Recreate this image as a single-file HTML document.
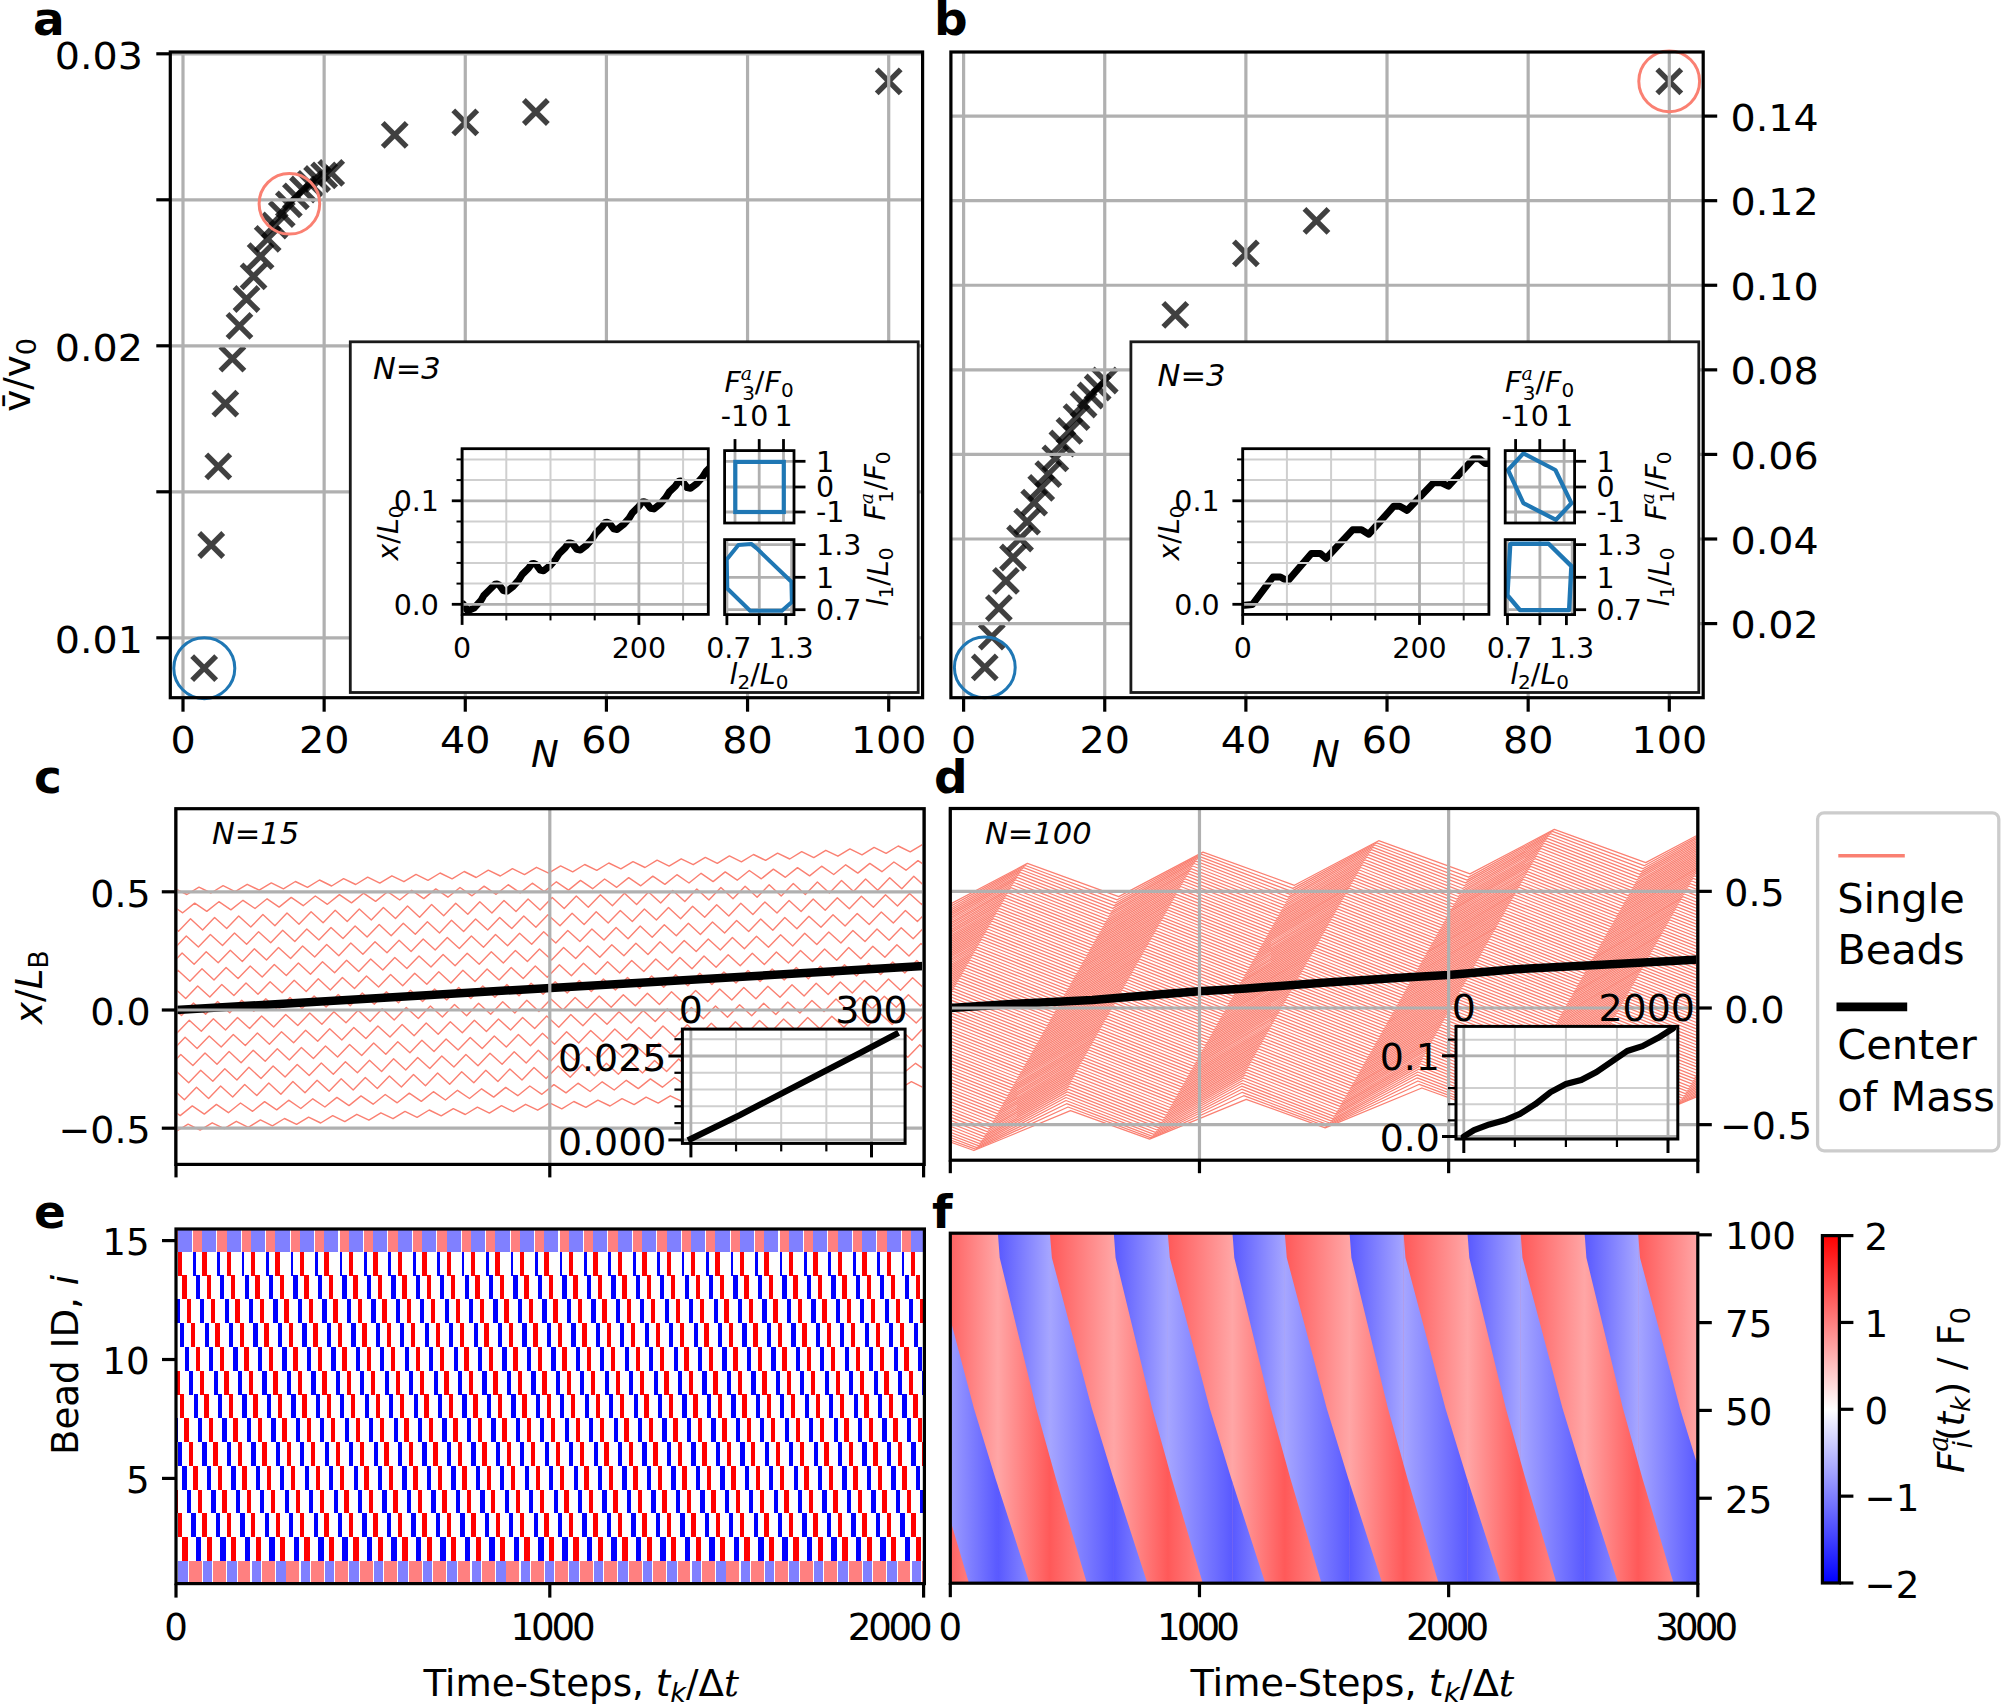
<!DOCTYPE html>
<html><head><meta charset="utf-8"><title>Figure</title>
<style>html,body{margin:0;padding:0;background:#fff;}svg{display:block;}</style>
</head><body>
<svg xmlns="http://www.w3.org/2000/svg" width="2002" height="1704" viewBox="0 0 2002 1704">
<rect x="0" y="0" width="2002" height="1704" fill="#fff"/>
<defs><linearGradient id="gr0" gradientUnits="userSpaceOnUse" x1="950.3" y1="0" x2="997.9" y2="0"><stop offset="0" stop-color="#ff6363"/><stop offset="1" stop-color="#ffa6a6"/></linearGradient>
<linearGradient id="gb0" gradientUnits="userSpaceOnUse" x1="950.3" y1="0" x2="997.9" y2="0"><stop offset="0" stop-color="#9c9cff"/><stop offset="1" stop-color="#5959ff"/></linearGradient>
<linearGradient id="gr1" gradientUnits="userSpaceOnUse" x1="997.9" y1="0" x2="1049.9" y2="0"><stop offset="0" stop-color="#ffa6a6"/><stop offset="1" stop-color="#ff5959"/></linearGradient>
<linearGradient id="gb1" gradientUnits="userSpaceOnUse" x1="997.9" y1="0" x2="1049.9" y2="0"><stop offset="0" stop-color="#5959ff"/><stop offset="1" stop-color="#a6a6ff"/></linearGradient>
<linearGradient id="gr2" gradientUnits="userSpaceOnUse" x1="1049.9" y1="0" x2="1113.8" y2="0"><stop offset="0" stop-color="#ff5959"/><stop offset="1" stop-color="#ffa6a6"/></linearGradient>
<linearGradient id="gb2" gradientUnits="userSpaceOnUse" x1="1049.9" y1="0" x2="1113.8" y2="0"><stop offset="0" stop-color="#a6a6ff"/><stop offset="1" stop-color="#5959ff"/></linearGradient>
<linearGradient id="gr3" gradientUnits="userSpaceOnUse" x1="1113.8" y1="0" x2="1167.8" y2="0"><stop offset="0" stop-color="#ffa6a6"/><stop offset="1" stop-color="#ff5959"/></linearGradient>
<linearGradient id="gb3" gradientUnits="userSpaceOnUse" x1="1113.8" y1="0" x2="1167.8" y2="0"><stop offset="0" stop-color="#5959ff"/><stop offset="1" stop-color="#a6a6ff"/></linearGradient>
<linearGradient id="gr4" gradientUnits="userSpaceOnUse" x1="1167.8" y1="0" x2="1232.5" y2="0"><stop offset="0" stop-color="#ff5959"/><stop offset="1" stop-color="#ffa6a6"/></linearGradient>
<linearGradient id="gb4" gradientUnits="userSpaceOnUse" x1="1167.8" y1="0" x2="1232.5" y2="0"><stop offset="0" stop-color="#a6a6ff"/><stop offset="1" stop-color="#5959ff"/></linearGradient>
<linearGradient id="gr5" gradientUnits="userSpaceOnUse" x1="1232.5" y1="0" x2="1284.8" y2="0"><stop offset="0" stop-color="#ffa6a6"/><stop offset="1" stop-color="#ff5959"/></linearGradient>
<linearGradient id="gb5" gradientUnits="userSpaceOnUse" x1="1232.5" y1="0" x2="1284.8" y2="0"><stop offset="0" stop-color="#5959ff"/><stop offset="1" stop-color="#a6a6ff"/></linearGradient>
<linearGradient id="gr6" gradientUnits="userSpaceOnUse" x1="1284.8" y1="0" x2="1349.6" y2="0"><stop offset="0" stop-color="#ff5959"/><stop offset="1" stop-color="#ffa6a6"/></linearGradient>
<linearGradient id="gb6" gradientUnits="userSpaceOnUse" x1="1284.8" y1="0" x2="1349.6" y2="0"><stop offset="0" stop-color="#a6a6ff"/><stop offset="1" stop-color="#5959ff"/></linearGradient>
<linearGradient id="gr7" gradientUnits="userSpaceOnUse" x1="1349.6" y1="0" x2="1403.5" y2="0"><stop offset="0" stop-color="#ffa6a6"/><stop offset="1" stop-color="#ff5959"/></linearGradient>
<linearGradient id="gb7" gradientUnits="userSpaceOnUse" x1="1349.6" y1="0" x2="1403.5" y2="0"><stop offset="0" stop-color="#5959ff"/><stop offset="1" stop-color="#a6a6ff"/></linearGradient>
<linearGradient id="gr8" gradientUnits="userSpaceOnUse" x1="1403.5" y1="0" x2="1467.5" y2="0"><stop offset="0" stop-color="#ff5959"/><stop offset="1" stop-color="#ffa6a6"/></linearGradient>
<linearGradient id="gb8" gradientUnits="userSpaceOnUse" x1="1403.5" y1="0" x2="1467.5" y2="0"><stop offset="0" stop-color="#a6a6ff"/><stop offset="1" stop-color="#5959ff"/></linearGradient>
<linearGradient id="gr9" gradientUnits="userSpaceOnUse" x1="1467.5" y1="0" x2="1520.6" y2="0"><stop offset="0" stop-color="#ffa6a6"/><stop offset="1" stop-color="#ff5959"/></linearGradient>
<linearGradient id="gb9" gradientUnits="userSpaceOnUse" x1="1467.5" y1="0" x2="1520.6" y2="0"><stop offset="0" stop-color="#5959ff"/><stop offset="1" stop-color="#a6a6ff"/></linearGradient>
<linearGradient id="gr10" gradientUnits="userSpaceOnUse" x1="1520.6" y1="0" x2="1584.6" y2="0"><stop offset="0" stop-color="#ff5959"/><stop offset="1" stop-color="#ffa6a6"/></linearGradient>
<linearGradient id="gb10" gradientUnits="userSpaceOnUse" x1="1520.6" y1="0" x2="1584.6" y2="0"><stop offset="0" stop-color="#a6a6ff"/><stop offset="1" stop-color="#5959ff"/></linearGradient>
<linearGradient id="gr11" gradientUnits="userSpaceOnUse" x1="1584.6" y1="0" x2="1638.1" y2="0"><stop offset="0" stop-color="#ffa6a6"/><stop offset="1" stop-color="#ff5959"/></linearGradient>
<linearGradient id="gb11" gradientUnits="userSpaceOnUse" x1="1584.6" y1="0" x2="1638.1" y2="0"><stop offset="0" stop-color="#5959ff"/><stop offset="1" stop-color="#a6a6ff"/></linearGradient>
<linearGradient id="gr12" gradientUnits="userSpaceOnUse" x1="1638.1" y1="0" x2="1697.8" y2="0"><stop offset="0" stop-color="#ff5959"/><stop offset="1" stop-color="#ffa6a6"/></linearGradient>
<linearGradient id="gb12" gradientUnits="userSpaceOnUse" x1="1638.1" y1="0" x2="1697.8" y2="0"><stop offset="0" stop-color="#a6a6ff"/><stop offset="1" stop-color="#5959ff"/></linearGradient>
<linearGradient id="cbar" x1="0" y1="0" x2="0" y2="1"><stop offset="0" stop-color="#ff0000"/><stop offset="0.5" stop-color="#ffffff"/><stop offset="1" stop-color="#0000ff"/></linearGradient></defs>
<path d="M192.17 656.2L216.17 680.2M192.17 680.2L216.17 656.2" stroke="#000" stroke-opacity="0.75" stroke-width="5.4" fill="none"/>
<path d="M199.23 533L223.23 557M199.23 557L223.23 533" stroke="#000" stroke-opacity="0.75" stroke-width="5.4" fill="none"/>
<path d="M206.28 454.4L230.28 478.4M206.28 478.4L230.28 454.4" stroke="#000" stroke-opacity="0.75" stroke-width="5.4" fill="none"/>
<path d="M213.34 391.6L237.34 415.6M213.34 415.6L237.34 391.6" stroke="#000" stroke-opacity="0.75" stroke-width="5.4" fill="none"/>
<path d="M220.4 346.7L244.4 370.7M220.4 370.7L244.4 346.7" stroke="#000" stroke-opacity="0.75" stroke-width="5.4" fill="none"/>
<path d="M227.46 313.8L251.46 337.8M227.46 337.8L251.46 313.8" stroke="#000" stroke-opacity="0.75" stroke-width="5.4" fill="none"/>
<path d="M234.51 287L258.51 311M234.51 311L258.51 287" stroke="#000" stroke-opacity="0.75" stroke-width="5.4" fill="none"/>
<path d="M241.57 264.3L265.57 288.3M241.57 288.3L265.57 264.3" stroke="#000" stroke-opacity="0.75" stroke-width="5.4" fill="none"/>
<path d="M248.63 244.2L272.63 268.2M248.63 268.2L272.63 244.2" stroke="#000" stroke-opacity="0.75" stroke-width="5.4" fill="none"/>
<path d="M255.68 226.8L279.68 250.8M255.68 250.8L279.68 226.8" stroke="#000" stroke-opacity="0.75" stroke-width="5.4" fill="none"/>
<path d="M262.74 213.5L286.74 237.5M262.74 237.5L286.74 213.5" stroke="#000" stroke-opacity="0.75" stroke-width="5.4" fill="none"/>
<path d="M269.8 202.2L293.8 226.2M269.8 226.2L293.8 202.2" stroke="#000" stroke-opacity="0.75" stroke-width="5.4" fill="none"/>
<path d="M276.86 192.4L300.86 216.4M276.86 216.4L300.86 192.4" stroke="#000" stroke-opacity="0.75" stroke-width="5.4" fill="none"/>
<path d="M283.91 184.3L307.91 208.3M283.91 208.3L307.91 184.3" stroke="#000" stroke-opacity="0.75" stroke-width="5.4" fill="none"/>
<path d="M290.97 177.5L314.97 201.5M290.97 201.5L314.97 177.5" stroke="#000" stroke-opacity="0.75" stroke-width="5.4" fill="none"/>
<path d="M298.03 171.8L322.03 195.8M298.03 195.8L322.03 171.8" stroke="#000" stroke-opacity="0.75" stroke-width="5.4" fill="none"/>
<path d="M305.08 167L329.08 191M305.08 191L329.08 167" stroke="#000" stroke-opacity="0.75" stroke-width="5.4" fill="none"/>
<path d="M312.14 163.3L336.14 187.3M312.14 187.3L336.14 163.3" stroke="#000" stroke-opacity="0.75" stroke-width="5.4" fill="none"/>
<path d="M319.2 160.8L343.2 184.8M319.2 184.8L343.2 160.8" stroke="#000" stroke-opacity="0.75" stroke-width="5.4" fill="none"/>
<path d="M382.71 122.9L406.71 146.9M382.71 146.9L406.71 122.9" stroke="#000" stroke-opacity="0.75" stroke-width="5.4" fill="none"/>
<path d="M453.28 110.4L477.28 134.4M453.28 134.4L477.28 110.4" stroke="#000" stroke-opacity="0.75" stroke-width="5.4" fill="none"/>
<path d="M523.85 100L547.85 124M523.85 124L547.85 100" stroke="#000" stroke-opacity="0.75" stroke-width="5.4" fill="none"/>
<path d="M876.7 69.3L900.7 93.3M876.7 93.3L900.7 69.3" stroke="#000" stroke-opacity="0.75" stroke-width="5.4" fill="none"/>
<line x1="183" y1="52" x2="183" y2="697.7" stroke="#b0b0b0" stroke-width="3.2"/>
<line x1="324.14" y1="52" x2="324.14" y2="697.7" stroke="#b0b0b0" stroke-width="3.2"/>
<line x1="465.28" y1="52" x2="465.28" y2="697.7" stroke="#b0b0b0" stroke-width="3.2"/>
<line x1="606.42" y1="52" x2="606.42" y2="697.7" stroke="#b0b0b0" stroke-width="3.2"/>
<line x1="747.56" y1="52" x2="747.56" y2="697.7" stroke="#b0b0b0" stroke-width="3.2"/>
<line x1="888.7" y1="52" x2="888.7" y2="697.7" stroke="#b0b0b0" stroke-width="3.2"/>
<line x1="170.3" y1="637.8" x2="922.6" y2="637.8" stroke="#b0b0b0" stroke-width="3.2"/>
<line x1="170.3" y1="491.8" x2="922.6" y2="491.8" stroke="#b0b0b0" stroke-width="3.2"/>
<line x1="170.3" y1="345.8" x2="922.6" y2="345.8" stroke="#b0b0b0" stroke-width="3.2"/>
<line x1="170.3" y1="199.8" x2="922.6" y2="199.8" stroke="#b0b0b0" stroke-width="3.2"/>
<line x1="170.3" y1="53.8" x2="922.6" y2="53.8" stroke="#b0b0b0" stroke-width="3.2"/>
<circle cx="204.3" cy="668.2" r="30.5" fill="none" stroke="#1f77b4" stroke-width="3"/>
<circle cx="289.4" cy="203.8" r="30.3" fill="none" stroke="#fa8072" stroke-width="3"/>
<rect x="350.3" y="341.8" width="567.9" height="350.7" fill="#fff" stroke="#1a1a1a" stroke-width="2.8"/>
<text x="373" y="378.5" font-family="'DejaVu Sans', 'Liberation Sans', sans-serif" font-size="30.5" font-style="italic">N=3</text>
<clipPath id="clipTa"><rect x="462.1" y="448.7" width="246.2" height="165.7"/></clipPath>
<path d="M463.1 603.9L467.7 610.9L474 608.1L481 600.4L483.8 595.5L489.4 589.9L495 584.3L497 584.1L499.2 585L503.4 590.6L506.9 591.3L513.1 586.4L518.7 580.1L522.2 574.5L528.5 568.3L531.8 563.7L533.8 563.5L536 564.4L540.1 570L543.6 570.7L549.9 565.8L555.5 559.5L559 553.9L565.2 547.7L568.5 543.1L570.5 542.9L572.7 543.8L576.9 549.4L580.4 550.1L586.6 545.2L592.2 538.9L595.7 533.3L602 527.1L605.2 522.5L607.2 522.3L609.5 523.2L613.6 528.8L617.1 529.5L623.4 524.6L629 518.3L632.5 512.7L638.8 506.5L642 501.9L644 501.7L646.2 502.6L650.4 508.2L653.9 508.9L660.1 504L665.7 497.7L669.2 492.1L675.5 485.9L678.8 481.3L680.8 481.1L683 482L687.1 487.6L690.6 488.3L696.9 483.4L702.5 477.1L706 471.5L712.2 465.3L715.5 460.7" fill="none" stroke="#000" stroke-width="7" stroke-linejoin="round" stroke-linecap="round" clip-path="url(#clipTa)"/>
<line x1="506.3" y1="448.7" x2="506.3" y2="614.4" stroke="#cfcfcf" stroke-width="2"/>
<line x1="550.5" y1="448.7" x2="550.5" y2="614.4" stroke="#cfcfcf" stroke-width="2"/>
<line x1="594.7" y1="448.7" x2="594.7" y2="614.4" stroke="#cfcfcf" stroke-width="2"/>
<line x1="683.1" y1="448.7" x2="683.1" y2="614.4" stroke="#cfcfcf" stroke-width="2"/>
<line x1="462.1" y1="583.6" x2="708.3" y2="583.6" stroke="#cfcfcf" stroke-width="2"/>
<line x1="462.1" y1="562.9" x2="708.3" y2="562.9" stroke="#cfcfcf" stroke-width="2"/>
<line x1="462.1" y1="542.2" x2="708.3" y2="542.2" stroke="#cfcfcf" stroke-width="2"/>
<line x1="462.1" y1="521.5" x2="708.3" y2="521.5" stroke="#cfcfcf" stroke-width="2"/>
<line x1="462.1" y1="480.1" x2="708.3" y2="480.1" stroke="#cfcfcf" stroke-width="2"/>
<line x1="462.1" y1="459.4" x2="708.3" y2="459.4" stroke="#cfcfcf" stroke-width="2"/>
<line x1="462.1" y1="448.7" x2="462.1" y2="614.4" stroke="#b0b0b0" stroke-width="2.8"/>
<line x1="638.9" y1="448.7" x2="638.9" y2="614.4" stroke="#b0b0b0" stroke-width="2.8"/>
<line x1="462.1" y1="604.3" x2="708.3" y2="604.3" stroke="#b0b0b0" stroke-width="2.8"/>
<line x1="462.1" y1="500.8" x2="708.3" y2="500.8" stroke="#b0b0b0" stroke-width="2.8"/>
<rect x="462.1" y="448.7" width="246.2" height="165.7" fill="none" stroke="#000" stroke-width="2.8" stroke-linejoin="miter"/>
<line x1="456.5" y1="583.6" x2="462.1" y2="583.6" stroke="#000" stroke-width="2"/>
<line x1="456.5" y1="562.9" x2="462.1" y2="562.9" stroke="#000" stroke-width="2"/>
<line x1="456.5" y1="542.2" x2="462.1" y2="542.2" stroke="#000" stroke-width="2"/>
<line x1="456.5" y1="521.5" x2="462.1" y2="521.5" stroke="#000" stroke-width="2"/>
<line x1="456.5" y1="480.1" x2="462.1" y2="480.1" stroke="#000" stroke-width="2"/>
<line x1="456.5" y1="459.4" x2="462.1" y2="459.4" stroke="#000" stroke-width="2"/>
<line x1="451.8" y1="604.3" x2="462.1" y2="604.3" stroke="#000" stroke-width="2.8"/>
<text x="439" y="614.6" font-family="'DejaVu Sans', 'Liberation Sans', sans-serif" font-size="28.5" text-anchor="end">0.0</text>
<line x1="451.8" y1="500.8" x2="462.1" y2="500.8" stroke="#000" stroke-width="2.8"/>
<text x="439" y="511.1" font-family="'DejaVu Sans', 'Liberation Sans', sans-serif" font-size="28.5" text-anchor="end">0.1</text>
<line x1="506.3" y1="614.4" x2="506.3" y2="620.4" stroke="#000" stroke-width="2"/>
<line x1="550.5" y1="614.4" x2="550.5" y2="620.4" stroke="#000" stroke-width="2"/>
<line x1="594.7" y1="614.4" x2="594.7" y2="620.4" stroke="#000" stroke-width="2"/>
<line x1="683.1" y1="614.4" x2="683.1" y2="620.4" stroke="#000" stroke-width="2"/>
<line x1="462.1" y1="614.4" x2="462.1" y2="624.9" stroke="#000" stroke-width="2.8"/>
<text x="462.1" y="658.2" font-family="'DejaVu Sans', 'Liberation Sans', sans-serif" font-size="28.5" text-anchor="middle">0</text>
<line x1="638.9" y1="614.4" x2="638.9" y2="624.9" stroke="#000" stroke-width="2.8"/>
<text x="638.9" y="658.2" font-family="'DejaVu Sans', 'Liberation Sans', sans-serif" font-size="28.5" text-anchor="middle">200</text>
<text transform="translate(398,533) rotate(-90)" font-family="'DejaVu Sans', 'Liberation Sans', sans-serif" font-size="28.5" text-anchor="middle"><tspan font-style="italic">x</tspan>/<tspan font-style="italic">L</tspan><tspan font-size="20" dy="5">0</tspan></text>
<line x1="735" y1="450.6" x2="735" y2="523" stroke="#b0b0b0" stroke-width="2.8"/>
<line x1="759.2" y1="450.6" x2="759.2" y2="523" stroke="#b0b0b0" stroke-width="2.8"/>
<line x1="783.5" y1="450.6" x2="783.5" y2="523" stroke="#b0b0b0" stroke-width="2.8"/>
<line x1="724.6" y1="461.3" x2="794" y2="461.3" stroke="#b0b0b0" stroke-width="2.8"/>
<line x1="724.6" y1="487" x2="794" y2="487" stroke="#b0b0b0" stroke-width="2.8"/>
<line x1="724.6" y1="512" x2="794" y2="512" stroke="#b0b0b0" stroke-width="2.8"/>
<rect x="735.3" y="461.9" width="48.5" height="50.1" fill="none" stroke="#1f77b4" stroke-width="4.2"/>
<rect x="724.6" y="450.6" width="69.4" height="72.4" fill="none" stroke="#000" stroke-width="2.8" stroke-linejoin="miter"/>
<line x1="735" y1="439.1" x2="735" y2="450.6" stroke="#000" stroke-width="2.8"/>
<line x1="759.2" y1="439.1" x2="759.2" y2="450.6" stroke="#000" stroke-width="2.8"/>
<line x1="783.5" y1="439.1" x2="783.5" y2="450.6" stroke="#000" stroke-width="2.8"/>
<line x1="794" y1="461.3" x2="805.5" y2="461.3" stroke="#000" stroke-width="2.8"/>
<line x1="794" y1="487" x2="805.5" y2="487" stroke="#000" stroke-width="2.8"/>
<line x1="794" y1="512" x2="805.5" y2="512" stroke="#000" stroke-width="2.8"/>
<text x="735" y="425.5" font-family="'DejaVu Sans', 'Liberation Sans', sans-serif" font-size="28.5" text-anchor="middle">-1</text>
<text x="759.2" y="425.5" font-family="'DejaVu Sans', 'Liberation Sans', sans-serif" font-size="28.5" text-anchor="middle">0</text>
<text x="783.5" y="425.5" font-family="'DejaVu Sans', 'Liberation Sans', sans-serif" font-size="28.5" text-anchor="middle">1</text>
<text x="816" y="471.6" font-family="'DejaVu Sans', 'Liberation Sans', sans-serif" font-size="28.5">1</text>
<text x="816" y="497.3" font-family="'DejaVu Sans', 'Liberation Sans', sans-serif" font-size="28.5">0</text>
<text x="816" y="522.3" font-family="'DejaVu Sans', 'Liberation Sans', sans-serif" font-size="28.5">-1</text>
<text x="759" y="392" font-family="'DejaVu Sans', 'Liberation Sans', sans-serif" font-size="28.5" text-anchor="middle"><tspan font-style="italic">F</tspan><tspan font-size="19" dy="-12" font-family="'DejaVu Serif', 'Liberation Serif', serif" font-style="italic">a</tspan><tspan font-size="20" dx="-10" dy="20">3</tspan><tspan dy="-8">/</tspan><tspan font-style="italic">F</tspan><tspan font-size="20" dy="5">0</tspan></text>
<text transform="translate(885,486) rotate(-90)" font-family="'DejaVu Sans', 'Liberation Sans', sans-serif" font-size="28.5" text-anchor="middle"><tspan font-style="italic">F</tspan><tspan font-size="19" dy="-12" font-family="'DejaVu Serif', 'Liberation Serif', serif" font-style="italic">a</tspan><tspan font-size="20" dx="-10" dy="20">1</tspan><tspan dy="-8">/</tspan><tspan font-style="italic">F</tspan><tspan font-size="20" dy="5">0</tspan></text>
<line x1="726.9" y1="539.6" x2="726.9" y2="614.6" stroke="#b0b0b0" stroke-width="2.8"/>
<line x1="759.3" y1="539.6" x2="759.3" y2="614.6" stroke="#b0b0b0" stroke-width="2.8"/>
<line x1="791.6" y1="539.6" x2="791.6" y2="614.6" stroke="#b0b0b0" stroke-width="2.8"/>
<line x1="724.6" y1="544.6" x2="794" y2="544.6" stroke="#b0b0b0" stroke-width="2.8"/>
<line x1="724.6" y1="577.3" x2="794" y2="577.3" stroke="#b0b0b0" stroke-width="2.8"/>
<line x1="724.6" y1="609.7" x2="794" y2="609.7" stroke="#b0b0b0" stroke-width="2.8"/>
<path d="M726.7 559.5 L738.4 545 L751.2 543.9 L756.8 548.4 L791.4 581.8 L791.9 601.9 L781.9 610.8 L750.1 610.8 L727.3 588.5 Z" fill="none" stroke="#1f77b4" stroke-width="4" stroke-linejoin="round"/>
<rect x="724.6" y="539.6" width="69.4" height="75" fill="none" stroke="#000" stroke-width="2.8" stroke-linejoin="miter"/>
<line x1="726.9" y1="614.6" x2="726.9" y2="625.1" stroke="#000" stroke-width="2.8"/>
<line x1="759.3" y1="614.6" x2="759.3" y2="625.1" stroke="#000" stroke-width="2.8"/>
<line x1="785.8" y1="614.6" x2="785.8" y2="625.1" stroke="#000" stroke-width="2.8"/>
<line x1="794" y1="544.6" x2="805.5" y2="544.6" stroke="#000" stroke-width="2.8"/>
<line x1="794" y1="577.3" x2="805.5" y2="577.3" stroke="#000" stroke-width="2.8"/>
<line x1="794" y1="609.7" x2="805.5" y2="609.7" stroke="#000" stroke-width="2.8"/>
<text x="728.8" y="658.2" font-family="'DejaVu Sans', 'Liberation Sans', sans-serif" font-size="28.5" text-anchor="middle">0.7</text>
<text x="791" y="658.2" font-family="'DejaVu Sans', 'Liberation Sans', sans-serif" font-size="28.5" text-anchor="middle">1.3</text>
<text x="816" y="554.9" font-family="'DejaVu Sans', 'Liberation Sans', sans-serif" font-size="28.5">1.3</text>
<text x="816" y="587.6" font-family="'DejaVu Sans', 'Liberation Sans', sans-serif" font-size="28.5">1</text>
<text x="816" y="620" font-family="'DejaVu Sans', 'Liberation Sans', sans-serif" font-size="28.5">0.7</text>
<text x="759" y="684" font-family="'DejaVu Sans', 'Liberation Sans', sans-serif" font-size="28.5" text-anchor="middle"><tspan font-style="italic">l</tspan><tspan font-size="20" dy="5">2</tspan><tspan dy="-5">/</tspan><tspan font-style="italic">L</tspan><tspan font-size="20" dy="5">0</tspan></text>
<text transform="translate(888,577) rotate(-90)" font-family="'DejaVu Sans', 'Liberation Sans', sans-serif" font-size="28.5" text-anchor="middle"><tspan font-style="italic">l</tspan><tspan font-size="20" dy="5">1</tspan><tspan dy="-5">/</tspan><tspan font-style="italic">L</tspan><tspan font-size="20" dy="5">0</tspan></text>
<rect x="170.3" y="52" width="752.3" height="645.7" fill="none" stroke="#000" stroke-width="3.2" stroke-linejoin="miter"/>
<line x1="183" y1="697.7" x2="183" y2="711.7" stroke="#000" stroke-width="3.2"/>
<text x="0" y="0" font-family="'DejaVu Sans', 'Liberation Sans', sans-serif" font-size="37.2" text-anchor="middle" transform="translate(183,753.2) scale(1.065,1)">0</text>
<line x1="324.14" y1="697.7" x2="324.14" y2="711.7" stroke="#000" stroke-width="3.2"/>
<text x="0" y="0" font-family="'DejaVu Sans', 'Liberation Sans', sans-serif" font-size="37.2" text-anchor="middle" transform="translate(324.14,753.2) scale(1.065,1)">20</text>
<line x1="465.28" y1="697.7" x2="465.28" y2="711.7" stroke="#000" stroke-width="3.2"/>
<text x="0" y="0" font-family="'DejaVu Sans', 'Liberation Sans', sans-serif" font-size="37.2" text-anchor="middle" transform="translate(465.28,753.2) scale(1.065,1)">40</text>
<line x1="606.42" y1="697.7" x2="606.42" y2="711.7" stroke="#000" stroke-width="3.2"/>
<text x="0" y="0" font-family="'DejaVu Sans', 'Liberation Sans', sans-serif" font-size="37.2" text-anchor="middle" transform="translate(606.42,753.2) scale(1.065,1)">60</text>
<line x1="747.56" y1="697.7" x2="747.56" y2="711.7" stroke="#000" stroke-width="3.2"/>
<text x="0" y="0" font-family="'DejaVu Sans', 'Liberation Sans', sans-serif" font-size="37.2" text-anchor="middle" transform="translate(747.56,753.2) scale(1.065,1)">80</text>
<line x1="888.7" y1="697.7" x2="888.7" y2="711.7" stroke="#000" stroke-width="3.2"/>
<text x="0" y="0" font-family="'DejaVu Sans', 'Liberation Sans', sans-serif" font-size="37.2" text-anchor="middle" transform="translate(888.7,753.2) scale(1.065,1)">100</text>
<line x1="156.3" y1="637.8" x2="170.3" y2="637.8" stroke="#000" stroke-width="3.2"/>
<line x1="156.3" y1="491.8" x2="170.3" y2="491.8" stroke="#000" stroke-width="3.2"/>
<line x1="156.3" y1="345.8" x2="170.3" y2="345.8" stroke="#000" stroke-width="3.2"/>
<line x1="156.3" y1="199.8" x2="170.3" y2="199.8" stroke="#000" stroke-width="3.2"/>
<line x1="156.3" y1="53.8" x2="170.3" y2="53.8" stroke="#000" stroke-width="3.2"/>
<text x="0" y="0" font-family="'DejaVu Sans', 'Liberation Sans', sans-serif" font-size="37.2" text-anchor="end" transform="translate(142.9,652.5) scale(1.065,1)">0.01</text>
<text x="0" y="0" font-family="'DejaVu Sans', 'Liberation Sans', sans-serif" font-size="37.2" text-anchor="end" transform="translate(142.9,360.5) scale(1.065,1)">0.02</text>
<text x="0" y="0" font-family="'DejaVu Sans', 'Liberation Sans', sans-serif" font-size="37.2" text-anchor="end" transform="translate(142.9,68.5) scale(1.065,1)">0.03</text>
<text x="545" y="767" font-family="'DejaVu Sans', 'Liberation Sans', sans-serif" font-size="37.2" text-anchor="middle" font-style="italic">N</text>
<text transform="translate(29.5,375) rotate(-90)" font-family="'DejaVu Sans', 'Liberation Sans', sans-serif" font-size="37.2" text-anchor="middle">v̄/v<tspan font-size="27" dy="6">0</tspan></text>
<text x="33" y="34.8" font-family="'DejaVu Sans', 'Liberation Sans', sans-serif" font-size="47" font-weight="bold">a</text>
<path d="M972.77 655.4L996.77 679.4M972.77 679.4L996.77 655.4" stroke="#000" stroke-opacity="0.75" stroke-width="5.4" fill="none"/>
<path d="M979.83 624.7L1003.83 648.7M979.83 648.7L1003.83 624.7" stroke="#000" stroke-opacity="0.75" stroke-width="5.4" fill="none"/>
<path d="M986.88 596.2L1010.88 620.2M986.88 620.2L1010.88 596.2" stroke="#000" stroke-opacity="0.75" stroke-width="5.4" fill="none"/>
<path d="M993.94 568.8L1017.94 592.8M993.94 592.8L1017.94 568.8" stroke="#000" stroke-opacity="0.75" stroke-width="5.4" fill="none"/>
<path d="M1001 545.5L1025 569.5M1001 569.5L1025 545.5" stroke="#000" stroke-opacity="0.75" stroke-width="5.4" fill="none"/>
<path d="M1008.06 526.5L1032.06 550.5M1008.06 550.5L1032.06 526.5" stroke="#000" stroke-opacity="0.75" stroke-width="5.4" fill="none"/>
<path d="M1015.11 509.6L1039.11 533.6M1015.11 533.6L1039.11 509.6" stroke="#000" stroke-opacity="0.75" stroke-width="5.4" fill="none"/>
<path d="M1022.17 490.6L1046.17 514.6M1022.17 514.6L1046.17 490.6" stroke="#000" stroke-opacity="0.75" stroke-width="5.4" fill="none"/>
<path d="M1029.23 475.8L1053.23 499.8M1029.23 499.8L1053.23 475.8" stroke="#000" stroke-opacity="0.75" stroke-width="5.4" fill="none"/>
<path d="M1036.28 462.1L1060.28 486.1M1036.28 486.1L1060.28 462.1" stroke="#000" stroke-opacity="0.75" stroke-width="5.4" fill="none"/>
<path d="M1043.34 446.3L1067.34 470.3M1043.34 470.3L1067.34 446.3" stroke="#000" stroke-opacity="0.75" stroke-width="5.4" fill="none"/>
<path d="M1050.4 431.5L1074.4 455.5M1050.4 455.5L1074.4 431.5" stroke="#000" stroke-opacity="0.75" stroke-width="5.4" fill="none"/>
<path d="M1057.45 418.8L1081.45 442.8M1057.45 442.8L1081.45 418.8" stroke="#000" stroke-opacity="0.75" stroke-width="5.4" fill="none"/>
<path d="M1064.51 405.1L1088.51 429.1M1064.51 429.1L1088.51 405.1" stroke="#000" stroke-opacity="0.75" stroke-width="5.4" fill="none"/>
<path d="M1071.57 392.5L1095.57 416.5M1071.57 416.5L1095.57 392.5" stroke="#000" stroke-opacity="0.75" stroke-width="5.4" fill="none"/>
<path d="M1078.63 383.5L1102.63 407.5M1078.63 407.5L1102.63 383.5" stroke="#000" stroke-opacity="0.75" stroke-width="5.4" fill="none"/>
<path d="M1085.68 375.5L1109.68 399.5M1085.68 399.5L1109.68 375.5" stroke="#000" stroke-opacity="0.75" stroke-width="5.4" fill="none"/>
<path d="M1092.74 368.5L1116.74 392.5M1092.74 392.5L1116.74 368.5" stroke="#000" stroke-opacity="0.75" stroke-width="5.4" fill="none"/>
<path d="M1163.31 302.9L1187.31 326.9M1163.31 326.9L1187.31 302.9" stroke="#000" stroke-opacity="0.75" stroke-width="5.4" fill="none"/>
<path d="M1233.88 241.4L1257.88 265.4M1233.88 265.4L1257.88 241.4" stroke="#000" stroke-opacity="0.75" stroke-width="5.4" fill="none"/>
<path d="M1304.45 208.8L1328.45 232.8M1304.45 232.8L1328.45 208.8" stroke="#000" stroke-opacity="0.75" stroke-width="5.4" fill="none"/>
<path d="M1657.3 69.3L1681.3 93.3M1657.3 93.3L1681.3 69.3" stroke="#000" stroke-opacity="0.75" stroke-width="5.4" fill="none"/>
<line x1="963.6" y1="52" x2="963.6" y2="697.7" stroke="#b0b0b0" stroke-width="3.2"/>
<line x1="1104.74" y1="52" x2="1104.74" y2="697.7" stroke="#b0b0b0" stroke-width="3.2"/>
<line x1="1245.88" y1="52" x2="1245.88" y2="697.7" stroke="#b0b0b0" stroke-width="3.2"/>
<line x1="1387.02" y1="52" x2="1387.02" y2="697.7" stroke="#b0b0b0" stroke-width="3.2"/>
<line x1="1528.16" y1="52" x2="1528.16" y2="697.7" stroke="#b0b0b0" stroke-width="3.2"/>
<line x1="1669.3" y1="52" x2="1669.3" y2="697.7" stroke="#b0b0b0" stroke-width="3.2"/>
<line x1="950.9" y1="623.58" x2="1703.2" y2="623.58" stroke="#b0b0b0" stroke-width="3.2"/>
<line x1="950.9" y1="539" x2="1703.2" y2="539" stroke="#b0b0b0" stroke-width="3.2"/>
<line x1="950.9" y1="454.42" x2="1703.2" y2="454.42" stroke="#b0b0b0" stroke-width="3.2"/>
<line x1="950.9" y1="369.84" x2="1703.2" y2="369.84" stroke="#b0b0b0" stroke-width="3.2"/>
<line x1="950.9" y1="285.26" x2="1703.2" y2="285.26" stroke="#b0b0b0" stroke-width="3.2"/>
<line x1="950.9" y1="200.68" x2="1703.2" y2="200.68" stroke="#b0b0b0" stroke-width="3.2"/>
<line x1="950.9" y1="116.1" x2="1703.2" y2="116.1" stroke="#b0b0b0" stroke-width="3.2"/>
<circle cx="984.8" cy="667.4" r="30.4" fill="none" stroke="#1f77b4" stroke-width="3"/>
<circle cx="1669.2" cy="81.3" r="30.4" fill="none" stroke="#fa8072" stroke-width="3"/>
<rect x="1130.9" y="341.8" width="567.9" height="350.7" fill="#fff" stroke="#1a1a1a" stroke-width="2.8"/>
<text x="1157.6" y="386" font-family="'DejaVu Sans', 'Liberation Sans', sans-serif" font-size="30.5" font-style="italic">N=3</text>
<clipPath id="clipTb"><rect x="1242.7" y="448.7" width="246.2" height="165.7"/></clipPath>
<path d="M1242.1 605.5L1252.4 604.5L1273 577L1280.4 577L1287.8 581.1L1311.4 553.4L1320.2 553.4L1326.1 558.4L1352.6 529.8L1361.5 529.8L1368.8 534.2L1393.8 506.2L1399.8 506.2L1407.1 510.4L1433.7 482.7L1441.1 482.7L1448.4 486.2L1473.4 458.8L1479.3 458.8L1485.2 463.5L1489.8 463.5" fill="none" stroke="#000" stroke-width="7" stroke-linejoin="round" stroke-linecap="round" clip-path="url(#clipTb)"/>
<line x1="1286.9" y1="448.7" x2="1286.9" y2="614.4" stroke="#cfcfcf" stroke-width="2"/>
<line x1="1331.1" y1="448.7" x2="1331.1" y2="614.4" stroke="#cfcfcf" stroke-width="2"/>
<line x1="1375.3" y1="448.7" x2="1375.3" y2="614.4" stroke="#cfcfcf" stroke-width="2"/>
<line x1="1463.7" y1="448.7" x2="1463.7" y2="614.4" stroke="#cfcfcf" stroke-width="2"/>
<line x1="1242.7" y1="583.6" x2="1488.9" y2="583.6" stroke="#cfcfcf" stroke-width="2"/>
<line x1="1242.7" y1="562.9" x2="1488.9" y2="562.9" stroke="#cfcfcf" stroke-width="2"/>
<line x1="1242.7" y1="542.2" x2="1488.9" y2="542.2" stroke="#cfcfcf" stroke-width="2"/>
<line x1="1242.7" y1="521.5" x2="1488.9" y2="521.5" stroke="#cfcfcf" stroke-width="2"/>
<line x1="1242.7" y1="480.1" x2="1488.9" y2="480.1" stroke="#cfcfcf" stroke-width="2"/>
<line x1="1242.7" y1="459.4" x2="1488.9" y2="459.4" stroke="#cfcfcf" stroke-width="2"/>
<line x1="1242.7" y1="448.7" x2="1242.7" y2="614.4" stroke="#b0b0b0" stroke-width="2.8"/>
<line x1="1419.5" y1="448.7" x2="1419.5" y2="614.4" stroke="#b0b0b0" stroke-width="2.8"/>
<line x1="1242.7" y1="604.3" x2="1488.9" y2="604.3" stroke="#b0b0b0" stroke-width="2.8"/>
<line x1="1242.7" y1="500.8" x2="1488.9" y2="500.8" stroke="#b0b0b0" stroke-width="2.8"/>
<rect x="1242.7" y="448.7" width="246.2" height="165.7" fill="none" stroke="#000" stroke-width="2.8" stroke-linejoin="miter"/>
<line x1="1237.1" y1="583.6" x2="1242.7" y2="583.6" stroke="#000" stroke-width="2"/>
<line x1="1237.1" y1="562.9" x2="1242.7" y2="562.9" stroke="#000" stroke-width="2"/>
<line x1="1237.1" y1="542.2" x2="1242.7" y2="542.2" stroke="#000" stroke-width="2"/>
<line x1="1237.1" y1="521.5" x2="1242.7" y2="521.5" stroke="#000" stroke-width="2"/>
<line x1="1237.1" y1="480.1" x2="1242.7" y2="480.1" stroke="#000" stroke-width="2"/>
<line x1="1237.1" y1="459.4" x2="1242.7" y2="459.4" stroke="#000" stroke-width="2"/>
<line x1="1232.4" y1="604.3" x2="1242.7" y2="604.3" stroke="#000" stroke-width="2.8"/>
<text x="1219.6" y="614.6" font-family="'DejaVu Sans', 'Liberation Sans', sans-serif" font-size="28.5" text-anchor="end">0.0</text>
<line x1="1232.4" y1="500.8" x2="1242.7" y2="500.8" stroke="#000" stroke-width="2.8"/>
<text x="1219.6" y="511.1" font-family="'DejaVu Sans', 'Liberation Sans', sans-serif" font-size="28.5" text-anchor="end">0.1</text>
<line x1="1286.9" y1="614.4" x2="1286.9" y2="620.4" stroke="#000" stroke-width="2"/>
<line x1="1331.1" y1="614.4" x2="1331.1" y2="620.4" stroke="#000" stroke-width="2"/>
<line x1="1375.3" y1="614.4" x2="1375.3" y2="620.4" stroke="#000" stroke-width="2"/>
<line x1="1463.7" y1="614.4" x2="1463.7" y2="620.4" stroke="#000" stroke-width="2"/>
<line x1="1242.7" y1="614.4" x2="1242.7" y2="624.9" stroke="#000" stroke-width="2.8"/>
<text x="1242.7" y="658.2" font-family="'DejaVu Sans', 'Liberation Sans', sans-serif" font-size="28.5" text-anchor="middle">0</text>
<line x1="1419.5" y1="614.4" x2="1419.5" y2="624.9" stroke="#000" stroke-width="2.8"/>
<text x="1419.5" y="658.2" font-family="'DejaVu Sans', 'Liberation Sans', sans-serif" font-size="28.5" text-anchor="middle">200</text>
<text transform="translate(1178.6,533) rotate(-90)" font-family="'DejaVu Sans', 'Liberation Sans', sans-serif" font-size="28.5" text-anchor="middle"><tspan font-style="italic">x</tspan>/<tspan font-style="italic">L</tspan><tspan font-size="20" dy="5">0</tspan></text>
<line x1="1515.6" y1="450.6" x2="1515.6" y2="523" stroke="#b0b0b0" stroke-width="2.8"/>
<line x1="1539.8" y1="450.6" x2="1539.8" y2="523" stroke="#b0b0b0" stroke-width="2.8"/>
<line x1="1564.1" y1="450.6" x2="1564.1" y2="523" stroke="#b0b0b0" stroke-width="2.8"/>
<line x1="1505.2" y1="461.3" x2="1574.6" y2="461.3" stroke="#b0b0b0" stroke-width="2.8"/>
<line x1="1505.2" y1="487" x2="1574.6" y2="487" stroke="#b0b0b0" stroke-width="2.8"/>
<line x1="1505.2" y1="512" x2="1574.6" y2="512" stroke="#b0b0b0" stroke-width="2.8"/>
<path d="M1523.4 453.4 L1555.4 470 L1571.4 503.2 L1556 519.8 L1523.4 503.2 L1508 470 Z" fill="none" stroke="#1f77b4" stroke-width="4.2" stroke-linejoin="round"/>
<rect x="1505.2" y="450.6" width="69.4" height="72.4" fill="none" stroke="#000" stroke-width="2.8" stroke-linejoin="miter"/>
<line x1="1515.6" y1="439.1" x2="1515.6" y2="450.6" stroke="#000" stroke-width="2.8"/>
<line x1="1539.8" y1="439.1" x2="1539.8" y2="450.6" stroke="#000" stroke-width="2.8"/>
<line x1="1564.1" y1="439.1" x2="1564.1" y2="450.6" stroke="#000" stroke-width="2.8"/>
<line x1="1574.6" y1="461.3" x2="1586.1" y2="461.3" stroke="#000" stroke-width="2.8"/>
<line x1="1574.6" y1="487" x2="1586.1" y2="487" stroke="#000" stroke-width="2.8"/>
<line x1="1574.6" y1="512" x2="1586.1" y2="512" stroke="#000" stroke-width="2.8"/>
<text x="1515.6" y="425.5" font-family="'DejaVu Sans', 'Liberation Sans', sans-serif" font-size="28.5" text-anchor="middle">-1</text>
<text x="1539.8" y="425.5" font-family="'DejaVu Sans', 'Liberation Sans', sans-serif" font-size="28.5" text-anchor="middle">0</text>
<text x="1564.1" y="425.5" font-family="'DejaVu Sans', 'Liberation Sans', sans-serif" font-size="28.5" text-anchor="middle">1</text>
<text x="1596.6" y="471.6" font-family="'DejaVu Sans', 'Liberation Sans', sans-serif" font-size="28.5">1</text>
<text x="1596.6" y="497.3" font-family="'DejaVu Sans', 'Liberation Sans', sans-serif" font-size="28.5">0</text>
<text x="1596.6" y="522.3" font-family="'DejaVu Sans', 'Liberation Sans', sans-serif" font-size="28.5">-1</text>
<text x="1539.6" y="392" font-family="'DejaVu Sans', 'Liberation Sans', sans-serif" font-size="28.5" text-anchor="middle"><tspan font-style="italic">F</tspan><tspan font-size="19" dy="-12" font-family="'DejaVu Serif', 'Liberation Serif', serif" font-style="italic">a</tspan><tspan font-size="20" dx="-10" dy="20">3</tspan><tspan dy="-8">/</tspan><tspan font-style="italic">F</tspan><tspan font-size="20" dy="5">0</tspan></text>
<text transform="translate(1665.6,486) rotate(-90)" font-family="'DejaVu Sans', 'Liberation Sans', sans-serif" font-size="28.5" text-anchor="middle"><tspan font-style="italic">F</tspan><tspan font-size="19" dy="-12" font-family="'DejaVu Serif', 'Liberation Serif', serif" font-style="italic">a</tspan><tspan font-size="20" dx="-10" dy="20">1</tspan><tspan dy="-8">/</tspan><tspan font-style="italic">F</tspan><tspan font-size="20" dy="5">0</tspan></text>
<line x1="1507.5" y1="539.6" x2="1507.5" y2="614.6" stroke="#b0b0b0" stroke-width="2.8"/>
<line x1="1539.9" y1="539.6" x2="1539.9" y2="614.6" stroke="#b0b0b0" stroke-width="2.8"/>
<line x1="1572.2" y1="539.6" x2="1572.2" y2="614.6" stroke="#b0b0b0" stroke-width="2.8"/>
<line x1="1505.2" y1="544.6" x2="1574.6" y2="544.6" stroke="#b0b0b0" stroke-width="2.8"/>
<line x1="1505.2" y1="577.3" x2="1574.6" y2="577.3" stroke="#b0b0b0" stroke-width="2.8"/>
<line x1="1505.2" y1="609.7" x2="1574.6" y2="609.7" stroke="#b0b0b0" stroke-width="2.8"/>
<path d="M1510.8 543.8 L1548.6 543.8 L1571.4 566.1 L1569.1 610.1 L1520 610.1 L1507.4 595.3 L1510.2 544.4 Z" fill="none" stroke="#1f77b4" stroke-width="4.4" stroke-linejoin="round"/>
<rect x="1505.2" y="539.6" width="69.4" height="75" fill="none" stroke="#000" stroke-width="2.8" stroke-linejoin="miter"/>
<line x1="1507.5" y1="614.6" x2="1507.5" y2="625.1" stroke="#000" stroke-width="2.8"/>
<line x1="1539.9" y1="614.6" x2="1539.9" y2="625.1" stroke="#000" stroke-width="2.8"/>
<line x1="1566.4" y1="614.6" x2="1566.4" y2="625.1" stroke="#000" stroke-width="2.8"/>
<line x1="1574.6" y1="544.6" x2="1586.1" y2="544.6" stroke="#000" stroke-width="2.8"/>
<line x1="1574.6" y1="577.3" x2="1586.1" y2="577.3" stroke="#000" stroke-width="2.8"/>
<line x1="1574.6" y1="609.7" x2="1586.1" y2="609.7" stroke="#000" stroke-width="2.8"/>
<text x="1509.4" y="658.2" font-family="'DejaVu Sans', 'Liberation Sans', sans-serif" font-size="28.5" text-anchor="middle">0.7</text>
<text x="1571.6" y="658.2" font-family="'DejaVu Sans', 'Liberation Sans', sans-serif" font-size="28.5" text-anchor="middle">1.3</text>
<text x="1596.6" y="554.9" font-family="'DejaVu Sans', 'Liberation Sans', sans-serif" font-size="28.5">1.3</text>
<text x="1596.6" y="587.6" font-family="'DejaVu Sans', 'Liberation Sans', sans-serif" font-size="28.5">1</text>
<text x="1596.6" y="620" font-family="'DejaVu Sans', 'Liberation Sans', sans-serif" font-size="28.5">0.7</text>
<text x="1539.6" y="684" font-family="'DejaVu Sans', 'Liberation Sans', sans-serif" font-size="28.5" text-anchor="middle"><tspan font-style="italic">l</tspan><tspan font-size="20" dy="5">2</tspan><tspan dy="-5">/</tspan><tspan font-style="italic">L</tspan><tspan font-size="20" dy="5">0</tspan></text>
<text transform="translate(1668.6,577) rotate(-90)" font-family="'DejaVu Sans', 'Liberation Sans', sans-serif" font-size="28.5" text-anchor="middle"><tspan font-style="italic">l</tspan><tspan font-size="20" dy="5">1</tspan><tspan dy="-5">/</tspan><tspan font-style="italic">L</tspan><tspan font-size="20" dy="5">0</tspan></text>
<rect x="950.9" y="52" width="752.3" height="645.7" fill="none" stroke="#000" stroke-width="3.2" stroke-linejoin="miter"/>
<line x1="963.6" y1="697.7" x2="963.6" y2="711.7" stroke="#000" stroke-width="3.2"/>
<text x="0" y="0" font-family="'DejaVu Sans', 'Liberation Sans', sans-serif" font-size="37.2" text-anchor="middle" transform="translate(963.6,753.2) scale(1.065,1)">0</text>
<line x1="1104.74" y1="697.7" x2="1104.74" y2="711.7" stroke="#000" stroke-width="3.2"/>
<text x="0" y="0" font-family="'DejaVu Sans', 'Liberation Sans', sans-serif" font-size="37.2" text-anchor="middle" transform="translate(1104.74,753.2) scale(1.065,1)">20</text>
<line x1="1245.88" y1="697.7" x2="1245.88" y2="711.7" stroke="#000" stroke-width="3.2"/>
<text x="0" y="0" font-family="'DejaVu Sans', 'Liberation Sans', sans-serif" font-size="37.2" text-anchor="middle" transform="translate(1245.88,753.2) scale(1.065,1)">40</text>
<line x1="1387.02" y1="697.7" x2="1387.02" y2="711.7" stroke="#000" stroke-width="3.2"/>
<text x="0" y="0" font-family="'DejaVu Sans', 'Liberation Sans', sans-serif" font-size="37.2" text-anchor="middle" transform="translate(1387.02,753.2) scale(1.065,1)">60</text>
<line x1="1528.16" y1="697.7" x2="1528.16" y2="711.7" stroke="#000" stroke-width="3.2"/>
<text x="0" y="0" font-family="'DejaVu Sans', 'Liberation Sans', sans-serif" font-size="37.2" text-anchor="middle" transform="translate(1528.16,753.2) scale(1.065,1)">80</text>
<line x1="1669.3" y1="697.7" x2="1669.3" y2="711.7" stroke="#000" stroke-width="3.2"/>
<text x="0" y="0" font-family="'DejaVu Sans', 'Liberation Sans', sans-serif" font-size="37.2" text-anchor="middle" transform="translate(1669.3,753.2) scale(1.065,1)">100</text>
<line x1="1703.2" y1="623.58" x2="1717.2" y2="623.58" stroke="#000" stroke-width="3.2"/>
<text x="0" y="0" font-family="'DejaVu Sans', 'Liberation Sans', sans-serif" font-size="37.2" transform="translate(1730.5,638.08) scale(1.065,1)">0.02</text>
<line x1="1703.2" y1="539" x2="1717.2" y2="539" stroke="#000" stroke-width="3.2"/>
<text x="0" y="0" font-family="'DejaVu Sans', 'Liberation Sans', sans-serif" font-size="37.2" transform="translate(1730.5,553.5) scale(1.065,1)">0.04</text>
<line x1="1703.2" y1="454.42" x2="1717.2" y2="454.42" stroke="#000" stroke-width="3.2"/>
<text x="0" y="0" font-family="'DejaVu Sans', 'Liberation Sans', sans-serif" font-size="37.2" transform="translate(1730.5,468.92) scale(1.065,1)">0.06</text>
<line x1="1703.2" y1="369.84" x2="1717.2" y2="369.84" stroke="#000" stroke-width="3.2"/>
<text x="0" y="0" font-family="'DejaVu Sans', 'Liberation Sans', sans-serif" font-size="37.2" transform="translate(1730.5,384.34) scale(1.065,1)">0.08</text>
<line x1="1703.2" y1="285.26" x2="1717.2" y2="285.26" stroke="#000" stroke-width="3.2"/>
<text x="0" y="0" font-family="'DejaVu Sans', 'Liberation Sans', sans-serif" font-size="37.2" transform="translate(1730.5,299.76) scale(1.065,1)">0.10</text>
<line x1="1703.2" y1="200.68" x2="1717.2" y2="200.68" stroke="#000" stroke-width="3.2"/>
<text x="0" y="0" font-family="'DejaVu Sans', 'Liberation Sans', sans-serif" font-size="37.2" transform="translate(1730.5,215.18) scale(1.065,1)">0.12</text>
<line x1="1703.2" y1="116.1" x2="1717.2" y2="116.1" stroke="#000" stroke-width="3.2"/>
<text x="0" y="0" font-family="'DejaVu Sans', 'Liberation Sans', sans-serif" font-size="37.2" transform="translate(1730.5,130.6) scale(1.065,1)">0.14</text>
<text x="1326" y="767" font-family="'DejaVu Sans', 'Liberation Sans', sans-serif" font-size="37.2" text-anchor="middle" font-style="italic">N</text>
<text x="934" y="34.8" font-family="'DejaVu Sans', 'Liberation Sans', sans-serif" font-size="47" font-weight="bold">b</text>
<clipPath id="clipC"><rect x="175.8" y="808.7" width="748.4" height="355.7"/></clipPath>
<g clip-path="url(#clipC)" fill="none" stroke="#fa8072" stroke-width="1.4" stroke-linejoin="round">
<path d="M163.9 1125.6L176 1131.5L188.1 1124.2L200.1 1130.1L212.2 1122.8L224.2 1128.7L236.3 1121.3L248.3 1127.3L260.4 1119.9L272.4 1125.8L284.5 1118.5L296.6 1124.4L308.6 1117.1L320.7 1123L332.7 1115.7L344.8 1121.6L356.8 1114.3L368.9 1120.2L380.9 1112.8L393 1118.7L405 1111.4L417.1 1117.3L429.2 1110L441.2 1115.9L453.3 1108.6L465.3 1114.5L477.4 1107.2L489.4 1113.1L501.5 1105.7L513.5 1111.7L525.6 1104.3L537.7 1110.2L549.7 1102.9L561.8 1108.8L573.8 1101.5L585.9 1107.4L597.9 1100.1L610 1106L622 1098.7L634.1 1104.6L646.1 1097.2L658.2 1103.1L670.3 1095.8L682.3 1101.7L694.4 1094.4L706.4 1100.3L718.5 1093L730.5 1098.9L742.6 1091.6L754.6 1097.5L766.7 1090.1L778.8 1096.1L790.8 1088.7L802.9 1094.6L814.9 1087.3L827 1093.2L839 1085.9L851.1 1091.8L863.1 1084.5L875.2 1090.4L887.2 1083.1L899.3 1089L911.4 1081.6L923.4 1087.6L935.5 1080.2L947.5 1086.1"/>
<path d="M168.2 1107.3L180.2 1115.6L192.3 1105.9L204.3 1114.1L216.4 1104.4L228.4 1112.7L240.5 1103L252.6 1111.3L264.6 1101.6L276.7 1109.9L288.7 1100.2L300.8 1108.5L312.8 1098.8L324.9 1107L336.9 1097.4L349 1105.6L361 1095.9L373.1 1104.2L385.2 1094.5L397.2 1102.8L409.3 1093.1L421.3 1101.4L433.4 1091.7L445.4 1100L457.5 1090.3L469.5 1098.5L481.6 1088.8L493.7 1097.1L505.7 1087.4L517.8 1095.7L529.8 1086L541.9 1094.3L553.9 1084.6L566 1092.9L578 1083.2L590.1 1091.5L602.2 1081.8L614.2 1090L626.3 1080.3L638.3 1088.6L650.4 1078.9L662.4 1087.2L674.5 1077.5L686.5 1085.8L698.6 1076.1L710.6 1084.4L722.7 1074.7L734.8 1082.9L746.8 1073.3L758.9 1081.5L770.9 1071.8L783 1080.1L795 1070.4L807.1 1078.7L819.1 1069L831.2 1077.3L843.3 1067.6L855.3 1075.9L867.4 1066.2L879.4 1074.4L891.5 1064.7L903.5 1073L915.6 1063.3L927.6 1071.6L939.7 1061.9L951.7 1070.2"/>
<path d="M172.4 1088.7L184.4 1099.8L196.5 1087.3L208.6 1098.4L220.6 1085.9L232.7 1097L244.7 1084.5L256.8 1095.6L268.8 1083.1L280.9 1094.2L292.9 1081.6L305 1092.8L317.1 1080.2L329.1 1091.3L341.2 1078.8L353.2 1089.9L365.3 1077.4L377.3 1088.5L389.4 1076L401.4 1087.1L413.5 1074.6L425.5 1085.7L437.6 1073.1L449.7 1084.2L461.7 1071.7L473.8 1082.8L485.8 1070.3L497.9 1081.4L509.9 1068.9L522 1080L534 1067.5L546.1 1078.6L558.2 1066L570.2 1077.2L582.3 1064.6L594.3 1075.7L606.4 1063.2L618.4 1074.3L630.5 1061.8L642.5 1072.9L654.6 1060.4L666.6 1071.5L678.7 1059L690.8 1070.1L702.8 1057.5L714.9 1068.6L726.9 1056.1L739 1067.2L751 1054.7L763.1 1065.8L775.1 1053.3L787.2 1064.4L799.3 1051.9L811.3 1063L823.4 1050.4L835.4 1061.6L847.5 1049L859.5 1060.1L871.6 1047.6L883.6 1058.7L895.7 1046.2L907.8 1057.3L919.8 1044.8L931.9 1055.9L943.9 1043.4L956 1054.5"/>
<path d="M152.5 1073L164.6 1084.1L176.6 1071.6L188.7 1082.7L200.7 1070.2L212.8 1081.3L224.8 1068.8L236.9 1079.9L248.9 1067.3L261 1078.5L273.1 1065.9L285.1 1077L297.2 1064.5L309.2 1075.6L321.3 1063.1L333.3 1074.2L345.4 1061.7L357.4 1072.8L369.5 1060.3L381.6 1071.4L393.6 1058.8L405.7 1069.9L417.7 1057.4L429.8 1068.5L441.8 1056L453.9 1067.1L465.9 1054.6L478 1065.7L490 1053.2L502.1 1064.3L514.2 1051.7L526.2 1062.9L538.3 1050.3L550.3 1061.4L562.4 1048.9L574.4 1060L586.5 1047.5L598.5 1058.6L610.6 1046.1L622.7 1057.2L634.7 1044.7L646.8 1055.8L658.8 1043.2L670.9 1054.3L682.9 1041.8L695 1052.9L707 1040.4L719.1 1051.5L731.1 1039L743.2 1050.1L755.3 1037.6L767.3 1048.7L779.4 1036.1L791.4 1047.3L803.5 1034.7L815.5 1045.8L827.6 1033.3L839.6 1044.4L851.7 1031.9L863.8 1043L875.8 1030.5L887.9 1041.6L899.9 1029.1L912 1040.2L924 1027.6L936.1 1038.7"/>
<path d="M156.7 1055.9L168.8 1067L180.8 1054.5L192.9 1065.6L205 1053L217 1064.2L229.1 1051.6L241.1 1062.7L253.2 1050.2L265.2 1061.3L277.3 1048.8L289.3 1059.9L301.4 1047.4L313.4 1058.5L325.5 1046L337.6 1057.1L349.6 1044.5L361.7 1055.6L373.7 1043.1L385.8 1054.2L397.8 1041.7L409.9 1052.8L421.9 1040.3L434 1051.4L446.1 1038.9L458.1 1050L470.2 1037.4L482.2 1048.6L494.3 1036L506.3 1047.1L518.4 1034.6L530.4 1045.7L542.5 1033.2L554.5 1044.3L566.6 1031.8L578.7 1042.9L590.7 1030.4L602.8 1041.5L614.8 1028.9L626.9 1040L638.9 1027.5L651 1038.6L663 1026.1L675.1 1037.2L687.2 1024.7L699.2 1035.8L711.3 1023.3L723.3 1034.4L735.4 1021.8L747.4 1033L759.5 1020.4L771.5 1031.5L783.6 1019L795.6 1030.1L807.7 1017.6L819.8 1028.7L831.8 1016.2L843.9 1027.3L855.9 1014.8L868 1025.9L880 1013.3L892.1 1024.5L904.1 1011.9L916.2 1023L928.3 1010.5L940.3 1021.6"/>
<path d="M161 1038.7L173 1049.9L185.1 1037.3L197.1 1048.4L209.2 1035.9L221.2 1047L233.3 1034.5L245.3 1045.6L257.4 1033.1L269.4 1044.2L281.5 1031.7L293.6 1042.8L305.6 1030.2L317.7 1041.3L329.7 1028.8L341.8 1039.9L353.8 1027.4L365.9 1038.5L377.9 1026L390 1037.1L402.1 1024.6L414.1 1035.7L426.2 1023.1L438.2 1034.3L450.3 1021.7L462.3 1032.8L474.4 1020.3L486.4 1031.4L498.5 1018.9L510.6 1030L522.6 1017.5L534.7 1028.6L546.7 1016.1L558.8 1027.2L570.8 1014.6L582.9 1025.8L594.9 1013.2L607 1024.3L619 1011.8L631.1 1022.9L643.2 1010.4L655.2 1021.5L667.3 1009L679.3 1020.1L691.4 1007.5L703.4 1018.7L715.5 1006.1L727.5 1017.2L739.6 1004.7L751.7 1015.8L763.7 1003.3L775.8 1014.4L787.8 1001.9L799.9 1013L811.9 1000.5L824 1011.6L836 999L848.1 1010.2L860.1 997.6L872.2 1008.7L884.3 996.2L896.3 1007.3L908.4 994.8L920.4 1005.9L932.5 993.4L944.5 1004.5"/>
<path d="M165.2 1021.6L177.2 1032.7L189.3 1020.2L201.3 1031.3L213.4 1018.8L225.5 1029.9L237.5 1017.4L249.6 1028.5L261.6 1015.9L273.7 1027.1L285.7 1014.5L297.8 1025.6L309.8 1013.1L321.9 1024.2L333.9 1011.7L346 1022.8L358.1 1010.3L370.1 1021.4L382.2 1008.8L394.2 1020L406.3 1007.4L418.3 1018.5L430.4 1006L442.4 1017.1L454.5 1004.6L466.6 1015.7L478.6 1003.2L490.7 1014.3L502.7 1001.8L514.8 1012.9L526.8 1000.3L538.9 1011.5L550.9 998.9L563 1010L575.1 997.5L587.1 1008.6L599.2 996.1L611.2 1007.2L623.3 994.7L635.3 1005.8L647.4 993.3L659.4 1004.4L671.5 991.8L683.5 1002.9L695.6 990.4L707.7 1001.5L719.7 989L731.8 1000.1L743.8 987.6L755.9 998.7L767.9 986.2L780 997.3L792 984.7L804.1 995.9L816.2 983.3L828.2 994.4L840.3 981.9L852.3 993L864.4 980.5L876.4 991.6L888.5 979.1L900.5 990.2L912.6 977.7L924.6 988.8L936.7 976.2L948.8 987.3"/>
<path d="M169.4 1004.5L181.5 1015.6L193.5 1003.1L205.6 1014.2L217.6 1001.6L229.7 1012.8L241.7 1000.2L253.8 1011.3L265.8 998.8L277.9 1009.9L290 997.4L302 1008.5L314.1 996L326.1 1007.1L338.2 994.6L350.2 1005.7L362.3 993.1L374.3 1004.2L386.4 991.7L398.4 1002.8L410.5 990.3L422.6 1001.4L434.6 988.9L446.7 1000L458.7 987.5L470.8 998.6L482.8 986L494.9 997.2L506.9 984.6L519 995.7L531.1 983.2L543.1 994.3L555.2 981.8L567.2 992.9L579.3 980.4L591.3 991.5L603.4 979L615.4 990.1L627.5 977.5L639.5 988.6L651.6 976.1L663.7 987.2L675.7 974.7L687.8 985.8L699.8 973.3L711.9 984.4L723.9 971.9L736 983L748 970.4L760.1 981.6L772.2 969L784.2 980.1L796.3 967.6L808.3 978.7L820.4 966.2L832.4 977.3L844.5 964.8L856.5 975.9L868.6 963.4L880.7 974.5L892.7 961.9L904.8 973L916.8 960.5L928.9 971.6L940.9 959.1L953 970.2"/>
<path d="M173.6 987.3L185.7 998.5L197.7 985.9L209.8 997L221.8 984.5L233.9 995.6L246 983.1L258 994.2L270.1 981.7L282.1 992.8L294.2 980.3L306.2 991.4L318.3 978.8L330.3 989.9L342.4 977.4L354.5 988.5L366.5 976L378.6 987.1L390.6 974.6L402.7 985.7L414.7 973.2L426.8 984.3L438.8 971.7L450.9 982.9L462.9 970.3L475 981.4L487.1 968.9L499.1 980L511.2 967.5L523.2 978.6L535.3 966.1L547.3 977.2L559.4 964.7L571.4 975.8L583.5 963.2L595.6 974.3L607.6 961.8L619.7 972.9L631.7 960.4L643.8 971.5L655.8 959L667.9 970.1L679.9 957.6L692 968.7L704 956.1L716.1 967.3L728.2 954.7L740.2 965.8L752.3 953.3L764.3 964.4L776.4 951.9L788.4 963L800.5 950.5L812.5 961.6L824.6 949.1L836.7 960.2L848.7 947.6L860.8 958.7L872.8 946.2L884.9 957.3L896.9 944.8L909 955.9L921 943.4L933.1 954.5L945.1 942L957.2 953.1"/>
<path d="M153.7 971.6L165.8 982.7L177.9 970.2L189.9 981.3L202 968.8L214 979.9L226.1 967.4L238.1 978.5L250.2 966L262.2 977.1L274.3 964.5L286.3 975.6L298.4 963.1L310.5 974.2L322.5 961.7L334.6 972.8L346.6 960.3L358.7 971.4L370.7 958.9L382.8 970L394.8 957.4L406.9 968.6L419 956L431 967.1L443.1 954.6L455.1 965.7L467.2 953.2L479.2 964.3L491.3 951.8L503.3 962.9L515.4 950.4L527.4 961.5L539.5 948.9L551.6 960.1L563.6 947.5L575.7 958.6L587.7 946.1L599.8 957.2L611.8 944.7L623.9 955.8L635.9 943.3L648 954.4L660.1 941.8L672.1 953L684.2 940.4L696.2 951.5L708.3 939L720.3 950.1L732.4 937.6L744.4 948.7L756.5 936.2L768.5 947.3L780.6 934.8L792.7 945.9L804.7 933.3L816.8 944.5L828.8 931.9L840.9 943L852.9 930.5L865 941.6L877 929.1L889.1 940.2L901.2 927.7L913.2 938.8L925.3 926.3L937.3 937.4"/>
<path d="M158 954.5L170 965.6L182.1 953.1L194.1 964.2L206.2 951.7L218.2 962.8L230.3 950.2L242.3 961.4L254.4 948.8L266.5 959.9L278.5 947.4L290.6 958.5L302.6 946L314.7 957.1L326.7 944.6L338.8 955.7L350.8 943.1L362.9 954.3L375 941.7L387 952.8L399.1 940.3L411.1 951.4L423.2 938.9L435.2 950L447.3 937.5L459.3 948.6L471.4 936.1L483.5 947.2L495.5 934.6L507.6 945.8L519.6 933.2L531.7 944.3L543.7 931.8L555.8 942.9L567.8 930.4L579.9 941.5L591.9 929L604 940.1L616.1 927.6L628.1 938.7L640.2 926.1L652.2 937.2L664.3 924.7L676.3 935.8L688.4 923.3L700.4 934.4L712.5 921.9L724.6 933L736.6 920.5L748.7 931.6L760.7 919L772.8 930.2L784.8 917.6L796.9 928.7L808.9 916.2L821 927.3L833 914.8L845.1 925.9L857.2 913.4L869.2 924.5L881.3 912L893.3 923.1L905.4 910.5L917.4 921.6L929.5 909.1L941.5 920.2"/>
<path d="M162.2 937.4L174.2 948.5L186.3 935.9L198.4 947.1L210.4 934.5L222.5 945.6L234.5 933.1L246.6 944.2L258.6 931.7L270.7 942.8L282.7 930.3L294.8 941.4L306.8 928.9L318.9 940L331 927.4L343 938.5L355.1 926L367.1 937.1L379.2 924.6L391.2 935.7L403.3 923.2L415.3 934.3L427.4 921.8L439.5 932.9L451.5 920.3L463.6 931.5L475.6 918.9L487.7 930L499.7 917.5L511.8 928.6L523.8 916.1L535.9 927.2L547.9 914.7L560 925.8L572.1 913.3L584.1 924.4L596.2 911.8L608.2 922.9L620.3 910.4L632.3 921.5L644.4 909L656.4 920.1L668.5 907.6L680.6 918.7L692.6 906.2L704.7 917.3L716.7 904.7L728.8 915.9L740.8 903.3L752.9 914.4L764.9 901.9L777 913L789.1 900.5L801.1 911.6L813.2 899.1L825.2 910.2L837.3 897.7L849.3 908.8L861.4 896.2L873.4 907.3L885.5 894.8L897.5 905.9L909.6 893.4L921.7 904.5L933.7 892L945.8 903.1"/>
<path d="M166.4 920.2L178.5 931.3L190.5 918.8L202.6 929.9L214.6 917.4L226.7 928.5L238.7 916L250.8 927.1L262.9 914.6L274.9 925.7L287 913.1L299 924.2L311.1 911.7L323.1 922.8L335.2 910.3L347.2 921.4L359.3 908.9L371.3 920L383.4 907.5L395.5 918.6L407.5 906L419.6 917.2L431.6 904.6L443.7 915.7L455.7 903.2L467.8 914.3L479.8 901.8L491.9 912.9L504 900.4L516 911.5L528.1 899L540.1 910.1L552.2 897.5L564.2 908.6L576.3 896.1L588.3 907.2L600.4 894.7L612.4 905.8L624.5 893.3L636.6 904.4L648.6 891.9L660.7 903L672.7 890.4L684.8 901.6L696.8 889L708.9 900.1L720.9 887.6L733 898.7L745.1 886.2L757.1 897.3L769.2 884.8L781.2 895.9L793.3 883.4L805.3 894.5L817.4 881.9L829.4 893L841.5 880.5L853.5 891.6L865.6 879.1L877.7 890.2L889.7 877.7L901.8 888.8L913.8 876.3L925.9 887.4L937.9 874.8L950 886"/>
<path d="M170.6 904.5L182.7 912.8L194.7 903.1L206.8 911.4L218.9 901.7L230.9 909.9L243 900.3L255 908.5L267.1 898.8L279.1 907.1L291.2 897.4L303.2 905.7L315.3 896L327.4 904.3L339.4 894.6L351.5 902.9L363.5 893.2L375.6 901.4L387.6 891.7L399.7 900L411.7 890.3L423.8 898.6L435.8 888.9L447.9 897.2L460 887.5L472 895.8L484.1 886.1L496.1 894.3L508.2 884.7L520.2 892.9L532.3 883.2L544.3 891.5L556.4 881.8L568.5 890.1L580.5 880.4L592.6 888.7L604.6 879L616.7 887.3L628.7 877.6L640.8 885.8L652.8 876.1L664.9 884.4L676.9 874.7L689 883L701.1 873.3L713.1 881.6L725.2 871.9L737.2 880.2L749.3 870.5L761.3 878.8L773.4 869.1L785.4 877.3L797.5 867.6L809.6 875.9L821.6 866.2L833.7 874.5L845.7 864.8L857.8 873.1L869.8 863.4L881.9 871.7L893.9 862L906 870.2L918 860.6L930.1 868.8L942.2 859.1L954.2 867.4"/>
<path d="M174.9 888.6L186.9 894.5L199 887.1L211 893L223.1 885.7L235.1 891.6L247.2 884.3L259.2 890.2L271.3 882.9L283.4 888.8L295.4 881.5L307.5 887.4L319.5 880L331.6 886L343.6 878.6L355.7 884.5L367.7 877.2L379.8 883.1L391.9 875.8L403.9 881.7L416 874.4L428 880.3L440.1 873L452.1 878.9L464.2 871.5L476.2 877.5L488.3 870.1L500.3 876L512.4 868.7L524.5 874.6L536.5 867.3L548.6 873.2L560.6 865.9L572.7 871.8L584.7 864.5L596.8 870.4L608.8 863L620.9 868.9L633 861.6L645 867.5L657.1 860.2L669.1 866.1L681.2 858.8L693.2 864.7L705.3 857.4L717.3 863.3L729.4 855.9L741.4 861.9L753.5 854.5L765.6 860.4L777.6 853.1L789.7 859L801.7 851.7L813.8 857.6L825.8 850.3L837.9 856.2L849.9 848.9L862 854.8L874.1 847.4L886.1 853.3L898.2 846L910.2 851.9L922.3 844.6L934.3 850.5L946.4 843.2L958.4 849.1"/>
</g>
<path d="M176 1010 L923.6 966.03" fill="none" stroke="#000" stroke-width="8.5" clip-path="url(#clipC)"/>
<line x1="176" y1="808.7" x2="176" y2="1164.4" stroke="#b0b0b0" stroke-width="3.2"/>
<line x1="549.8" y1="808.7" x2="549.8" y2="1164.4" stroke="#b0b0b0" stroke-width="3.2"/>
<line x1="923.6" y1="808.7" x2="923.6" y2="1164.4" stroke="#b0b0b0" stroke-width="3.2"/>
<line x1="175.8" y1="891.8" x2="924.2" y2="891.8" stroke="#b0b0b0" stroke-width="3.2"/>
<line x1="175.8" y1="1010" x2="924.2" y2="1010" stroke="#b0b0b0" stroke-width="3.2"/>
<line x1="175.8" y1="1128.2" x2="924.2" y2="1128.2" stroke="#b0b0b0" stroke-width="3.2"/>
<text x="212" y="843.5" font-family="'DejaVu Sans', 'Liberation Sans', sans-serif" font-size="30.5" font-style="italic">N=15</text>
<rect x="682.4" y="1029.1" width="222.7" height="114.3" fill="#fff" stroke="none" stroke-width="3.2"/>
<line x1="736.05" y1="1029.1" x2="736.05" y2="1143.4" stroke="#cfcfcf" stroke-width="2"/>
<line x1="781.2" y1="1029.1" x2="781.2" y2="1143.4" stroke="#cfcfcf" stroke-width="2"/>
<line x1="826.35" y1="1029.1" x2="826.35" y2="1143.4" stroke="#cfcfcf" stroke-width="2"/>
<line x1="682.4" y1="1123.12" x2="905.1" y2="1123.12" stroke="#cfcfcf" stroke-width="2"/>
<line x1="682.4" y1="1106.34" x2="905.1" y2="1106.34" stroke="#cfcfcf" stroke-width="2"/>
<line x1="682.4" y1="1089.56" x2="905.1" y2="1089.56" stroke="#cfcfcf" stroke-width="2"/>
<line x1="682.4" y1="1072.78" x2="905.1" y2="1072.78" stroke="#cfcfcf" stroke-width="2"/>
<line x1="682.4" y1="1039.22" x2="905.1" y2="1039.22" stroke="#cfcfcf" stroke-width="2"/>
<line x1="690.9" y1="1029.1" x2="690.9" y2="1143.4" stroke="#b0b0b0" stroke-width="2.8"/>
<line x1="871.5" y1="1029.1" x2="871.5" y2="1143.4" stroke="#b0b0b0" stroke-width="2.8"/>
<line x1="682.4" y1="1139.9" x2="905.1" y2="1139.9" stroke="#b0b0b0" stroke-width="2.8"/>
<line x1="682.4" y1="1056" x2="905.1" y2="1056" stroke="#b0b0b0" stroke-width="2.8"/>
<path d="M687.9 1140.4 L740 1115 L800 1084 L860 1053 L898.6 1032.7" fill="none" stroke="#000" stroke-width="6.2" stroke-linecap="butt"/>
<rect x="682.4" y="1029.1" width="222.7" height="114.3" fill="none" stroke="#000" stroke-width="3" stroke-linejoin="miter"/>
<line x1="674.4" y1="1123.12" x2="682.4" y2="1123.12" stroke="#000" stroke-width="2.2"/>
<line x1="674.4" y1="1106.34" x2="682.4" y2="1106.34" stroke="#000" stroke-width="2.2"/>
<line x1="674.4" y1="1089.56" x2="682.4" y2="1089.56" stroke="#000" stroke-width="2.2"/>
<line x1="674.4" y1="1072.78" x2="682.4" y2="1072.78" stroke="#000" stroke-width="2.2"/>
<line x1="674.4" y1="1039.22" x2="682.4" y2="1039.22" stroke="#000" stroke-width="2.2"/>
<line x1="668.4" y1="1139.9" x2="682.4" y2="1139.9" stroke="#000" stroke-width="3"/>
<text x="0" y="0" font-family="'DejaVu Sans', 'Liberation Sans', sans-serif" font-size="37.2" text-anchor="end" transform="translate(666.5,1154.5) scale(1.020,1)">0.000</text>
<line x1="668.4" y1="1056" x2="682.4" y2="1056" stroke="#000" stroke-width="3"/>
<text x="0" y="0" font-family="'DejaVu Sans', 'Liberation Sans', sans-serif" font-size="37.2" text-anchor="end" transform="translate(666.5,1070.6) scale(1.020,1)">0.025</text>
<line x1="736.05" y1="1143.4" x2="736.05" y2="1151.4" stroke="#000" stroke-width="2.2"/>
<line x1="781.2" y1="1143.4" x2="781.2" y2="1151.4" stroke="#000" stroke-width="2.2"/>
<line x1="826.35" y1="1143.4" x2="826.35" y2="1151.4" stroke="#000" stroke-width="2.2"/>
<line x1="690.9" y1="1143.4" x2="690.9" y2="1157.4" stroke="#000" stroke-width="3"/>
<text x="0" y="0" font-family="'DejaVu Sans', 'Liberation Sans', sans-serif" font-size="37.2" text-anchor="middle" transform="translate(690.9,1022.8) scale(1.020,1)">0</text>
<line x1="871.5" y1="1143.4" x2="871.5" y2="1157.4" stroke="#000" stroke-width="3"/>
<text x="0" y="0" font-family="'DejaVu Sans', 'Liberation Sans', sans-serif" font-size="37.2" text-anchor="middle" transform="translate(871.5,1022.8) scale(1.020,1)">300</text>
<rect x="175.8" y="808.7" width="748.4" height="355.7" fill="none" stroke="#000" stroke-width="3.2" stroke-linejoin="miter"/>
<line x1="176" y1="1164.4" x2="176" y2="1177.4" stroke="#000" stroke-width="3.2"/>
<line x1="549.8" y1="1164.4" x2="549.8" y2="1177.4" stroke="#000" stroke-width="3.2"/>
<line x1="923.6" y1="1164.4" x2="923.6" y2="1177.4" stroke="#000" stroke-width="3.2"/>
<line x1="161.8" y1="891.8" x2="175.8" y2="891.8" stroke="#000" stroke-width="3.2"/>
<text x="0" y="0" font-family="'DejaVu Sans', 'Liberation Sans', sans-serif" font-size="37.2" text-anchor="end" transform="translate(150.7,906.6) scale(1.020,1)">0.5</text>
<line x1="161.8" y1="1010" x2="175.8" y2="1010" stroke="#000" stroke-width="3.2"/>
<text x="0" y="0" font-family="'DejaVu Sans', 'Liberation Sans', sans-serif" font-size="37.2" text-anchor="end" transform="translate(150.7,1024.8) scale(1.020,1)">0.0</text>
<line x1="161.8" y1="1128.2" x2="175.8" y2="1128.2" stroke="#000" stroke-width="3.2"/>
<text x="0" y="0" font-family="'DejaVu Sans', 'Liberation Sans', sans-serif" font-size="37.2" text-anchor="end" transform="translate(150.7,1143) scale(1.020,1)">−0.5</text>
<text transform="translate(42,987) rotate(-90)" font-family="'DejaVu Sans', 'Liberation Sans', sans-serif" font-size="37.2" text-anchor="middle"><tspan font-style="italic">x</tspan>/<tspan font-style="italic">L</tspan><tspan font-size="27" dy="6">B</tspan></text>
<text x="34" y="793.2" font-family="'DejaVu Sans', 'Liberation Sans', sans-serif" font-size="47" font-weight="bold">c</text>
<clipPath id="clipD"><rect x="950.3" y="808.5" width="747.5" height="351.7"/></clipPath>
<g clip-path="url(#clipD)" fill="none" stroke="#fa8072" stroke-width="1.25" stroke-linejoin="round">
<path d="M937.8 1137.5L973.9 1150.5L1070.5 1110.7L1149.6 1139.1L1246.2 1099.4L1325.2 1127.8L1421.8 1088L1500.9 1116.4L1597.5 1076.7L1676.6 1105.1L1710.3 1091.2"/>
<path d="M937.8 1135.3L975.4 1149.2L1068 1107L1151 1137.9L1243.7 1095.7L1326.7 1126.5L1419.3 1084.3L1502.4 1115.2L1595 1073L1678 1103.8L1710.3 1089.2"/>
<path d="M937.8 1132.8L976.8 1147.6L1066.6 1103.7L1152.5 1136.3L1242.3 1092.3L1328.2 1124.9L1417.9 1081L1503.8 1113.6L1593.6 1069.6L1679.5 1102.2L1710.3 1087.1"/>
<path d="M937.8 1130.1L978.3 1145.7L1066 1100.5L1153.9 1134.4L1241.7 1089.2L1329.6 1123L1417.3 1077.8L1505.3 1111.7L1593 1066.5L1680.9 1100.3L1710.3 1085.2"/>
<path d="M937.8 1127.3L979.7 1143.6L1066 1097.5L1155.4 1132.3L1241.7 1086.2L1331.1 1120.9L1417.3 1074.8L1506.7 1109.6L1593 1063.5L1682.4 1098.2L1710.3 1083.3"/>
<path d="M937.8 1124.4L981.2 1141.4L1066.4 1094.7L1156.9 1130L1242.1 1083.3L1332.5 1118.7L1417.8 1072L1508.2 1107.3L1593.4 1060.6L1683.9 1096L1710.3 1081.5"/>
<path d="M937.8 1121.4L982.7 1139L1067.1 1091.9L1158.3 1127.7L1242.8 1080.5L1334 1116.3L1418.5 1069.2L1509.7 1105L1594.1 1057.8L1685.3 1093.6L1710.3 1079.7"/>
<path d="M937.8 1118.4L984.1 1136.6L1068.1 1089.1L1159.8 1125.3L1243.7 1077.8L1335.5 1113.9L1419.4 1066.4L1511.1 1102.6L1595.1 1055.1L1686.8 1091.2L1710.3 1077.9"/>
<path d="M937.8 1115.3L985.6 1134.2L1069.1 1086.4L1161.3 1122.8L1244.8 1075.1L1336.9 1111.5L1420.5 1063.7L1512.6 1100.1L1596.1 1052.4L1688.3 1088.8L1710.3 1076.2"/>
<path d="M937.8 1112.2L987.1 1131.7L1070.3 1083.7L1162.7 1120.3L1246 1072.4L1338.4 1109L1421.7 1061.1L1514.1 1097.6L1597.3 1049.7L1689.7 1086.3L1710.3 1074.4"/>
<path d="M937.8 1109.1L988.5 1129.1L1071.6 1081.1L1164.2 1117.8L1247.3 1069.8L1339.9 1106.4L1422.9 1058.4L1515.5 1095.1L1598.6 1047.1L1691.2 1083.7L1710.3 1072.7"/>
<path d="M937.8 1105.9L990 1126.6L1072.9 1078.5L1165.7 1115.2L1248.6 1067.1L1341.3 1103.9L1424.2 1055.8L1517 1092.5L1599.9 1044.4L1692.6 1081.2L1710.3 1071"/>
<path d="M937.8 1102.8L991.4 1124L1074.3 1075.9L1167.1 1112.7L1249.9 1064.5L1342.8 1101.3L1425.6 1053.2L1518.4 1090L1601.3 1041.8L1694.1 1078.6L1710.3 1069.2"/>
<path d="M937.8 1099.6L992.9 1121.5L1075.7 1073.2L1168.6 1110.1L1251.3 1061.9L1344.2 1098.8L1427 1050.5L1519.9 1087.4L1602.7 1039.2L1695.6 1076.1L1710.3 1067.5"/>
<path d="M937.8 1096.4L994.4 1118.9L1077.1 1070.6L1170 1107.5L1252.7 1059.3L1345.7 1096.2L1428.4 1047.9L1521.4 1084.8L1604.1 1036.6L1697 1073.5L1710.3 1065.8"/>
<path d="M937.8 1093.3L995.8 1116.3L1078.5 1068L1171.5 1105L1254.2 1056.7L1347.2 1093.6L1429.8 1045.3L1522.8 1082.3L1605.5 1034L1698.5 1070.9L1710.3 1064"/>
<path d="M937.8 1090.1L997.3 1113.7L1079.9 1065.4L1173 1102.4L1255.6 1054.1L1348.6 1091L1431.3 1042.7L1524.3 1079.7L1606.9 1031.4L1700 1068.3L1710.3 1062.3"/>
<path d="M937.8 1086.9L998.8 1111.1L1081.4 1062.8L1174.4 1099.8L1257 1051.5L1350.1 1088.4L1432.7 1040.1L1525.8 1077.1L1608.4 1028.8L1701.4 1065.7L1710.3 1060.6"/>
<path d="M937.8 1083.8L1000.2 1108.5L1082.8 1060.2L1175.9 1097.2L1258.5 1048.9L1351.6 1085.9L1434.2 1037.5L1527.2 1074.5L1609.8 1026.2L1702.9 1063.2L1710.3 1058.8"/>
<path d="M937.8 1080.6L1001.7 1106L1084.3 1057.6L1177.4 1094.6L1259.9 1046.3L1353 1083.3L1435.6 1034.9L1528.7 1071.9L1611.3 1023.6L1704.3 1060.6L1710.3 1057.1"/>
<path d="M937.8 1077.4L1003.1 1103.4L1085.7 1055L1178.8 1092L1261.4 1043.7L1354.5 1080.7L1437.1 1032.3L1530.1 1069.3L1612.7 1021L1705.8 1058L1710.3 1055.4"/>
<path d="M937.8 1074.3L1004.6 1100.8L1087.2 1052.5L1180.3 1089.4L1262.9 1041.1L1355.9 1078.1L1438.5 1029.8L1531.6 1066.7L1614.2 1018.4L1707.3 1055.4L1710.3 1053.6"/>
<path d="M937.8 1071.1L1006.1 1098.2L1088.6 1049.9L1181.7 1086.8L1264.3 1038.5L1357.4 1075.5L1440 1027.2L1533.1 1064.1L1615.6 1015.8L1708.7 1052.8L1710.3 1051.9"/>
<path d="M937.8 1067.9L1007.5 1095.6L1090.1 1047.3L1183.2 1084.2L1265.8 1035.9L1358.9 1072.9L1441.4 1024.6L1534.5 1061.5L1617.1 1013.2L1710.2 1050.2L1710.3 1050.2"/>
<path d="M937.8 1064.7L1009 1093L1091.6 1044.7L1184.7 1081.7L1267.2 1033.3L1360.3 1070.3L1442.9 1022L1536 1059L1618.6 1010.6L1710.3 1047.1"/>
<path d="M937.8 1061.6L1010.5 1090.4L1093 1042.1L1186.1 1079.1L1268.7 1030.7L1361.8 1067.7L1444.4 1019.4L1537.5 1056.4L1620 1008L1710.3 1043.9"/>
<path d="M937.8 1058.4L1011.9 1087.8L1094.5 1039.5L1187.6 1076.5L1270.2 1028.1L1363.3 1065.1L1445.8 1016.8L1538.9 1053.8L1621.5 1005.4L1710.3 1040.7"/>
<path d="M937.8 1055.2L1013.4 1085.2L1096 1036.9L1189.1 1073.9L1271.6 1025.5L1364.7 1062.5L1447.3 1014.2L1540.4 1051.2L1622.9 1002.8L1710.3 1037.5"/>
<path d="M937.8 1052L1014.8 1082.6L1097.4 1034.3L1190.5 1071.3L1273.1 1023L1366.2 1059.9L1448.7 1011.6L1541.8 1048.6L1624.4 1000.3L1710.3 1034.4"/>
<path d="M937.8 1048.9L1016.3 1080L1098.9 1031.7L1192 1068.7L1274.5 1020.4L1367.6 1057.3L1450.2 1009L1543.3 1046L1625.9 997.7L1710.3 1031.2"/>
<path d="M937.8 1045.7L1017.8 1077.5L1100.3 1029.1L1193.4 1066.1L1276 1017.8L1369.1 1054.8L1451.7 1006.4L1544.8 1043.4L1627.3 995.1L1710.3 1028"/>
<path d="M937.8 1042.5L1019.2 1074.9L1101.8 1026.5L1194.9 1063.5L1277.5 1015.2L1370.6 1052.2L1453.1 1003.8L1546.2 1040.8L1628.8 992.5L1710.3 1024.8"/>
<path d="M937.8 1039.3L1020.7 1072.3L1103.3 1023.9L1196.4 1060.9L1278.9 1012.6L1372 1049.6L1454.6 1001.2L1547.7 1038.2L1630.3 989.9L1710.3 1021.7"/>
<path d="M937.8 1036.2L1022.2 1069.7L1104.7 1021.3L1197.8 1058.3L1280.4 1010L1373.5 1047L1456.1 998.6L1549.2 1035.6L1631.7 987.3L1710.3 1018.5"/>
<path d="M937.8 1033L1023.6 1067.1L1106.2 1018.7L1199.3 1055.7L1281.9 1007.4L1375 1044.4L1457.5 996L1550.6 1033L1633.2 984.7L1710.3 1015.3"/>
<path d="M937.8 1029.8L1025.1 1064.5L1107.7 1016.2L1200.8 1053.1L1283.3 1004.8L1376.4 1041.8L1459 993.5L1552.1 1030.4L1634.6 982.1L1710.3 1012.1"/>
<path d="M937.8 1026.7L1026.6 1061.9L1109.1 1013.6L1202.2 1050.5L1284.8 1002.2L1377.9 1039.2L1460.4 990.9L1553.5 1027.8L1636.1 979.5L1710.3 1009"/>
<path d="M937.8 1023.5L1028 1059.3L1110.6 1011L1203.7 1048L1286.2 999.6L1379.3 1036.6L1461.9 988.3L1555 1025.3L1637.6 976.9L1710.3 1005.8"/>
<path d="M937.8 1020.3L1029.5 1056.7L1112 1008.4L1205.1 1045.4L1287.7 997L1380.8 1034L1463.4 985.7L1556.5 1022.7L1639 974.3L1710.3 1002.6"/>
<path d="M937.8 1017.1L1030.9 1054.1L1113.5 1005.8L1206.6 1042.8L1289.2 994.4L1382.3 1031.4L1464.8 983.1L1557.9 1020.1L1640.5 971.7L1710.3 999.5"/>
<path d="M937.8 1015.4L939.3 1014.5L1032.4 1051.5L1115 1003.2L1208.1 1040.2L1290.6 991.8L1383.7 1028.8L1466.3 980.5L1559.4 1017.5L1642 969.1L1710.3 996.3"/>
<path d="M937.8 1013.7L940.8 1011.9L1033.9 1048.9L1116.4 1000.6L1209.5 1037.6L1292.1 989.3L1385.2 1026.2L1467.8 977.9L1560.9 1014.9L1643.4 966.6L1710.3 993.1"/>
<path d="M937.8 1011.9L942.2 1009.4L1035.3 1046.3L1117.9 998L1211 1035L1293.6 986.7L1386.7 1023.6L1469.2 975.3L1562.3 1012.3L1644.9 964L1710.3 989.9"/>
<path d="M937.8 1010.2L943.7 1006.8L1036.8 1043.7L1119.4 995.4L1212.5 1032.4L1295 984.1L1388.1 1021.1L1470.7 972.7L1563.8 1009.7L1646.3 961.4L1710.3 986.8"/>
<path d="M937.8 1008.4L945.1 1004.2L1038.3 1041.2L1120.8 992.8L1213.9 1029.8L1296.5 981.5L1389.6 1018.5L1472.1 970.1L1565.2 1007.1L1647.8 958.8L1710.3 983.6"/>
<path d="M937.8 1006.7L946.6 1001.6L1039.7 1038.6L1122.3 990.2L1215.4 1027.2L1297.9 978.9L1391 1015.9L1473.6 967.5L1566.7 1004.5L1649.3 956.2L1710.3 980.4"/>
<path d="M937.8 1005L948.1 999L1041.2 1036L1123.7 987.6L1216.8 1024.6L1299.4 976.3L1392.5 1013.3L1475.1 964.9L1568.2 1001.9L1650.7 953.6L1710.3 977.2"/>
<path d="M937.8 1003.2L949.5 996.4L1042.6 1033.4L1125.2 985L1218.3 1022L1300.9 973.7L1394 1010.7L1476.5 962.3L1569.6 999.3L1652.2 951L1710.3 974.1"/>
<path d="M937.8 1001.5L951 993.8L1044.1 1030.8L1126.7 982.5L1219.8 1019.4L1302.3 971.1L1395.4 1008.1L1478 959.8L1571.1 996.7L1653.7 948.4L1710.3 970.9"/>
<path d="M937.8 999.8L952.5 991.2L1045.6 1028.2L1128.1 979.9L1221.2 1016.8L1303.8 968.5L1396.9 1005.5L1479.5 957.2L1572.6 994.1L1655.1 945.8L1710.3 967.7"/>
<path d="M937.8 998L953.9 988.6L1047 1025.6L1129.6 977.3L1222.7 1014.3L1305.3 965.9L1398.4 1002.9L1480.9 954.6L1574 991.6L1656.6 943.2L1710.3 964.5"/>
<path d="M937.8 996.3L955.4 986L1048.5 1023L1131.1 974.7L1224.2 1011.7L1306.7 963.3L1399.8 1000.3L1482.4 952L1575.5 989L1658 940.6L1710.3 961.4"/>
<path d="M937.8 994.6L956.9 983.4L1050 1020.4L1132.5 972.1L1225.6 1009.1L1308.2 960.7L1401.3 997.7L1483.8 949.4L1576.9 986.4L1659.5 938L1710.3 958.2"/>
<path d="M937.8 992.8L958.3 980.8L1051.4 1017.8L1134 969.5L1227.1 1006.5L1309.6 958.1L1402.7 995.1L1485.3 946.8L1578.4 983.8L1661 935.4L1710.3 955"/>
<path d="M937.8 991.1L959.8 978.2L1052.9 1015.2L1135.4 966.9L1228.5 1003.9L1311.1 955.5L1404.2 992.5L1486.8 944.2L1579.9 981.2L1662.4 932.9L1710.3 951.9"/>
<path d="M937.8 989.4L961.2 975.7L1054.3 1012.6L1136.9 964.3L1230 1001.3L1312.6 953L1405.7 989.9L1488.2 941.6L1581.3 978.6L1663.9 930.3L1710.3 948.7"/>
<path d="M937.8 987.6L962.7 973.1L1055.8 1010L1138.4 961.7L1231.5 998.7L1314 950.4L1407.1 987.3L1489.7 939L1582.8 976L1665.4 927.7L1710.3 945.5"/>
<path d="M937.8 985.9L964.2 970.5L1057.3 1007.5L1139.8 959.1L1232.9 996.1L1315.5 947.8L1408.6 984.8L1491.2 936.4L1584.3 973.4L1666.8 925.1L1710.3 942.3"/>
<path d="M937.8 984.1L965.6 967.9L1058.7 1004.9L1141.3 956.5L1234.4 993.5L1317 945.2L1410.1 982.2L1492.6 933.8L1585.7 970.8L1668.3 922.5L1710.3 939.2"/>
<path d="M937.8 982.4L967.1 965.3L1060.2 1002.3L1142.8 953.9L1235.9 990.9L1318.4 942.6L1411.5 979.6L1494.1 931.2L1587.2 968.2L1669.7 919.9L1710.3 936"/>
<path d="M937.8 980.7L968.6 962.7L1061.7 999.7L1144.2 951.3L1237.3 988.3L1319.9 940L1413 977L1495.5 928.6L1588.6 965.6L1671.2 917.3L1710.3 932.8"/>
<path d="M937.8 978.9L970 960.1L1063.1 997.1L1145.7 948.8L1238.8 985.7L1321.3 937.4L1414.4 974.4L1497 926.1L1590.1 963L1672.7 914.7L1710.3 929.6"/>
<path d="M937.8 977.2L971.5 957.5L1064.6 994.5L1147.1 946.2L1240.2 983.1L1322.8 934.8L1415.9 971.8L1498.5 923.5L1591.6 960.4L1674.1 912.1L1710.3 926.5"/>
<path d="M937.8 975.5L972.9 954.9L1066 991.9L1148.6 943.6L1241.7 980.6L1324.3 932.2L1417.4 969.2L1499.9 920.9L1593 957.9L1675.6 909.5L1710.3 923.3"/>
<path d="M937.8 973.7L974.4 952.3L1067.5 989.3L1150.1 941L1243.2 978L1325.7 929.6L1418.8 966.6L1501.4 918.3L1594.5 955.3L1677.1 906.9L1710.3 920.1"/>
<path d="M937.8 972L975.9 949.7L1069 986.7L1151.5 938.4L1244.6 975.4L1327.2 927L1420.3 964L1502.9 915.7L1596 952.7L1678.5 904.3L1710.3 916.9"/>
<path d="M937.8 970.3L977.3 947.1L1070.4 984.1L1153 935.8L1246.1 972.8L1328.7 924.4L1421.8 961.4L1504.3 913.1L1597.4 950.1L1680 901.7L1710.3 913.8"/>
<path d="M937.8 968.5L978.8 944.5L1071.9 981.5L1154.5 933.2L1247.6 970.2L1330.1 921.8L1423.2 958.8L1505.8 910.5L1598.9 947.5L1681.4 899.1L1710.3 910.6"/>
<path d="M937.8 966.8L980.3 942L1073.4 978.9L1155.9 930.6L1249 967.6L1331.6 919.3L1424.7 956.2L1507.2 907.9L1600.3 944.9L1682.9 896.6L1710.3 907.4"/>
<path d="M937.8 965L981.7 939.4L1074.8 976.3L1157.4 928L1250.5 965L1333 916.7L1426.1 953.6L1508.7 905.3L1601.8 942.3L1684.4 894L1710.3 904.3"/>
<path d="M937.8 963.3L983.2 936.8L1076.3 973.8L1158.8 925.4L1251.9 962.4L1334.5 914.1L1427.6 951.1L1510.2 902.7L1603.3 939.7L1685.8 891.4L1710.3 901.1"/>
<path d="M937.8 961.6L984.6 934.2L1077.7 971.2L1160.3 922.8L1253.4 959.8L1336 911.5L1429.1 948.5L1511.6 900.1L1604.7 937.1L1687.3 888.8L1710.3 897.9"/>
<path d="M937.8 959.8L986.1 931.6L1079.2 968.6L1161.8 920.2L1254.9 957.2L1337.4 908.9L1430.5 945.9L1513.1 897.5L1606.2 934.5L1688.8 886.2L1710.3 894.7"/>
<path d="M937.8 958.1L987.6 929L1080.7 966L1163.2 917.6L1256.3 954.6L1338.9 906.3L1432 943.3L1514.6 894.9L1607.7 931.9L1690.2 883.6L1710.3 891.6"/>
<path d="M937.8 956.4L989 926.4L1082.1 963.4L1164.7 915L1257.8 952L1340.4 903.7L1433.5 940.7L1516 892.4L1609.1 929.3L1691.7 881L1710.3 888.4"/>
<path d="M937.8 954.6L990.5 923.8L1083.6 960.8L1166.2 912.5L1259.3 949.4L1341.8 901.1L1434.9 938.1L1517.5 889.8L1610.6 926.7L1693.2 878.4L1710.3 885.2"/>
<path d="M937.8 952.9L992 921.2L1085.1 958.2L1167.6 909.9L1260.7 946.8L1343.3 898.5L1436.4 935.5L1518.9 887.2L1612.1 924.2L1694.6 875.8L1710.3 882"/>
<path d="M937.8 951.2L993.4 918.6L1086.5 955.6L1169.1 907.3L1262.2 944.3L1344.7 895.9L1437.8 932.9L1520.4 884.6L1613.5 921.6L1696.1 873.2L1710.3 878.9"/>
<path d="M937.8 949.4L994.9 916L1088 953L1170.5 904.7L1263.6 941.7L1346.2 893.3L1439.3 930.3L1521.9 882L1615 919L1697.5 870.6L1710.3 875.7"/>
<path d="M937.8 947.7L996.3 913.4L1089.4 950.4L1172 902.1L1265.1 939.1L1347.7 890.7L1440.8 927.7L1523.3 879.4L1616.4 916.4L1699 868L1710.3 872.5"/>
<path d="M937.8 945.9L997.8 910.8L1090.9 947.8L1173.5 899.5L1266.6 936.5L1349.1 888.1L1442.2 925.1L1524.8 876.8L1617.9 913.8L1700.5 865.5L1710.3 869.3"/>
<path d="M937.8 944.2L999.3 908.3L1092.4 945.2L1174.9 896.9L1268 933.9L1350.6 885.6L1443.7 922.5L1526.3 874.2L1619.4 911.2L1701.9 862.9L1710.3 866.2"/>
<path d="M937.8 942.5L1000.7 905.7L1093.8 942.6L1176.4 894.3L1269.5 931.3L1352.1 883L1445.2 919.9L1527.7 871.6L1620.8 908.6L1703.4 860.3L1710.3 863"/>
<path d="M937.8 940.7L1002.2 903.1L1095.3 940L1177.9 891.7L1271 928.7L1353.5 880.4L1446.6 917.3L1529.2 869L1622.3 906L1704.9 857.7L1710.3 859.8"/>
<path d="M937.8 939L1003.7 900.5L1096.8 937.4L1179.3 889.1L1272.4 926.1L1355 877.8L1448.1 914.7L1530.7 866.4L1623.8 903.4L1706.3 855.1L1710.3 856.7"/>
<path d="M937.8 937.3L1005.1 897.9L1098.2 934.8L1180.8 886.5L1273.9 923.5L1356.5 875.2L1449.5 912.1L1532.1 863.9L1625.2 900.8L1707.8 852.5L1710.3 853.5"/>
<path d="M937.8 935.5L1006.6 895.3L1099.7 932.2L1182.3 884L1275.3 920.9L1357.9 872.6L1451 909.6L1533.6 861.3L1626.7 898.2L1709.3 849.9L1710.3 850.3"/>
<path d="M937.8 933.8L1008.1 892.7L1101.1 929.6L1183.7 881.4L1276.8 918.3L1359.4 870L1452.5 906.9L1535.1 858.7L1628.1 895.6L1710.3 847.6"/>
<path d="M937.8 932L1009.6 890.1L1102.6 927L1185.2 878.8L1278.3 915.7L1360.9 867.5L1453.9 904.3L1536.5 856.1L1629.6 893L1710.3 845.9"/>
<path d="M937.8 930.3L1011 887.6L1104.1 924.4L1186.7 876.2L1279.7 913.1L1362.4 864.9L1455.4 901.7L1538 853.5L1631.1 890.4L1710.3 844.2"/>
<path d="M937.8 928.5L1012.5 885L1105.5 921.8L1188.2 873.7L1281.2 910.5L1363.8 862.3L1456.9 899.1L1539.5 851L1632.5 887.8L1710.3 842.5"/>
<path d="M937.8 926.7L1014 882.5L1107 919.2L1189.7 871.1L1282.7 907.8L1365.3 859.8L1458.3 896.5L1541 848.4L1634 885.1L1710.3 840.8"/>
<path d="M937.8 925L1015.5 879.9L1108.5 916.5L1191.2 868.6L1284.1 905.2L1366.9 857.2L1459.8 893.8L1542.5 845.9L1635.5 882.5L1710.3 839.1"/>
<path d="M937.8 923.1L1017.1 877.4L1109.9 913.9L1192.7 866L1285.6 902.5L1368.4 854.7L1461.3 891.2L1544.1 843.3L1636.9 879.8L1710.3 837.4"/>
<path d="M937.8 921.3L1018.6 874.9L1111.4 911.2L1194.3 863.5L1287 899.8L1369.9 852.2L1462.7 888.5L1545.6 840.8L1638.4 877.1L1710.3 835.8"/>
<path d="M937.8 919.4L1020.2 872.4L1112.8 908.4L1195.9 861.1L1288.5 897.1L1371.5 849.7L1464.2 885.7L1547.2 838.4L1639.8 874.4L1710.3 834.2"/>
<path d="M937.8 916.7L938.6 917L1021.9 870L1114.3 905.6L1197.5 858.7L1290 894.3L1373.2 847.3L1465.6 882.9L1548.8 836L1641.3 871.6L1710.3 832.7"/>
<path d="M937.8 913.3L940.1 914.1L1023.6 867.7L1115.8 902.8L1199.2 856.4L1291.4 891.4L1374.9 845L1467.1 880.1L1550.6 833.7L1642.8 868.7L1710.3 831.2"/>
<path d="M937.8 909.7L941.6 911.1L1025.4 865.5L1117.2 899.8L1201.1 854.1L1292.9 888.4L1376.7 842.8L1468.6 877.1L1552.4 831.4L1644.2 865.7L1710.3 829.8"/>
<path d="M937.8 906.1L943 908L1027.4 863.4L1118.7 896.6L1203 852.1L1294.4 885.3L1378.7 840.7L1470 873.9L1554.3 829.4L1645.7 862.6L1710.3 828.4"/>
</g>
<path d="M950.3 1008 L1015.58 1003.8 L1092.33 1000.07 L1161.6 994.24 L1199.47 991.2 L1246.31 988.4 L1323.06 982.8 L1400.05 977.67 L1448.14 975.1 L1515.42 969.27 L1592.41 965.31 L1694.32 959.71 L1710.27 959.01" fill="none" stroke="#000" stroke-width="8.5" clip-path="url(#clipD)" stroke-linejoin="round"/>
<line x1="950.3" y1="808.5" x2="950.3" y2="1160.2" stroke="#b0b0b0" stroke-width="3.2"/>
<line x1="1199.47" y1="808.5" x2="1199.47" y2="1160.2" stroke="#b0b0b0" stroke-width="3.2"/>
<line x1="1448.64" y1="808.5" x2="1448.64" y2="1160.2" stroke="#b0b0b0" stroke-width="3.2"/>
<line x1="1697.81" y1="808.5" x2="1697.81" y2="1160.2" stroke="#b0b0b0" stroke-width="3.2"/>
<line x1="950.3" y1="891.35" x2="1697.8" y2="891.35" stroke="#b0b0b0" stroke-width="3.2"/>
<line x1="950.3" y1="1008" x2="1697.8" y2="1008" stroke="#b0b0b0" stroke-width="3.2"/>
<line x1="950.3" y1="1124.65" x2="1697.8" y2="1124.65" stroke="#b0b0b0" stroke-width="3.2"/>
<text x="985" y="843.5" font-family="'DejaVu Sans', 'Liberation Sans', sans-serif" font-size="30.5" font-style="italic">N=100</text>
<rect x="1456" y="1026.4" width="221.8" height="112.6" fill="#fff" stroke="none" stroke-width="3.2"/>
<line x1="1514.85" y1="1026.4" x2="1514.85" y2="1139" stroke="#cfcfcf" stroke-width="2"/>
<line x1="1565.9" y1="1026.4" x2="1565.9" y2="1139" stroke="#cfcfcf" stroke-width="2"/>
<line x1="1616.95" y1="1026.4" x2="1616.95" y2="1139" stroke="#cfcfcf" stroke-width="2"/>
<line x1="1456" y1="1120.36" x2="1677.8" y2="1120.36" stroke="#cfcfcf" stroke-width="2"/>
<line x1="1456" y1="1104.22" x2="1677.8" y2="1104.22" stroke="#cfcfcf" stroke-width="2"/>
<line x1="1456" y1="1088.08" x2="1677.8" y2="1088.08" stroke="#cfcfcf" stroke-width="2"/>
<line x1="1456" y1="1055.8" x2="1677.8" y2="1055.8" stroke="#cfcfcf" stroke-width="2"/>
<line x1="1456" y1="1039.66" x2="1677.8" y2="1039.66" stroke="#cfcfcf" stroke-width="2"/>
<line x1="1463.8" y1="1026.4" x2="1463.8" y2="1139" stroke="#b0b0b0" stroke-width="2.8"/>
<line x1="1668" y1="1026.4" x2="1668" y2="1139" stroke="#b0b0b0" stroke-width="2.8"/>
<line x1="1456" y1="1136.5" x2="1677.8" y2="1136.5" stroke="#b0b0b0" stroke-width="2.8"/>
<line x1="1456" y1="1055.8" x2="1677.8" y2="1055.8" stroke="#b0b0b0" stroke-width="2.8"/>
<path d="M1463.8 1136.5 L1474.01 1130.04 L1489.33 1124.39 L1504.64 1120.36 L1519.95 1113.9 L1535.27 1104.22 L1550.59 1092.12 L1565.9 1084.05 L1581.21 1080.01 L1596.53 1071.94 L1611.85 1061.45 L1627.16 1050.96 L1642.47 1046.12 L1657.79 1038.05 L1673.11 1028.36" fill="none" stroke="#000" stroke-width="6.2" stroke-linejoin="round" stroke-linecap="round"/>
<rect x="1456" y="1026.4" width="221.8" height="112.6" fill="none" stroke="#000" stroke-width="3" stroke-linejoin="miter"/>
<line x1="1448" y1="1120.36" x2="1456" y2="1120.36" stroke="#000" stroke-width="2.2"/>
<line x1="1448" y1="1104.22" x2="1456" y2="1104.22" stroke="#000" stroke-width="2.2"/>
<line x1="1448" y1="1088.08" x2="1456" y2="1088.08" stroke="#000" stroke-width="2.2"/>
<line x1="1448" y1="1055.8" x2="1456" y2="1055.8" stroke="#000" stroke-width="2.2"/>
<line x1="1448" y1="1039.66" x2="1456" y2="1039.66" stroke="#000" stroke-width="2.2"/>
<line x1="1442" y1="1136.5" x2="1456" y2="1136.5" stroke="#000" stroke-width="3"/>
<text x="0" y="0" font-family="'DejaVu Sans', 'Liberation Sans', sans-serif" font-size="37.2" text-anchor="end" transform="translate(1440,1151.1) scale(1.020,1)">0.0</text>
<line x1="1442" y1="1055.8" x2="1456" y2="1055.8" stroke="#000" stroke-width="3"/>
<text x="0" y="0" font-family="'DejaVu Sans', 'Liberation Sans', sans-serif" font-size="37.2" text-anchor="end" transform="translate(1440,1070.4) scale(1.020,1)">0.1</text>
<line x1="1514.85" y1="1139" x2="1514.85" y2="1147" stroke="#000" stroke-width="2.2"/>
<line x1="1565.9" y1="1139" x2="1565.9" y2="1147" stroke="#000" stroke-width="2.2"/>
<line x1="1616.95" y1="1139" x2="1616.95" y2="1147" stroke="#000" stroke-width="2.2"/>
<line x1="1463.8" y1="1139" x2="1463.8" y2="1153" stroke="#000" stroke-width="3"/>
<line x1="1668" y1="1139" x2="1668" y2="1153" stroke="#000" stroke-width="3"/>
<text x="0" y="0" font-family="'DejaVu Sans', 'Liberation Sans', sans-serif" font-size="37.2" text-anchor="middle" transform="translate(1463.8,1021.2) scale(1.020,1)">0</text>
<text x="0" y="0" font-family="'DejaVu Sans', 'Liberation Sans', sans-serif" font-size="37.2" text-anchor="middle" transform="translate(1646.7,1021.2) scale(1.020,1)">2000</text>
<rect x="950.3" y="808.5" width="747.5" height="351.7" fill="none" stroke="#000" stroke-width="3.2" stroke-linejoin="miter"/>
<line x1="950.3" y1="1160.2" x2="950.3" y2="1173.2" stroke="#000" stroke-width="3.2"/>
<line x1="1199.47" y1="1160.2" x2="1199.47" y2="1173.2" stroke="#000" stroke-width="3.2"/>
<line x1="1448.64" y1="1160.2" x2="1448.64" y2="1173.2" stroke="#000" stroke-width="3.2"/>
<line x1="1697.81" y1="1160.2" x2="1697.81" y2="1173.2" stroke="#000" stroke-width="3.2"/>
<line x1="1697.8" y1="891.35" x2="1711.8" y2="891.35" stroke="#000" stroke-width="3.2"/>
<text x="0" y="0" font-family="'DejaVu Sans', 'Liberation Sans', sans-serif" font-size="37.2" transform="translate(1724.3,906.15) scale(1.020,1)">0.5</text>
<line x1="1697.8" y1="1008" x2="1711.8" y2="1008" stroke="#000" stroke-width="3.2"/>
<text x="0" y="0" font-family="'DejaVu Sans', 'Liberation Sans', sans-serif" font-size="37.2" transform="translate(1724.3,1022.8) scale(1.020,1)">0.0</text>
<line x1="1697.8" y1="1124.65" x2="1711.8" y2="1124.65" stroke="#000" stroke-width="3.2"/>
<text x="0" y="0" font-family="'DejaVu Sans', 'Liberation Sans', sans-serif" font-size="37.2" transform="translate(1720,1139.45) scale(1.020,1)">−0.5</text>
<text x="934" y="792.5" font-family="'DejaVu Sans', 'Liberation Sans', sans-serif" font-size="47" font-weight="bold">d</text>
<rect x="1817.6" y="812.8" width="181.2" height="338" rx="6.5" ry="6.5" fill="#fff" fill-opacity="0.8" stroke="#cccccc" stroke-width="3.3"/>
<line x1="1838.3" y1="855.8" x2="1904.8" y2="855.8" stroke="#fa8072" stroke-width="3.4"/>
<text x="1837.2" y="912.7" font-family="'DejaVu Sans', 'Liberation Sans', sans-serif" font-size="41.5">Single</text>
<text x="1837.2" y="964" font-family="'DejaVu Sans', 'Liberation Sans', sans-serif" font-size="41.5">Beads</text>
<line x1="1836.5" y1="1006.8" x2="1907.2" y2="1006.8" stroke="#000" stroke-width="8.8"/>
<text x="1837.2" y="1058.7" font-family="'DejaVu Sans', 'Liberation Sans', sans-serif" font-size="41.5">Center</text>
<text x="1837.2" y="1111.1" font-family="'DejaVu Sans', 'Liberation Sans', sans-serif" font-size="41.5">of Mass</text>
<clipPath id="clipE"><rect x="176" y="1229" width="748.4" height="354.6"/></clipPath>
<g clip-path="url(#clipE)" shape-rendering="crispEdges">
<rect x="177.7" y="1227.9" width="14.1" height="24" fill="#8080ff" stroke="none" stroke-width="3.2"/>
<rect x="202.14" y="1227.9" width="14.1" height="24" fill="#8080ff" stroke="none" stroke-width="3.2"/>
<rect x="226.59" y="1227.9" width="14.1" height="24" fill="#8080ff" stroke="none" stroke-width="3.2"/>
<rect x="251.03" y="1227.9" width="14.1" height="24" fill="#8080ff" stroke="none" stroke-width="3.2"/>
<rect x="275.48" y="1227.9" width="14.1" height="24" fill="#8080ff" stroke="none" stroke-width="3.2"/>
<rect x="299.92" y="1227.9" width="14.1" height="24" fill="#8080ff" stroke="none" stroke-width="3.2"/>
<rect x="324.37" y="1227.9" width="14.1" height="24" fill="#8080ff" stroke="none" stroke-width="3.2"/>
<rect x="348.81" y="1227.9" width="14.1" height="24" fill="#8080ff" stroke="none" stroke-width="3.2"/>
<rect x="373.26" y="1227.9" width="14.1" height="24" fill="#8080ff" stroke="none" stroke-width="3.2"/>
<rect x="397.7" y="1227.9" width="14.1" height="24" fill="#8080ff" stroke="none" stroke-width="3.2"/>
<rect x="422.15" y="1227.9" width="14.1" height="24" fill="#8080ff" stroke="none" stroke-width="3.2"/>
<rect x="446.59" y="1227.9" width="14.1" height="24" fill="#8080ff" stroke="none" stroke-width="3.2"/>
<rect x="471.04" y="1227.9" width="14.1" height="24" fill="#8080ff" stroke="none" stroke-width="3.2"/>
<rect x="495.49" y="1227.9" width="14.1" height="24" fill="#8080ff" stroke="none" stroke-width="3.2"/>
<rect x="519.93" y="1227.9" width="14.1" height="24" fill="#8080ff" stroke="none" stroke-width="3.2"/>
<rect x="544.38" y="1227.9" width="14.1" height="24" fill="#8080ff" stroke="none" stroke-width="3.2"/>
<rect x="568.82" y="1227.9" width="14.1" height="24" fill="#8080ff" stroke="none" stroke-width="3.2"/>
<rect x="593.26" y="1227.9" width="14.1" height="24" fill="#8080ff" stroke="none" stroke-width="3.2"/>
<rect x="617.71" y="1227.9" width="14.1" height="24" fill="#8080ff" stroke="none" stroke-width="3.2"/>
<rect x="642.15" y="1227.9" width="14.1" height="24" fill="#8080ff" stroke="none" stroke-width="3.2"/>
<rect x="666.6" y="1227.9" width="14.1" height="24" fill="#8080ff" stroke="none" stroke-width="3.2"/>
<rect x="691.05" y="1227.9" width="14.1" height="24" fill="#8080ff" stroke="none" stroke-width="3.2"/>
<rect x="715.49" y="1227.9" width="14.1" height="24" fill="#8080ff" stroke="none" stroke-width="3.2"/>
<rect x="739.93" y="1227.9" width="14.1" height="24" fill="#8080ff" stroke="none" stroke-width="3.2"/>
<rect x="764.38" y="1227.9" width="14.1" height="24" fill="#8080ff" stroke="none" stroke-width="3.2"/>
<rect x="788.83" y="1227.9" width="14.1" height="24" fill="#8080ff" stroke="none" stroke-width="3.2"/>
<rect x="813.27" y="1227.9" width="14.1" height="24" fill="#8080ff" stroke="none" stroke-width="3.2"/>
<rect x="837.71" y="1227.9" width="14.1" height="24" fill="#8080ff" stroke="none" stroke-width="3.2"/>
<rect x="862.16" y="1227.9" width="14.1" height="24" fill="#8080ff" stroke="none" stroke-width="3.2"/>
<rect x="886.61" y="1227.9" width="14.1" height="24" fill="#8080ff" stroke="none" stroke-width="3.2"/>
<rect x="911.05" y="1227.9" width="14.1" height="24" fill="#8080ff" stroke="none" stroke-width="3.2"/>
<rect x="168.46" y="1227.9" width="9.2" height="24" fill="#ff8080" stroke="none" stroke-width="3.2"/>
<rect x="192.9" y="1227.9" width="9.2" height="24" fill="#ff8080" stroke="none" stroke-width="3.2"/>
<rect x="217.34" y="1227.9" width="9.2" height="24" fill="#ff8080" stroke="none" stroke-width="3.2"/>
<rect x="241.79" y="1227.9" width="9.2" height="24" fill="#ff8080" stroke="none" stroke-width="3.2"/>
<rect x="266.24" y="1227.9" width="9.2" height="24" fill="#ff8080" stroke="none" stroke-width="3.2"/>
<rect x="290.68" y="1227.9" width="9.2" height="24" fill="#ff8080" stroke="none" stroke-width="3.2"/>
<rect x="315.12" y="1227.9" width="9.2" height="24" fill="#ff8080" stroke="none" stroke-width="3.2"/>
<rect x="339.57" y="1227.9" width="9.2" height="24" fill="#ff8080" stroke="none" stroke-width="3.2"/>
<rect x="364.01" y="1227.9" width="9.2" height="24" fill="#ff8080" stroke="none" stroke-width="3.2"/>
<rect x="388.46" y="1227.9" width="9.2" height="24" fill="#ff8080" stroke="none" stroke-width="3.2"/>
<rect x="412.9" y="1227.9" width="9.2" height="24" fill="#ff8080" stroke="none" stroke-width="3.2"/>
<rect x="437.35" y="1227.9" width="9.2" height="24" fill="#ff8080" stroke="none" stroke-width="3.2"/>
<rect x="461.79" y="1227.9" width="9.2" height="24" fill="#ff8080" stroke="none" stroke-width="3.2"/>
<rect x="486.24" y="1227.9" width="9.2" height="24" fill="#ff8080" stroke="none" stroke-width="3.2"/>
<rect x="510.69" y="1227.9" width="9.2" height="24" fill="#ff8080" stroke="none" stroke-width="3.2"/>
<rect x="535.13" y="1227.9" width="9.2" height="24" fill="#ff8080" stroke="none" stroke-width="3.2"/>
<rect x="559.58" y="1227.9" width="9.2" height="24" fill="#ff8080" stroke="none" stroke-width="3.2"/>
<rect x="584.02" y="1227.9" width="9.2" height="24" fill="#ff8080" stroke="none" stroke-width="3.2"/>
<rect x="608.47" y="1227.9" width="9.2" height="24" fill="#ff8080" stroke="none" stroke-width="3.2"/>
<rect x="632.91" y="1227.9" width="9.2" height="24" fill="#ff8080" stroke="none" stroke-width="3.2"/>
<rect x="657.36" y="1227.9" width="9.2" height="24" fill="#ff8080" stroke="none" stroke-width="3.2"/>
<rect x="681.8" y="1227.9" width="9.2" height="24" fill="#ff8080" stroke="none" stroke-width="3.2"/>
<rect x="706.25" y="1227.9" width="9.2" height="24" fill="#ff8080" stroke="none" stroke-width="3.2"/>
<rect x="730.69" y="1227.9" width="9.2" height="24" fill="#ff8080" stroke="none" stroke-width="3.2"/>
<rect x="755.13" y="1227.9" width="9.2" height="24" fill="#ff8080" stroke="none" stroke-width="3.2"/>
<rect x="779.58" y="1227.9" width="9.2" height="24" fill="#ff8080" stroke="none" stroke-width="3.2"/>
<rect x="804.02" y="1227.9" width="9.2" height="24" fill="#ff8080" stroke="none" stroke-width="3.2"/>
<rect x="828.47" y="1227.9" width="9.2" height="24" fill="#ff8080" stroke="none" stroke-width="3.2"/>
<rect x="852.91" y="1227.9" width="9.2" height="24" fill="#ff8080" stroke="none" stroke-width="3.2"/>
<rect x="877.36" y="1227.9" width="9.2" height="24" fill="#ff8080" stroke="none" stroke-width="3.2"/>
<rect x="901.8" y="1227.9" width="9.2" height="24" fill="#ff8080" stroke="none" stroke-width="3.2"/>
<rect x="178.36" y="1560.84" width="9.4" height="23.98" fill="#8080ff" stroke="none" stroke-width="3.2"/>
<rect x="202.8" y="1560.84" width="9.4" height="23.98" fill="#8080ff" stroke="none" stroke-width="3.2"/>
<rect x="227.25" y="1560.84" width="9.4" height="23.98" fill="#8080ff" stroke="none" stroke-width="3.2"/>
<rect x="251.69" y="1560.84" width="9.4" height="23.98" fill="#8080ff" stroke="none" stroke-width="3.2"/>
<rect x="276.13" y="1560.84" width="9.4" height="23.98" fill="#8080ff" stroke="none" stroke-width="3.2"/>
<rect x="300.58" y="1560.84" width="9.4" height="23.98" fill="#8080ff" stroke="none" stroke-width="3.2"/>
<rect x="325.02" y="1560.84" width="9.4" height="23.98" fill="#8080ff" stroke="none" stroke-width="3.2"/>
<rect x="349.47" y="1560.84" width="9.4" height="23.98" fill="#8080ff" stroke="none" stroke-width="3.2"/>
<rect x="373.92" y="1560.84" width="9.4" height="23.98" fill="#8080ff" stroke="none" stroke-width="3.2"/>
<rect x="398.36" y="1560.84" width="9.4" height="23.98" fill="#8080ff" stroke="none" stroke-width="3.2"/>
<rect x="422.81" y="1560.84" width="9.4" height="23.98" fill="#8080ff" stroke="none" stroke-width="3.2"/>
<rect x="447.25" y="1560.84" width="9.4" height="23.98" fill="#8080ff" stroke="none" stroke-width="3.2"/>
<rect x="471.69" y="1560.84" width="9.4" height="23.98" fill="#8080ff" stroke="none" stroke-width="3.2"/>
<rect x="496.14" y="1560.84" width="9.4" height="23.98" fill="#8080ff" stroke="none" stroke-width="3.2"/>
<rect x="520.59" y="1560.84" width="9.4" height="23.98" fill="#8080ff" stroke="none" stroke-width="3.2"/>
<rect x="545.03" y="1560.84" width="9.4" height="23.98" fill="#8080ff" stroke="none" stroke-width="3.2"/>
<rect x="569.48" y="1560.84" width="9.4" height="23.98" fill="#8080ff" stroke="none" stroke-width="3.2"/>
<rect x="593.92" y="1560.84" width="9.4" height="23.98" fill="#8080ff" stroke="none" stroke-width="3.2"/>
<rect x="618.37" y="1560.84" width="9.4" height="23.98" fill="#8080ff" stroke="none" stroke-width="3.2"/>
<rect x="642.81" y="1560.84" width="9.4" height="23.98" fill="#8080ff" stroke="none" stroke-width="3.2"/>
<rect x="667.25" y="1560.84" width="9.4" height="23.98" fill="#8080ff" stroke="none" stroke-width="3.2"/>
<rect x="691.7" y="1560.84" width="9.4" height="23.98" fill="#8080ff" stroke="none" stroke-width="3.2"/>
<rect x="716.14" y="1560.84" width="9.4" height="23.98" fill="#8080ff" stroke="none" stroke-width="3.2"/>
<rect x="740.59" y="1560.84" width="9.4" height="23.98" fill="#8080ff" stroke="none" stroke-width="3.2"/>
<rect x="765.04" y="1560.84" width="9.4" height="23.98" fill="#8080ff" stroke="none" stroke-width="3.2"/>
<rect x="789.48" y="1560.84" width="9.4" height="23.98" fill="#8080ff" stroke="none" stroke-width="3.2"/>
<rect x="813.92" y="1560.84" width="9.4" height="23.98" fill="#8080ff" stroke="none" stroke-width="3.2"/>
<rect x="838.37" y="1560.84" width="9.4" height="23.98" fill="#8080ff" stroke="none" stroke-width="3.2"/>
<rect x="862.82" y="1560.84" width="9.4" height="23.98" fill="#8080ff" stroke="none" stroke-width="3.2"/>
<rect x="887.26" y="1560.84" width="9.4" height="23.98" fill="#8080ff" stroke="none" stroke-width="3.2"/>
<rect x="911.7" y="1560.84" width="9.4" height="23.98" fill="#8080ff" stroke="none" stroke-width="3.2"/>
<rect x="164.21" y="1560.84" width="12.9" height="23.98" fill="#ff8080" stroke="none" stroke-width="3.2"/>
<rect x="188.66" y="1560.84" width="12.9" height="23.98" fill="#ff8080" stroke="none" stroke-width="3.2"/>
<rect x="213.1" y="1560.84" width="12.9" height="23.98" fill="#ff8080" stroke="none" stroke-width="3.2"/>
<rect x="237.54" y="1560.84" width="12.9" height="23.98" fill="#ff8080" stroke="none" stroke-width="3.2"/>
<rect x="261.99" y="1560.84" width="12.9" height="23.98" fill="#ff8080" stroke="none" stroke-width="3.2"/>
<rect x="286.44" y="1560.84" width="12.9" height="23.98" fill="#ff8080" stroke="none" stroke-width="3.2"/>
<rect x="310.88" y="1560.84" width="12.9" height="23.98" fill="#ff8080" stroke="none" stroke-width="3.2"/>
<rect x="335.32" y="1560.84" width="12.9" height="23.98" fill="#ff8080" stroke="none" stroke-width="3.2"/>
<rect x="359.77" y="1560.84" width="12.9" height="23.98" fill="#ff8080" stroke="none" stroke-width="3.2"/>
<rect x="384.22" y="1560.84" width="12.9" height="23.98" fill="#ff8080" stroke="none" stroke-width="3.2"/>
<rect x="408.66" y="1560.84" width="12.9" height="23.98" fill="#ff8080" stroke="none" stroke-width="3.2"/>
<rect x="433.11" y="1560.84" width="12.9" height="23.98" fill="#ff8080" stroke="none" stroke-width="3.2"/>
<rect x="457.55" y="1560.84" width="12.9" height="23.98" fill="#ff8080" stroke="none" stroke-width="3.2"/>
<rect x="482" y="1560.84" width="12.9" height="23.98" fill="#ff8080" stroke="none" stroke-width="3.2"/>
<rect x="506.44" y="1560.84" width="12.9" height="23.98" fill="#ff8080" stroke="none" stroke-width="3.2"/>
<rect x="530.88" y="1560.84" width="12.9" height="23.98" fill="#ff8080" stroke="none" stroke-width="3.2"/>
<rect x="555.33" y="1560.84" width="12.9" height="23.98" fill="#ff8080" stroke="none" stroke-width="3.2"/>
<rect x="579.77" y="1560.84" width="12.9" height="23.98" fill="#ff8080" stroke="none" stroke-width="3.2"/>
<rect x="604.22" y="1560.84" width="12.9" height="23.98" fill="#ff8080" stroke="none" stroke-width="3.2"/>
<rect x="628.66" y="1560.84" width="12.9" height="23.98" fill="#ff8080" stroke="none" stroke-width="3.2"/>
<rect x="653.11" y="1560.84" width="12.9" height="23.98" fill="#ff8080" stroke="none" stroke-width="3.2"/>
<rect x="677.55" y="1560.84" width="12.9" height="23.98" fill="#ff8080" stroke="none" stroke-width="3.2"/>
<rect x="702" y="1560.84" width="12.9" height="23.98" fill="#ff8080" stroke="none" stroke-width="3.2"/>
<rect x="726.45" y="1560.84" width="12.9" height="23.98" fill="#ff8080" stroke="none" stroke-width="3.2"/>
<rect x="750.89" y="1560.84" width="12.9" height="23.98" fill="#ff8080" stroke="none" stroke-width="3.2"/>
<rect x="775.34" y="1560.84" width="12.9" height="23.98" fill="#ff8080" stroke="none" stroke-width="3.2"/>
<rect x="799.78" y="1560.84" width="12.9" height="23.98" fill="#ff8080" stroke="none" stroke-width="3.2"/>
<rect x="824.23" y="1560.84" width="12.9" height="23.98" fill="#ff8080" stroke="none" stroke-width="3.2"/>
<rect x="848.67" y="1560.84" width="12.9" height="23.98" fill="#ff8080" stroke="none" stroke-width="3.2"/>
<rect x="873.12" y="1560.84" width="12.9" height="23.98" fill="#ff8080" stroke="none" stroke-width="3.2"/>
<rect x="897.56" y="1560.84" width="12.9" height="23.98" fill="#ff8080" stroke="none" stroke-width="3.2"/>
<rect x="922" y="1560.84" width="12.9" height="23.98" fill="#ff8080" stroke="none" stroke-width="3.2"/>
<rect x="182.21" y="1537.06" width="5.3" height="23.98" fill="#ff0000" stroke="none" stroke-width="3.2"/>
<rect x="206.66" y="1537.06" width="5.3" height="23.98" fill="#ff0000" stroke="none" stroke-width="3.2"/>
<rect x="231.1" y="1537.06" width="5.3" height="23.98" fill="#ff0000" stroke="none" stroke-width="3.2"/>
<rect x="255.54" y="1537.06" width="5.3" height="23.98" fill="#ff0000" stroke="none" stroke-width="3.2"/>
<rect x="279.99" y="1537.06" width="5.3" height="23.98" fill="#ff0000" stroke="none" stroke-width="3.2"/>
<rect x="304.44" y="1537.06" width="5.3" height="23.98" fill="#ff0000" stroke="none" stroke-width="3.2"/>
<rect x="328.88" y="1537.06" width="5.3" height="23.98" fill="#ff0000" stroke="none" stroke-width="3.2"/>
<rect x="353.32" y="1537.06" width="5.3" height="23.98" fill="#ff0000" stroke="none" stroke-width="3.2"/>
<rect x="377.77" y="1537.06" width="5.3" height="23.98" fill="#ff0000" stroke="none" stroke-width="3.2"/>
<rect x="402.22" y="1537.06" width="5.3" height="23.98" fill="#ff0000" stroke="none" stroke-width="3.2"/>
<rect x="426.66" y="1537.06" width="5.3" height="23.98" fill="#ff0000" stroke="none" stroke-width="3.2"/>
<rect x="451.11" y="1537.06" width="5.3" height="23.98" fill="#ff0000" stroke="none" stroke-width="3.2"/>
<rect x="475.55" y="1537.06" width="5.3" height="23.98" fill="#ff0000" stroke="none" stroke-width="3.2"/>
<rect x="500" y="1537.06" width="5.3" height="23.98" fill="#ff0000" stroke="none" stroke-width="3.2"/>
<rect x="524.44" y="1537.06" width="5.3" height="23.98" fill="#ff0000" stroke="none" stroke-width="3.2"/>
<rect x="548.88" y="1537.06" width="5.3" height="23.98" fill="#ff0000" stroke="none" stroke-width="3.2"/>
<rect x="573.33" y="1537.06" width="5.3" height="23.98" fill="#ff0000" stroke="none" stroke-width="3.2"/>
<rect x="597.77" y="1537.06" width="5.3" height="23.98" fill="#ff0000" stroke="none" stroke-width="3.2"/>
<rect x="622.22" y="1537.06" width="5.3" height="23.98" fill="#ff0000" stroke="none" stroke-width="3.2"/>
<rect x="646.66" y="1537.06" width="5.3" height="23.98" fill="#ff0000" stroke="none" stroke-width="3.2"/>
<rect x="671.11" y="1537.06" width="5.3" height="23.98" fill="#ff0000" stroke="none" stroke-width="3.2"/>
<rect x="695.55" y="1537.06" width="5.3" height="23.98" fill="#ff0000" stroke="none" stroke-width="3.2"/>
<rect x="720" y="1537.06" width="5.3" height="23.98" fill="#ff0000" stroke="none" stroke-width="3.2"/>
<rect x="744.45" y="1537.06" width="5.3" height="23.98" fill="#ff0000" stroke="none" stroke-width="3.2"/>
<rect x="768.89" y="1537.06" width="5.3" height="23.98" fill="#ff0000" stroke="none" stroke-width="3.2"/>
<rect x="793.34" y="1537.06" width="5.3" height="23.98" fill="#ff0000" stroke="none" stroke-width="3.2"/>
<rect x="817.78" y="1537.06" width="5.3" height="23.98" fill="#ff0000" stroke="none" stroke-width="3.2"/>
<rect x="842.23" y="1537.06" width="5.3" height="23.98" fill="#ff0000" stroke="none" stroke-width="3.2"/>
<rect x="866.67" y="1537.06" width="5.3" height="23.98" fill="#ff0000" stroke="none" stroke-width="3.2"/>
<rect x="891.12" y="1537.06" width="5.3" height="23.98" fill="#ff0000" stroke="none" stroke-width="3.2"/>
<rect x="915.56" y="1537.06" width="5.3" height="23.98" fill="#ff0000" stroke="none" stroke-width="3.2"/>
<rect x="171.31" y="1537.06" width="5.6" height="23.98" fill="#0000ff" stroke="none" stroke-width="3.2"/>
<rect x="195.76" y="1537.06" width="5.6" height="23.98" fill="#0000ff" stroke="none" stroke-width="3.2"/>
<rect x="220.2" y="1537.06" width="5.6" height="23.98" fill="#0000ff" stroke="none" stroke-width="3.2"/>
<rect x="244.65" y="1537.06" width="5.6" height="23.98" fill="#0000ff" stroke="none" stroke-width="3.2"/>
<rect x="269.09" y="1537.06" width="5.6" height="23.98" fill="#0000ff" stroke="none" stroke-width="3.2"/>
<rect x="293.54" y="1537.06" width="5.6" height="23.98" fill="#0000ff" stroke="none" stroke-width="3.2"/>
<rect x="317.99" y="1537.06" width="5.6" height="23.98" fill="#0000ff" stroke="none" stroke-width="3.2"/>
<rect x="342.43" y="1537.06" width="5.6" height="23.98" fill="#0000ff" stroke="none" stroke-width="3.2"/>
<rect x="366.88" y="1537.06" width="5.6" height="23.98" fill="#0000ff" stroke="none" stroke-width="3.2"/>
<rect x="391.32" y="1537.06" width="5.6" height="23.98" fill="#0000ff" stroke="none" stroke-width="3.2"/>
<rect x="415.76" y="1537.06" width="5.6" height="23.98" fill="#0000ff" stroke="none" stroke-width="3.2"/>
<rect x="440.21" y="1537.06" width="5.6" height="23.98" fill="#0000ff" stroke="none" stroke-width="3.2"/>
<rect x="464.65" y="1537.06" width="5.6" height="23.98" fill="#0000ff" stroke="none" stroke-width="3.2"/>
<rect x="489.1" y="1537.06" width="5.6" height="23.98" fill="#0000ff" stroke="none" stroke-width="3.2"/>
<rect x="513.54" y="1537.06" width="5.6" height="23.98" fill="#0000ff" stroke="none" stroke-width="3.2"/>
<rect x="537.99" y="1537.06" width="5.6" height="23.98" fill="#0000ff" stroke="none" stroke-width="3.2"/>
<rect x="562.43" y="1537.06" width="5.6" height="23.98" fill="#0000ff" stroke="none" stroke-width="3.2"/>
<rect x="586.88" y="1537.06" width="5.6" height="23.98" fill="#0000ff" stroke="none" stroke-width="3.2"/>
<rect x="611.33" y="1537.06" width="5.6" height="23.98" fill="#0000ff" stroke="none" stroke-width="3.2"/>
<rect x="635.77" y="1537.06" width="5.6" height="23.98" fill="#0000ff" stroke="none" stroke-width="3.2"/>
<rect x="660.21" y="1537.06" width="5.6" height="23.98" fill="#0000ff" stroke="none" stroke-width="3.2"/>
<rect x="684.66" y="1537.06" width="5.6" height="23.98" fill="#0000ff" stroke="none" stroke-width="3.2"/>
<rect x="709.11" y="1537.06" width="5.6" height="23.98" fill="#0000ff" stroke="none" stroke-width="3.2"/>
<rect x="733.55" y="1537.06" width="5.6" height="23.98" fill="#0000ff" stroke="none" stroke-width="3.2"/>
<rect x="758" y="1537.06" width="5.6" height="23.98" fill="#0000ff" stroke="none" stroke-width="3.2"/>
<rect x="782.44" y="1537.06" width="5.6" height="23.98" fill="#0000ff" stroke="none" stroke-width="3.2"/>
<rect x="806.88" y="1537.06" width="5.6" height="23.98" fill="#0000ff" stroke="none" stroke-width="3.2"/>
<rect x="831.33" y="1537.06" width="5.6" height="23.98" fill="#0000ff" stroke="none" stroke-width="3.2"/>
<rect x="855.77" y="1537.06" width="5.6" height="23.98" fill="#0000ff" stroke="none" stroke-width="3.2"/>
<rect x="880.22" y="1537.06" width="5.6" height="23.98" fill="#0000ff" stroke="none" stroke-width="3.2"/>
<rect x="904.66" y="1537.06" width="5.6" height="23.98" fill="#0000ff" stroke="none" stroke-width="3.2"/>
<rect x="177.76" y="1513.28" width="4.4" height="23.98" fill="#ff0000" stroke="none" stroke-width="3.2"/>
<rect x="202.2" y="1513.28" width="4.4" height="23.98" fill="#ff0000" stroke="none" stroke-width="3.2"/>
<rect x="226.65" y="1513.28" width="4.4" height="23.98" fill="#ff0000" stroke="none" stroke-width="3.2"/>
<rect x="251.09" y="1513.28" width="4.4" height="23.98" fill="#ff0000" stroke="none" stroke-width="3.2"/>
<rect x="275.54" y="1513.28" width="4.4" height="23.98" fill="#ff0000" stroke="none" stroke-width="3.2"/>
<rect x="299.99" y="1513.28" width="4.4" height="23.98" fill="#ff0000" stroke="none" stroke-width="3.2"/>
<rect x="324.43" y="1513.28" width="4.4" height="23.98" fill="#ff0000" stroke="none" stroke-width="3.2"/>
<rect x="348.88" y="1513.28" width="4.4" height="23.98" fill="#ff0000" stroke="none" stroke-width="3.2"/>
<rect x="373.32" y="1513.28" width="4.4" height="23.98" fill="#ff0000" stroke="none" stroke-width="3.2"/>
<rect x="397.76" y="1513.28" width="4.4" height="23.98" fill="#ff0000" stroke="none" stroke-width="3.2"/>
<rect x="422.21" y="1513.28" width="4.4" height="23.98" fill="#ff0000" stroke="none" stroke-width="3.2"/>
<rect x="446.65" y="1513.28" width="4.4" height="23.98" fill="#ff0000" stroke="none" stroke-width="3.2"/>
<rect x="471.1" y="1513.28" width="4.4" height="23.98" fill="#ff0000" stroke="none" stroke-width="3.2"/>
<rect x="495.54" y="1513.28" width="4.4" height="23.98" fill="#ff0000" stroke="none" stroke-width="3.2"/>
<rect x="519.99" y="1513.28" width="4.4" height="23.98" fill="#ff0000" stroke="none" stroke-width="3.2"/>
<rect x="544.43" y="1513.28" width="4.4" height="23.98" fill="#ff0000" stroke="none" stroke-width="3.2"/>
<rect x="568.88" y="1513.28" width="4.4" height="23.98" fill="#ff0000" stroke="none" stroke-width="3.2"/>
<rect x="593.33" y="1513.28" width="4.4" height="23.98" fill="#ff0000" stroke="none" stroke-width="3.2"/>
<rect x="617.77" y="1513.28" width="4.4" height="23.98" fill="#ff0000" stroke="none" stroke-width="3.2"/>
<rect x="642.21" y="1513.28" width="4.4" height="23.98" fill="#ff0000" stroke="none" stroke-width="3.2"/>
<rect x="666.66" y="1513.28" width="4.4" height="23.98" fill="#ff0000" stroke="none" stroke-width="3.2"/>
<rect x="691.11" y="1513.28" width="4.4" height="23.98" fill="#ff0000" stroke="none" stroke-width="3.2"/>
<rect x="715.55" y="1513.28" width="4.4" height="23.98" fill="#ff0000" stroke="none" stroke-width="3.2"/>
<rect x="740" y="1513.28" width="4.4" height="23.98" fill="#ff0000" stroke="none" stroke-width="3.2"/>
<rect x="764.44" y="1513.28" width="4.4" height="23.98" fill="#ff0000" stroke="none" stroke-width="3.2"/>
<rect x="788.88" y="1513.28" width="4.4" height="23.98" fill="#ff0000" stroke="none" stroke-width="3.2"/>
<rect x="813.33" y="1513.28" width="4.4" height="23.98" fill="#ff0000" stroke="none" stroke-width="3.2"/>
<rect x="837.77" y="1513.28" width="4.4" height="23.98" fill="#ff0000" stroke="none" stroke-width="3.2"/>
<rect x="862.22" y="1513.28" width="4.4" height="23.98" fill="#ff0000" stroke="none" stroke-width="3.2"/>
<rect x="886.66" y="1513.28" width="4.4" height="23.98" fill="#ff0000" stroke="none" stroke-width="3.2"/>
<rect x="911.11" y="1513.28" width="4.4" height="23.98" fill="#ff0000" stroke="none" stroke-width="3.2"/>
<rect x="191.31" y="1513.28" width="4.3" height="23.98" fill="#0000ff" stroke="none" stroke-width="3.2"/>
<rect x="215.75" y="1513.28" width="4.3" height="23.98" fill="#0000ff" stroke="none" stroke-width="3.2"/>
<rect x="240.2" y="1513.28" width="4.3" height="23.98" fill="#0000ff" stroke="none" stroke-width="3.2"/>
<rect x="264.64" y="1513.28" width="4.3" height="23.98" fill="#0000ff" stroke="none" stroke-width="3.2"/>
<rect x="289.09" y="1513.28" width="4.3" height="23.98" fill="#0000ff" stroke="none" stroke-width="3.2"/>
<rect x="313.53" y="1513.28" width="4.3" height="23.98" fill="#0000ff" stroke="none" stroke-width="3.2"/>
<rect x="337.98" y="1513.28" width="4.3" height="23.98" fill="#0000ff" stroke="none" stroke-width="3.2"/>
<rect x="362.42" y="1513.28" width="4.3" height="23.98" fill="#0000ff" stroke="none" stroke-width="3.2"/>
<rect x="386.87" y="1513.28" width="4.3" height="23.98" fill="#0000ff" stroke="none" stroke-width="3.2"/>
<rect x="411.31" y="1513.28" width="4.3" height="23.98" fill="#0000ff" stroke="none" stroke-width="3.2"/>
<rect x="435.76" y="1513.28" width="4.3" height="23.98" fill="#0000ff" stroke="none" stroke-width="3.2"/>
<rect x="460.2" y="1513.28" width="4.3" height="23.98" fill="#0000ff" stroke="none" stroke-width="3.2"/>
<rect x="484.65" y="1513.28" width="4.3" height="23.98" fill="#0000ff" stroke="none" stroke-width="3.2"/>
<rect x="509.09" y="1513.28" width="4.3" height="23.98" fill="#0000ff" stroke="none" stroke-width="3.2"/>
<rect x="533.54" y="1513.28" width="4.3" height="23.98" fill="#0000ff" stroke="none" stroke-width="3.2"/>
<rect x="557.99" y="1513.28" width="4.3" height="23.98" fill="#0000ff" stroke="none" stroke-width="3.2"/>
<rect x="582.43" y="1513.28" width="4.3" height="23.98" fill="#0000ff" stroke="none" stroke-width="3.2"/>
<rect x="606.88" y="1513.28" width="4.3" height="23.98" fill="#0000ff" stroke="none" stroke-width="3.2"/>
<rect x="631.32" y="1513.28" width="4.3" height="23.98" fill="#0000ff" stroke="none" stroke-width="3.2"/>
<rect x="655.76" y="1513.28" width="4.3" height="23.98" fill="#0000ff" stroke="none" stroke-width="3.2"/>
<rect x="680.21" y="1513.28" width="4.3" height="23.98" fill="#0000ff" stroke="none" stroke-width="3.2"/>
<rect x="704.65" y="1513.28" width="4.3" height="23.98" fill="#0000ff" stroke="none" stroke-width="3.2"/>
<rect x="729.1" y="1513.28" width="4.3" height="23.98" fill="#0000ff" stroke="none" stroke-width="3.2"/>
<rect x="753.55" y="1513.28" width="4.3" height="23.98" fill="#0000ff" stroke="none" stroke-width="3.2"/>
<rect x="777.99" y="1513.28" width="4.3" height="23.98" fill="#0000ff" stroke="none" stroke-width="3.2"/>
<rect x="802.43" y="1513.28" width="4.3" height="23.98" fill="#0000ff" stroke="none" stroke-width="3.2"/>
<rect x="826.88" y="1513.28" width="4.3" height="23.98" fill="#0000ff" stroke="none" stroke-width="3.2"/>
<rect x="851.33" y="1513.28" width="4.3" height="23.98" fill="#0000ff" stroke="none" stroke-width="3.2"/>
<rect x="875.77" y="1513.28" width="4.3" height="23.98" fill="#0000ff" stroke="none" stroke-width="3.2"/>
<rect x="900.21" y="1513.28" width="4.3" height="23.98" fill="#0000ff" stroke="none" stroke-width="3.2"/>
<rect x="924.66" y="1513.28" width="4.3" height="23.98" fill="#0000ff" stroke="none" stroke-width="3.2"/>
<rect x="173.31" y="1489.5" width="4.4" height="23.98" fill="#ff0000" stroke="none" stroke-width="3.2"/>
<rect x="197.75" y="1489.5" width="4.4" height="23.98" fill="#ff0000" stroke="none" stroke-width="3.2"/>
<rect x="222.2" y="1489.5" width="4.4" height="23.98" fill="#ff0000" stroke="none" stroke-width="3.2"/>
<rect x="246.64" y="1489.5" width="4.4" height="23.98" fill="#ff0000" stroke="none" stroke-width="3.2"/>
<rect x="271.09" y="1489.5" width="4.4" height="23.98" fill="#ff0000" stroke="none" stroke-width="3.2"/>
<rect x="295.53" y="1489.5" width="4.4" height="23.98" fill="#ff0000" stroke="none" stroke-width="3.2"/>
<rect x="319.98" y="1489.5" width="4.4" height="23.98" fill="#ff0000" stroke="none" stroke-width="3.2"/>
<rect x="344.42" y="1489.5" width="4.4" height="23.98" fill="#ff0000" stroke="none" stroke-width="3.2"/>
<rect x="368.87" y="1489.5" width="4.4" height="23.98" fill="#ff0000" stroke="none" stroke-width="3.2"/>
<rect x="393.31" y="1489.5" width="4.4" height="23.98" fill="#ff0000" stroke="none" stroke-width="3.2"/>
<rect x="417.76" y="1489.5" width="4.4" height="23.98" fill="#ff0000" stroke="none" stroke-width="3.2"/>
<rect x="442.2" y="1489.5" width="4.4" height="23.98" fill="#ff0000" stroke="none" stroke-width="3.2"/>
<rect x="466.65" y="1489.5" width="4.4" height="23.98" fill="#ff0000" stroke="none" stroke-width="3.2"/>
<rect x="491.09" y="1489.5" width="4.4" height="23.98" fill="#ff0000" stroke="none" stroke-width="3.2"/>
<rect x="515.54" y="1489.5" width="4.4" height="23.98" fill="#ff0000" stroke="none" stroke-width="3.2"/>
<rect x="539.99" y="1489.5" width="4.4" height="23.98" fill="#ff0000" stroke="none" stroke-width="3.2"/>
<rect x="564.43" y="1489.5" width="4.4" height="23.98" fill="#ff0000" stroke="none" stroke-width="3.2"/>
<rect x="588.88" y="1489.5" width="4.4" height="23.98" fill="#ff0000" stroke="none" stroke-width="3.2"/>
<rect x="613.32" y="1489.5" width="4.4" height="23.98" fill="#ff0000" stroke="none" stroke-width="3.2"/>
<rect x="637.76" y="1489.5" width="4.4" height="23.98" fill="#ff0000" stroke="none" stroke-width="3.2"/>
<rect x="662.21" y="1489.5" width="4.4" height="23.98" fill="#ff0000" stroke="none" stroke-width="3.2"/>
<rect x="686.65" y="1489.5" width="4.4" height="23.98" fill="#ff0000" stroke="none" stroke-width="3.2"/>
<rect x="711.1" y="1489.5" width="4.4" height="23.98" fill="#ff0000" stroke="none" stroke-width="3.2"/>
<rect x="735.55" y="1489.5" width="4.4" height="23.98" fill="#ff0000" stroke="none" stroke-width="3.2"/>
<rect x="759.99" y="1489.5" width="4.4" height="23.98" fill="#ff0000" stroke="none" stroke-width="3.2"/>
<rect x="784.43" y="1489.5" width="4.4" height="23.98" fill="#ff0000" stroke="none" stroke-width="3.2"/>
<rect x="808.88" y="1489.5" width="4.4" height="23.98" fill="#ff0000" stroke="none" stroke-width="3.2"/>
<rect x="833.33" y="1489.5" width="4.4" height="23.98" fill="#ff0000" stroke="none" stroke-width="3.2"/>
<rect x="857.77" y="1489.5" width="4.4" height="23.98" fill="#ff0000" stroke="none" stroke-width="3.2"/>
<rect x="882.21" y="1489.5" width="4.4" height="23.98" fill="#ff0000" stroke="none" stroke-width="3.2"/>
<rect x="906.66" y="1489.5" width="4.4" height="23.98" fill="#ff0000" stroke="none" stroke-width="3.2"/>
<rect x="186.86" y="1489.5" width="4.3" height="23.98" fill="#0000ff" stroke="none" stroke-width="3.2"/>
<rect x="211.31" y="1489.5" width="4.3" height="23.98" fill="#0000ff" stroke="none" stroke-width="3.2"/>
<rect x="235.75" y="1489.5" width="4.3" height="23.98" fill="#0000ff" stroke="none" stroke-width="3.2"/>
<rect x="260.19" y="1489.5" width="4.3" height="23.98" fill="#0000ff" stroke="none" stroke-width="3.2"/>
<rect x="284.64" y="1489.5" width="4.3" height="23.98" fill="#0000ff" stroke="none" stroke-width="3.2"/>
<rect x="309.09" y="1489.5" width="4.3" height="23.98" fill="#0000ff" stroke="none" stroke-width="3.2"/>
<rect x="333.53" y="1489.5" width="4.3" height="23.98" fill="#0000ff" stroke="none" stroke-width="3.2"/>
<rect x="357.98" y="1489.5" width="4.3" height="23.98" fill="#0000ff" stroke="none" stroke-width="3.2"/>
<rect x="382.42" y="1489.5" width="4.3" height="23.98" fill="#0000ff" stroke="none" stroke-width="3.2"/>
<rect x="406.87" y="1489.5" width="4.3" height="23.98" fill="#0000ff" stroke="none" stroke-width="3.2"/>
<rect x="431.31" y="1489.5" width="4.3" height="23.98" fill="#0000ff" stroke="none" stroke-width="3.2"/>
<rect x="455.75" y="1489.5" width="4.3" height="23.98" fill="#0000ff" stroke="none" stroke-width="3.2"/>
<rect x="480.2" y="1489.5" width="4.3" height="23.98" fill="#0000ff" stroke="none" stroke-width="3.2"/>
<rect x="504.64" y="1489.5" width="4.3" height="23.98" fill="#0000ff" stroke="none" stroke-width="3.2"/>
<rect x="529.09" y="1489.5" width="4.3" height="23.98" fill="#0000ff" stroke="none" stroke-width="3.2"/>
<rect x="553.54" y="1489.5" width="4.3" height="23.98" fill="#0000ff" stroke="none" stroke-width="3.2"/>
<rect x="577.98" y="1489.5" width="4.3" height="23.98" fill="#0000ff" stroke="none" stroke-width="3.2"/>
<rect x="602.42" y="1489.5" width="4.3" height="23.98" fill="#0000ff" stroke="none" stroke-width="3.2"/>
<rect x="626.87" y="1489.5" width="4.3" height="23.98" fill="#0000ff" stroke="none" stroke-width="3.2"/>
<rect x="651.32" y="1489.5" width="4.3" height="23.98" fill="#0000ff" stroke="none" stroke-width="3.2"/>
<rect x="675.76" y="1489.5" width="4.3" height="23.98" fill="#0000ff" stroke="none" stroke-width="3.2"/>
<rect x="700.2" y="1489.5" width="4.3" height="23.98" fill="#0000ff" stroke="none" stroke-width="3.2"/>
<rect x="724.65" y="1489.5" width="4.3" height="23.98" fill="#0000ff" stroke="none" stroke-width="3.2"/>
<rect x="749.1" y="1489.5" width="4.3" height="23.98" fill="#0000ff" stroke="none" stroke-width="3.2"/>
<rect x="773.54" y="1489.5" width="4.3" height="23.98" fill="#0000ff" stroke="none" stroke-width="3.2"/>
<rect x="797.99" y="1489.5" width="4.3" height="23.98" fill="#0000ff" stroke="none" stroke-width="3.2"/>
<rect x="822.43" y="1489.5" width="4.3" height="23.98" fill="#0000ff" stroke="none" stroke-width="3.2"/>
<rect x="846.88" y="1489.5" width="4.3" height="23.98" fill="#0000ff" stroke="none" stroke-width="3.2"/>
<rect x="871.32" y="1489.5" width="4.3" height="23.98" fill="#0000ff" stroke="none" stroke-width="3.2"/>
<rect x="895.76" y="1489.5" width="4.3" height="23.98" fill="#0000ff" stroke="none" stroke-width="3.2"/>
<rect x="920.21" y="1489.5" width="4.3" height="23.98" fill="#0000ff" stroke="none" stroke-width="3.2"/>
<rect x="193.31" y="1465.72" width="4.4" height="23.98" fill="#ff0000" stroke="none" stroke-width="3.2"/>
<rect x="217.75" y="1465.72" width="4.4" height="23.98" fill="#ff0000" stroke="none" stroke-width="3.2"/>
<rect x="242.19" y="1465.72" width="4.4" height="23.98" fill="#ff0000" stroke="none" stroke-width="3.2"/>
<rect x="266.64" y="1465.72" width="4.4" height="23.98" fill="#ff0000" stroke="none" stroke-width="3.2"/>
<rect x="291.09" y="1465.72" width="4.4" height="23.98" fill="#ff0000" stroke="none" stroke-width="3.2"/>
<rect x="315.53" y="1465.72" width="4.4" height="23.98" fill="#ff0000" stroke="none" stroke-width="3.2"/>
<rect x="339.98" y="1465.72" width="4.4" height="23.98" fill="#ff0000" stroke="none" stroke-width="3.2"/>
<rect x="364.42" y="1465.72" width="4.4" height="23.98" fill="#ff0000" stroke="none" stroke-width="3.2"/>
<rect x="388.87" y="1465.72" width="4.4" height="23.98" fill="#ff0000" stroke="none" stroke-width="3.2"/>
<rect x="413.31" y="1465.72" width="4.4" height="23.98" fill="#ff0000" stroke="none" stroke-width="3.2"/>
<rect x="437.75" y="1465.72" width="4.4" height="23.98" fill="#ff0000" stroke="none" stroke-width="3.2"/>
<rect x="462.2" y="1465.72" width="4.4" height="23.98" fill="#ff0000" stroke="none" stroke-width="3.2"/>
<rect x="486.64" y="1465.72" width="4.4" height="23.98" fill="#ff0000" stroke="none" stroke-width="3.2"/>
<rect x="511.09" y="1465.72" width="4.4" height="23.98" fill="#ff0000" stroke="none" stroke-width="3.2"/>
<rect x="535.54" y="1465.72" width="4.4" height="23.98" fill="#ff0000" stroke="none" stroke-width="3.2"/>
<rect x="559.98" y="1465.72" width="4.4" height="23.98" fill="#ff0000" stroke="none" stroke-width="3.2"/>
<rect x="584.42" y="1465.72" width="4.4" height="23.98" fill="#ff0000" stroke="none" stroke-width="3.2"/>
<rect x="608.87" y="1465.72" width="4.4" height="23.98" fill="#ff0000" stroke="none" stroke-width="3.2"/>
<rect x="633.32" y="1465.72" width="4.4" height="23.98" fill="#ff0000" stroke="none" stroke-width="3.2"/>
<rect x="657.76" y="1465.72" width="4.4" height="23.98" fill="#ff0000" stroke="none" stroke-width="3.2"/>
<rect x="682.2" y="1465.72" width="4.4" height="23.98" fill="#ff0000" stroke="none" stroke-width="3.2"/>
<rect x="706.65" y="1465.72" width="4.4" height="23.98" fill="#ff0000" stroke="none" stroke-width="3.2"/>
<rect x="731.1" y="1465.72" width="4.4" height="23.98" fill="#ff0000" stroke="none" stroke-width="3.2"/>
<rect x="755.54" y="1465.72" width="4.4" height="23.98" fill="#ff0000" stroke="none" stroke-width="3.2"/>
<rect x="779.99" y="1465.72" width="4.4" height="23.98" fill="#ff0000" stroke="none" stroke-width="3.2"/>
<rect x="804.43" y="1465.72" width="4.4" height="23.98" fill="#ff0000" stroke="none" stroke-width="3.2"/>
<rect x="828.88" y="1465.72" width="4.4" height="23.98" fill="#ff0000" stroke="none" stroke-width="3.2"/>
<rect x="853.32" y="1465.72" width="4.4" height="23.98" fill="#ff0000" stroke="none" stroke-width="3.2"/>
<rect x="877.76" y="1465.72" width="4.4" height="23.98" fill="#ff0000" stroke="none" stroke-width="3.2"/>
<rect x="902.21" y="1465.72" width="4.4" height="23.98" fill="#ff0000" stroke="none" stroke-width="3.2"/>
<rect x="182.41" y="1465.72" width="4.3" height="23.98" fill="#0000ff" stroke="none" stroke-width="3.2"/>
<rect x="206.85" y="1465.72" width="4.3" height="23.98" fill="#0000ff" stroke="none" stroke-width="3.2"/>
<rect x="231.3" y="1465.72" width="4.3" height="23.98" fill="#0000ff" stroke="none" stroke-width="3.2"/>
<rect x="255.74" y="1465.72" width="4.3" height="23.98" fill="#0000ff" stroke="none" stroke-width="3.2"/>
<rect x="280.19" y="1465.72" width="4.3" height="23.98" fill="#0000ff" stroke="none" stroke-width="3.2"/>
<rect x="304.63" y="1465.72" width="4.3" height="23.98" fill="#0000ff" stroke="none" stroke-width="3.2"/>
<rect x="329.08" y="1465.72" width="4.3" height="23.98" fill="#0000ff" stroke="none" stroke-width="3.2"/>
<rect x="353.52" y="1465.72" width="4.3" height="23.98" fill="#0000ff" stroke="none" stroke-width="3.2"/>
<rect x="377.97" y="1465.72" width="4.3" height="23.98" fill="#0000ff" stroke="none" stroke-width="3.2"/>
<rect x="402.41" y="1465.72" width="4.3" height="23.98" fill="#0000ff" stroke="none" stroke-width="3.2"/>
<rect x="426.86" y="1465.72" width="4.3" height="23.98" fill="#0000ff" stroke="none" stroke-width="3.2"/>
<rect x="451.3" y="1465.72" width="4.3" height="23.98" fill="#0000ff" stroke="none" stroke-width="3.2"/>
<rect x="475.75" y="1465.72" width="4.3" height="23.98" fill="#0000ff" stroke="none" stroke-width="3.2"/>
<rect x="500.19" y="1465.72" width="4.3" height="23.98" fill="#0000ff" stroke="none" stroke-width="3.2"/>
<rect x="524.64" y="1465.72" width="4.3" height="23.98" fill="#0000ff" stroke="none" stroke-width="3.2"/>
<rect x="549.09" y="1465.72" width="4.3" height="23.98" fill="#0000ff" stroke="none" stroke-width="3.2"/>
<rect x="573.53" y="1465.72" width="4.3" height="23.98" fill="#0000ff" stroke="none" stroke-width="3.2"/>
<rect x="597.98" y="1465.72" width="4.3" height="23.98" fill="#0000ff" stroke="none" stroke-width="3.2"/>
<rect x="622.42" y="1465.72" width="4.3" height="23.98" fill="#0000ff" stroke="none" stroke-width="3.2"/>
<rect x="646.87" y="1465.72" width="4.3" height="23.98" fill="#0000ff" stroke="none" stroke-width="3.2"/>
<rect x="671.31" y="1465.72" width="4.3" height="23.98" fill="#0000ff" stroke="none" stroke-width="3.2"/>
<rect x="695.75" y="1465.72" width="4.3" height="23.98" fill="#0000ff" stroke="none" stroke-width="3.2"/>
<rect x="720.2" y="1465.72" width="4.3" height="23.98" fill="#0000ff" stroke="none" stroke-width="3.2"/>
<rect x="744.64" y="1465.72" width="4.3" height="23.98" fill="#0000ff" stroke="none" stroke-width="3.2"/>
<rect x="769.09" y="1465.72" width="4.3" height="23.98" fill="#0000ff" stroke="none" stroke-width="3.2"/>
<rect x="793.53" y="1465.72" width="4.3" height="23.98" fill="#0000ff" stroke="none" stroke-width="3.2"/>
<rect x="817.98" y="1465.72" width="4.3" height="23.98" fill="#0000ff" stroke="none" stroke-width="3.2"/>
<rect x="842.42" y="1465.72" width="4.3" height="23.98" fill="#0000ff" stroke="none" stroke-width="3.2"/>
<rect x="866.87" y="1465.72" width="4.3" height="23.98" fill="#0000ff" stroke="none" stroke-width="3.2"/>
<rect x="891.31" y="1465.72" width="4.3" height="23.98" fill="#0000ff" stroke="none" stroke-width="3.2"/>
<rect x="915.76" y="1465.72" width="4.3" height="23.98" fill="#0000ff" stroke="none" stroke-width="3.2"/>
<rect x="188.85" y="1441.94" width="4.4" height="23.98" fill="#ff0000" stroke="none" stroke-width="3.2"/>
<rect x="213.3" y="1441.94" width="4.4" height="23.98" fill="#ff0000" stroke="none" stroke-width="3.2"/>
<rect x="237.74" y="1441.94" width="4.4" height="23.98" fill="#ff0000" stroke="none" stroke-width="3.2"/>
<rect x="262.19" y="1441.94" width="4.4" height="23.98" fill="#ff0000" stroke="none" stroke-width="3.2"/>
<rect x="286.63" y="1441.94" width="4.4" height="23.98" fill="#ff0000" stroke="none" stroke-width="3.2"/>
<rect x="311.08" y="1441.94" width="4.4" height="23.98" fill="#ff0000" stroke="none" stroke-width="3.2"/>
<rect x="335.52" y="1441.94" width="4.4" height="23.98" fill="#ff0000" stroke="none" stroke-width="3.2"/>
<rect x="359.97" y="1441.94" width="4.4" height="23.98" fill="#ff0000" stroke="none" stroke-width="3.2"/>
<rect x="384.41" y="1441.94" width="4.4" height="23.98" fill="#ff0000" stroke="none" stroke-width="3.2"/>
<rect x="408.86" y="1441.94" width="4.4" height="23.98" fill="#ff0000" stroke="none" stroke-width="3.2"/>
<rect x="433.3" y="1441.94" width="4.4" height="23.98" fill="#ff0000" stroke="none" stroke-width="3.2"/>
<rect x="457.75" y="1441.94" width="4.4" height="23.98" fill="#ff0000" stroke="none" stroke-width="3.2"/>
<rect x="482.19" y="1441.94" width="4.4" height="23.98" fill="#ff0000" stroke="none" stroke-width="3.2"/>
<rect x="506.64" y="1441.94" width="4.4" height="23.98" fill="#ff0000" stroke="none" stroke-width="3.2"/>
<rect x="531.09" y="1441.94" width="4.4" height="23.98" fill="#ff0000" stroke="none" stroke-width="3.2"/>
<rect x="555.53" y="1441.94" width="4.4" height="23.98" fill="#ff0000" stroke="none" stroke-width="3.2"/>
<rect x="579.98" y="1441.94" width="4.4" height="23.98" fill="#ff0000" stroke="none" stroke-width="3.2"/>
<rect x="604.42" y="1441.94" width="4.4" height="23.98" fill="#ff0000" stroke="none" stroke-width="3.2"/>
<rect x="628.87" y="1441.94" width="4.4" height="23.98" fill="#ff0000" stroke="none" stroke-width="3.2"/>
<rect x="653.31" y="1441.94" width="4.4" height="23.98" fill="#ff0000" stroke="none" stroke-width="3.2"/>
<rect x="677.75" y="1441.94" width="4.4" height="23.98" fill="#ff0000" stroke="none" stroke-width="3.2"/>
<rect x="702.2" y="1441.94" width="4.4" height="23.98" fill="#ff0000" stroke="none" stroke-width="3.2"/>
<rect x="726.64" y="1441.94" width="4.4" height="23.98" fill="#ff0000" stroke="none" stroke-width="3.2"/>
<rect x="751.09" y="1441.94" width="4.4" height="23.98" fill="#ff0000" stroke="none" stroke-width="3.2"/>
<rect x="775.53" y="1441.94" width="4.4" height="23.98" fill="#ff0000" stroke="none" stroke-width="3.2"/>
<rect x="799.98" y="1441.94" width="4.4" height="23.98" fill="#ff0000" stroke="none" stroke-width="3.2"/>
<rect x="824.42" y="1441.94" width="4.4" height="23.98" fill="#ff0000" stroke="none" stroke-width="3.2"/>
<rect x="848.87" y="1441.94" width="4.4" height="23.98" fill="#ff0000" stroke="none" stroke-width="3.2"/>
<rect x="873.31" y="1441.94" width="4.4" height="23.98" fill="#ff0000" stroke="none" stroke-width="3.2"/>
<rect x="897.76" y="1441.94" width="4.4" height="23.98" fill="#ff0000" stroke="none" stroke-width="3.2"/>
<rect x="922.2" y="1441.94" width="4.4" height="23.98" fill="#ff0000" stroke="none" stroke-width="3.2"/>
<rect x="177.96" y="1441.94" width="4.3" height="23.98" fill="#0000ff" stroke="none" stroke-width="3.2"/>
<rect x="202.41" y="1441.94" width="4.3" height="23.98" fill="#0000ff" stroke="none" stroke-width="3.2"/>
<rect x="226.85" y="1441.94" width="4.3" height="23.98" fill="#0000ff" stroke="none" stroke-width="3.2"/>
<rect x="251.29" y="1441.94" width="4.3" height="23.98" fill="#0000ff" stroke="none" stroke-width="3.2"/>
<rect x="275.74" y="1441.94" width="4.3" height="23.98" fill="#0000ff" stroke="none" stroke-width="3.2"/>
<rect x="300.19" y="1441.94" width="4.3" height="23.98" fill="#0000ff" stroke="none" stroke-width="3.2"/>
<rect x="324.63" y="1441.94" width="4.3" height="23.98" fill="#0000ff" stroke="none" stroke-width="3.2"/>
<rect x="349.07" y="1441.94" width="4.3" height="23.98" fill="#0000ff" stroke="none" stroke-width="3.2"/>
<rect x="373.52" y="1441.94" width="4.3" height="23.98" fill="#0000ff" stroke="none" stroke-width="3.2"/>
<rect x="397.97" y="1441.94" width="4.3" height="23.98" fill="#0000ff" stroke="none" stroke-width="3.2"/>
<rect x="422.41" y="1441.94" width="4.3" height="23.98" fill="#0000ff" stroke="none" stroke-width="3.2"/>
<rect x="446.86" y="1441.94" width="4.3" height="23.98" fill="#0000ff" stroke="none" stroke-width="3.2"/>
<rect x="471.3" y="1441.94" width="4.3" height="23.98" fill="#0000ff" stroke="none" stroke-width="3.2"/>
<rect x="495.75" y="1441.94" width="4.3" height="23.98" fill="#0000ff" stroke="none" stroke-width="3.2"/>
<rect x="520.19" y="1441.94" width="4.3" height="23.98" fill="#0000ff" stroke="none" stroke-width="3.2"/>
<rect x="544.63" y="1441.94" width="4.3" height="23.98" fill="#0000ff" stroke="none" stroke-width="3.2"/>
<rect x="569.08" y="1441.94" width="4.3" height="23.98" fill="#0000ff" stroke="none" stroke-width="3.2"/>
<rect x="593.52" y="1441.94" width="4.3" height="23.98" fill="#0000ff" stroke="none" stroke-width="3.2"/>
<rect x="617.97" y="1441.94" width="4.3" height="23.98" fill="#0000ff" stroke="none" stroke-width="3.2"/>
<rect x="642.41" y="1441.94" width="4.3" height="23.98" fill="#0000ff" stroke="none" stroke-width="3.2"/>
<rect x="666.86" y="1441.94" width="4.3" height="23.98" fill="#0000ff" stroke="none" stroke-width="3.2"/>
<rect x="691.3" y="1441.94" width="4.3" height="23.98" fill="#0000ff" stroke="none" stroke-width="3.2"/>
<rect x="715.75" y="1441.94" width="4.3" height="23.98" fill="#0000ff" stroke="none" stroke-width="3.2"/>
<rect x="740.2" y="1441.94" width="4.3" height="23.98" fill="#0000ff" stroke="none" stroke-width="3.2"/>
<rect x="764.64" y="1441.94" width="4.3" height="23.98" fill="#0000ff" stroke="none" stroke-width="3.2"/>
<rect x="789.09" y="1441.94" width="4.3" height="23.98" fill="#0000ff" stroke="none" stroke-width="3.2"/>
<rect x="813.53" y="1441.94" width="4.3" height="23.98" fill="#0000ff" stroke="none" stroke-width="3.2"/>
<rect x="837.98" y="1441.94" width="4.3" height="23.98" fill="#0000ff" stroke="none" stroke-width="3.2"/>
<rect x="862.42" y="1441.94" width="4.3" height="23.98" fill="#0000ff" stroke="none" stroke-width="3.2"/>
<rect x="886.87" y="1441.94" width="4.3" height="23.98" fill="#0000ff" stroke="none" stroke-width="3.2"/>
<rect x="911.31" y="1441.94" width="4.3" height="23.98" fill="#0000ff" stroke="none" stroke-width="3.2"/>
<rect x="184.41" y="1418.16" width="4.4" height="23.98" fill="#ff0000" stroke="none" stroke-width="3.2"/>
<rect x="208.85" y="1418.16" width="4.4" height="23.98" fill="#ff0000" stroke="none" stroke-width="3.2"/>
<rect x="233.29" y="1418.16" width="4.4" height="23.98" fill="#ff0000" stroke="none" stroke-width="3.2"/>
<rect x="257.74" y="1418.16" width="4.4" height="23.98" fill="#ff0000" stroke="none" stroke-width="3.2"/>
<rect x="282.19" y="1418.16" width="4.4" height="23.98" fill="#ff0000" stroke="none" stroke-width="3.2"/>
<rect x="306.63" y="1418.16" width="4.4" height="23.98" fill="#ff0000" stroke="none" stroke-width="3.2"/>
<rect x="331.07" y="1418.16" width="4.4" height="23.98" fill="#ff0000" stroke="none" stroke-width="3.2"/>
<rect x="355.52" y="1418.16" width="4.4" height="23.98" fill="#ff0000" stroke="none" stroke-width="3.2"/>
<rect x="379.97" y="1418.16" width="4.4" height="23.98" fill="#ff0000" stroke="none" stroke-width="3.2"/>
<rect x="404.41" y="1418.16" width="4.4" height="23.98" fill="#ff0000" stroke="none" stroke-width="3.2"/>
<rect x="428.86" y="1418.16" width="4.4" height="23.98" fill="#ff0000" stroke="none" stroke-width="3.2"/>
<rect x="453.3" y="1418.16" width="4.4" height="23.98" fill="#ff0000" stroke="none" stroke-width="3.2"/>
<rect x="477.75" y="1418.16" width="4.4" height="23.98" fill="#ff0000" stroke="none" stroke-width="3.2"/>
<rect x="502.19" y="1418.16" width="4.4" height="23.98" fill="#ff0000" stroke="none" stroke-width="3.2"/>
<rect x="526.63" y="1418.16" width="4.4" height="23.98" fill="#ff0000" stroke="none" stroke-width="3.2"/>
<rect x="551.08" y="1418.16" width="4.4" height="23.98" fill="#ff0000" stroke="none" stroke-width="3.2"/>
<rect x="575.52" y="1418.16" width="4.4" height="23.98" fill="#ff0000" stroke="none" stroke-width="3.2"/>
<rect x="599.97" y="1418.16" width="4.4" height="23.98" fill="#ff0000" stroke="none" stroke-width="3.2"/>
<rect x="624.41" y="1418.16" width="4.4" height="23.98" fill="#ff0000" stroke="none" stroke-width="3.2"/>
<rect x="648.86" y="1418.16" width="4.4" height="23.98" fill="#ff0000" stroke="none" stroke-width="3.2"/>
<rect x="673.3" y="1418.16" width="4.4" height="23.98" fill="#ff0000" stroke="none" stroke-width="3.2"/>
<rect x="697.75" y="1418.16" width="4.4" height="23.98" fill="#ff0000" stroke="none" stroke-width="3.2"/>
<rect x="722.2" y="1418.16" width="4.4" height="23.98" fill="#ff0000" stroke="none" stroke-width="3.2"/>
<rect x="746.64" y="1418.16" width="4.4" height="23.98" fill="#ff0000" stroke="none" stroke-width="3.2"/>
<rect x="771.09" y="1418.16" width="4.4" height="23.98" fill="#ff0000" stroke="none" stroke-width="3.2"/>
<rect x="795.53" y="1418.16" width="4.4" height="23.98" fill="#ff0000" stroke="none" stroke-width="3.2"/>
<rect x="819.98" y="1418.16" width="4.4" height="23.98" fill="#ff0000" stroke="none" stroke-width="3.2"/>
<rect x="844.42" y="1418.16" width="4.4" height="23.98" fill="#ff0000" stroke="none" stroke-width="3.2"/>
<rect x="868.87" y="1418.16" width="4.4" height="23.98" fill="#ff0000" stroke="none" stroke-width="3.2"/>
<rect x="893.31" y="1418.16" width="4.4" height="23.98" fill="#ff0000" stroke="none" stroke-width="3.2"/>
<rect x="917.75" y="1418.16" width="4.4" height="23.98" fill="#ff0000" stroke="none" stroke-width="3.2"/>
<rect x="173.51" y="1418.16" width="4.3" height="23.98" fill="#0000ff" stroke="none" stroke-width="3.2"/>
<rect x="197.95" y="1418.16" width="4.3" height="23.98" fill="#0000ff" stroke="none" stroke-width="3.2"/>
<rect x="222.4" y="1418.16" width="4.3" height="23.98" fill="#0000ff" stroke="none" stroke-width="3.2"/>
<rect x="246.84" y="1418.16" width="4.3" height="23.98" fill="#0000ff" stroke="none" stroke-width="3.2"/>
<rect x="271.29" y="1418.16" width="4.3" height="23.98" fill="#0000ff" stroke="none" stroke-width="3.2"/>
<rect x="295.74" y="1418.16" width="4.3" height="23.98" fill="#0000ff" stroke="none" stroke-width="3.2"/>
<rect x="320.18" y="1418.16" width="4.3" height="23.98" fill="#0000ff" stroke="none" stroke-width="3.2"/>
<rect x="344.62" y="1418.16" width="4.3" height="23.98" fill="#0000ff" stroke="none" stroke-width="3.2"/>
<rect x="369.07" y="1418.16" width="4.3" height="23.98" fill="#0000ff" stroke="none" stroke-width="3.2"/>
<rect x="393.51" y="1418.16" width="4.3" height="23.98" fill="#0000ff" stroke="none" stroke-width="3.2"/>
<rect x="417.96" y="1418.16" width="4.3" height="23.98" fill="#0000ff" stroke="none" stroke-width="3.2"/>
<rect x="442.4" y="1418.16" width="4.3" height="23.98" fill="#0000ff" stroke="none" stroke-width="3.2"/>
<rect x="466.85" y="1418.16" width="4.3" height="23.98" fill="#0000ff" stroke="none" stroke-width="3.2"/>
<rect x="491.29" y="1418.16" width="4.3" height="23.98" fill="#0000ff" stroke="none" stroke-width="3.2"/>
<rect x="515.74" y="1418.16" width="4.3" height="23.98" fill="#0000ff" stroke="none" stroke-width="3.2"/>
<rect x="540.18" y="1418.16" width="4.3" height="23.98" fill="#0000ff" stroke="none" stroke-width="3.2"/>
<rect x="564.63" y="1418.16" width="4.3" height="23.98" fill="#0000ff" stroke="none" stroke-width="3.2"/>
<rect x="589.08" y="1418.16" width="4.3" height="23.98" fill="#0000ff" stroke="none" stroke-width="3.2"/>
<rect x="613.52" y="1418.16" width="4.3" height="23.98" fill="#0000ff" stroke="none" stroke-width="3.2"/>
<rect x="637.96" y="1418.16" width="4.3" height="23.98" fill="#0000ff" stroke="none" stroke-width="3.2"/>
<rect x="662.41" y="1418.16" width="4.3" height="23.98" fill="#0000ff" stroke="none" stroke-width="3.2"/>
<rect x="686.86" y="1418.16" width="4.3" height="23.98" fill="#0000ff" stroke="none" stroke-width="3.2"/>
<rect x="711.3" y="1418.16" width="4.3" height="23.98" fill="#0000ff" stroke="none" stroke-width="3.2"/>
<rect x="735.75" y="1418.16" width="4.3" height="23.98" fill="#0000ff" stroke="none" stroke-width="3.2"/>
<rect x="760.19" y="1418.16" width="4.3" height="23.98" fill="#0000ff" stroke="none" stroke-width="3.2"/>
<rect x="784.63" y="1418.16" width="4.3" height="23.98" fill="#0000ff" stroke="none" stroke-width="3.2"/>
<rect x="809.08" y="1418.16" width="4.3" height="23.98" fill="#0000ff" stroke="none" stroke-width="3.2"/>
<rect x="833.52" y="1418.16" width="4.3" height="23.98" fill="#0000ff" stroke="none" stroke-width="3.2"/>
<rect x="857.97" y="1418.16" width="4.3" height="23.98" fill="#0000ff" stroke="none" stroke-width="3.2"/>
<rect x="882.41" y="1418.16" width="4.3" height="23.98" fill="#0000ff" stroke="none" stroke-width="3.2"/>
<rect x="906.86" y="1418.16" width="4.3" height="23.98" fill="#0000ff" stroke="none" stroke-width="3.2"/>
<rect x="179.95" y="1394.38" width="4.4" height="23.98" fill="#ff0000" stroke="none" stroke-width="3.2"/>
<rect x="204.4" y="1394.38" width="4.4" height="23.98" fill="#ff0000" stroke="none" stroke-width="3.2"/>
<rect x="228.84" y="1394.38" width="4.4" height="23.98" fill="#ff0000" stroke="none" stroke-width="3.2"/>
<rect x="253.29" y="1394.38" width="4.4" height="23.98" fill="#ff0000" stroke="none" stroke-width="3.2"/>
<rect x="277.74" y="1394.38" width="4.4" height="23.98" fill="#ff0000" stroke="none" stroke-width="3.2"/>
<rect x="302.18" y="1394.38" width="4.4" height="23.98" fill="#ff0000" stroke="none" stroke-width="3.2"/>
<rect x="326.62" y="1394.38" width="4.4" height="23.98" fill="#ff0000" stroke="none" stroke-width="3.2"/>
<rect x="351.07" y="1394.38" width="4.4" height="23.98" fill="#ff0000" stroke="none" stroke-width="3.2"/>
<rect x="375.51" y="1394.38" width="4.4" height="23.98" fill="#ff0000" stroke="none" stroke-width="3.2"/>
<rect x="399.96" y="1394.38" width="4.4" height="23.98" fill="#ff0000" stroke="none" stroke-width="3.2"/>
<rect x="424.4" y="1394.38" width="4.4" height="23.98" fill="#ff0000" stroke="none" stroke-width="3.2"/>
<rect x="448.85" y="1394.38" width="4.4" height="23.98" fill="#ff0000" stroke="none" stroke-width="3.2"/>
<rect x="473.29" y="1394.38" width="4.4" height="23.98" fill="#ff0000" stroke="none" stroke-width="3.2"/>
<rect x="497.74" y="1394.38" width="4.4" height="23.98" fill="#ff0000" stroke="none" stroke-width="3.2"/>
<rect x="522.18" y="1394.38" width="4.4" height="23.98" fill="#ff0000" stroke="none" stroke-width="3.2"/>
<rect x="546.63" y="1394.38" width="4.4" height="23.98" fill="#ff0000" stroke="none" stroke-width="3.2"/>
<rect x="571.08" y="1394.38" width="4.4" height="23.98" fill="#ff0000" stroke="none" stroke-width="3.2"/>
<rect x="595.52" y="1394.38" width="4.4" height="23.98" fill="#ff0000" stroke="none" stroke-width="3.2"/>
<rect x="619.96" y="1394.38" width="4.4" height="23.98" fill="#ff0000" stroke="none" stroke-width="3.2"/>
<rect x="644.41" y="1394.38" width="4.4" height="23.98" fill="#ff0000" stroke="none" stroke-width="3.2"/>
<rect x="668.86" y="1394.38" width="4.4" height="23.98" fill="#ff0000" stroke="none" stroke-width="3.2"/>
<rect x="693.3" y="1394.38" width="4.4" height="23.98" fill="#ff0000" stroke="none" stroke-width="3.2"/>
<rect x="717.75" y="1394.38" width="4.4" height="23.98" fill="#ff0000" stroke="none" stroke-width="3.2"/>
<rect x="742.19" y="1394.38" width="4.4" height="23.98" fill="#ff0000" stroke="none" stroke-width="3.2"/>
<rect x="766.63" y="1394.38" width="4.4" height="23.98" fill="#ff0000" stroke="none" stroke-width="3.2"/>
<rect x="791.08" y="1394.38" width="4.4" height="23.98" fill="#ff0000" stroke="none" stroke-width="3.2"/>
<rect x="815.52" y="1394.38" width="4.4" height="23.98" fill="#ff0000" stroke="none" stroke-width="3.2"/>
<rect x="839.97" y="1394.38" width="4.4" height="23.98" fill="#ff0000" stroke="none" stroke-width="3.2"/>
<rect x="864.41" y="1394.38" width="4.4" height="23.98" fill="#ff0000" stroke="none" stroke-width="3.2"/>
<rect x="888.86" y="1394.38" width="4.4" height="23.98" fill="#ff0000" stroke="none" stroke-width="3.2"/>
<rect x="913.3" y="1394.38" width="4.4" height="23.98" fill="#ff0000" stroke="none" stroke-width="3.2"/>
<rect x="193.5" y="1394.38" width="4.3" height="23.98" fill="#0000ff" stroke="none" stroke-width="3.2"/>
<rect x="217.95" y="1394.38" width="4.3" height="23.98" fill="#0000ff" stroke="none" stroke-width="3.2"/>
<rect x="242.39" y="1394.38" width="4.3" height="23.98" fill="#0000ff" stroke="none" stroke-width="3.2"/>
<rect x="266.84" y="1394.38" width="4.3" height="23.98" fill="#0000ff" stroke="none" stroke-width="3.2"/>
<rect x="291.28" y="1394.38" width="4.3" height="23.98" fill="#0000ff" stroke="none" stroke-width="3.2"/>
<rect x="315.73" y="1394.38" width="4.3" height="23.98" fill="#0000ff" stroke="none" stroke-width="3.2"/>
<rect x="340.17" y="1394.38" width="4.3" height="23.98" fill="#0000ff" stroke="none" stroke-width="3.2"/>
<rect x="364.62" y="1394.38" width="4.3" height="23.98" fill="#0000ff" stroke="none" stroke-width="3.2"/>
<rect x="389.06" y="1394.38" width="4.3" height="23.98" fill="#0000ff" stroke="none" stroke-width="3.2"/>
<rect x="413.51" y="1394.38" width="4.3" height="23.98" fill="#0000ff" stroke="none" stroke-width="3.2"/>
<rect x="437.95" y="1394.38" width="4.3" height="23.98" fill="#0000ff" stroke="none" stroke-width="3.2"/>
<rect x="462.4" y="1394.38" width="4.3" height="23.98" fill="#0000ff" stroke="none" stroke-width="3.2"/>
<rect x="486.84" y="1394.38" width="4.3" height="23.98" fill="#0000ff" stroke="none" stroke-width="3.2"/>
<rect x="511.29" y="1394.38" width="4.3" height="23.98" fill="#0000ff" stroke="none" stroke-width="3.2"/>
<rect x="535.74" y="1394.38" width="4.3" height="23.98" fill="#0000ff" stroke="none" stroke-width="3.2"/>
<rect x="560.18" y="1394.38" width="4.3" height="23.98" fill="#0000ff" stroke="none" stroke-width="3.2"/>
<rect x="584.62" y="1394.38" width="4.3" height="23.98" fill="#0000ff" stroke="none" stroke-width="3.2"/>
<rect x="609.07" y="1394.38" width="4.3" height="23.98" fill="#0000ff" stroke="none" stroke-width="3.2"/>
<rect x="633.51" y="1394.38" width="4.3" height="23.98" fill="#0000ff" stroke="none" stroke-width="3.2"/>
<rect x="657.96" y="1394.38" width="4.3" height="23.98" fill="#0000ff" stroke="none" stroke-width="3.2"/>
<rect x="682.4" y="1394.38" width="4.3" height="23.98" fill="#0000ff" stroke="none" stroke-width="3.2"/>
<rect x="706.85" y="1394.38" width="4.3" height="23.98" fill="#0000ff" stroke="none" stroke-width="3.2"/>
<rect x="731.3" y="1394.38" width="4.3" height="23.98" fill="#0000ff" stroke="none" stroke-width="3.2"/>
<rect x="755.74" y="1394.38" width="4.3" height="23.98" fill="#0000ff" stroke="none" stroke-width="3.2"/>
<rect x="780.18" y="1394.38" width="4.3" height="23.98" fill="#0000ff" stroke="none" stroke-width="3.2"/>
<rect x="804.63" y="1394.38" width="4.3" height="23.98" fill="#0000ff" stroke="none" stroke-width="3.2"/>
<rect x="829.08" y="1394.38" width="4.3" height="23.98" fill="#0000ff" stroke="none" stroke-width="3.2"/>
<rect x="853.52" y="1394.38" width="4.3" height="23.98" fill="#0000ff" stroke="none" stroke-width="3.2"/>
<rect x="877.96" y="1394.38" width="4.3" height="23.98" fill="#0000ff" stroke="none" stroke-width="3.2"/>
<rect x="902.41" y="1394.38" width="4.3" height="23.98" fill="#0000ff" stroke="none" stroke-width="3.2"/>
<rect x="175.5" y="1370.6" width="4.4" height="23.98" fill="#ff0000" stroke="none" stroke-width="3.2"/>
<rect x="199.95" y="1370.6" width="4.4" height="23.98" fill="#ff0000" stroke="none" stroke-width="3.2"/>
<rect x="224.39" y="1370.6" width="4.4" height="23.98" fill="#ff0000" stroke="none" stroke-width="3.2"/>
<rect x="248.84" y="1370.6" width="4.4" height="23.98" fill="#ff0000" stroke="none" stroke-width="3.2"/>
<rect x="273.28" y="1370.6" width="4.4" height="23.98" fill="#ff0000" stroke="none" stroke-width="3.2"/>
<rect x="297.73" y="1370.6" width="4.4" height="23.98" fill="#ff0000" stroke="none" stroke-width="3.2"/>
<rect x="322.17" y="1370.6" width="4.4" height="23.98" fill="#ff0000" stroke="none" stroke-width="3.2"/>
<rect x="346.62" y="1370.6" width="4.4" height="23.98" fill="#ff0000" stroke="none" stroke-width="3.2"/>
<rect x="371.06" y="1370.6" width="4.4" height="23.98" fill="#ff0000" stroke="none" stroke-width="3.2"/>
<rect x="395.51" y="1370.6" width="4.4" height="23.98" fill="#ff0000" stroke="none" stroke-width="3.2"/>
<rect x="419.95" y="1370.6" width="4.4" height="23.98" fill="#ff0000" stroke="none" stroke-width="3.2"/>
<rect x="444.4" y="1370.6" width="4.4" height="23.98" fill="#ff0000" stroke="none" stroke-width="3.2"/>
<rect x="468.84" y="1370.6" width="4.4" height="23.98" fill="#ff0000" stroke="none" stroke-width="3.2"/>
<rect x="493.29" y="1370.6" width="4.4" height="23.98" fill="#ff0000" stroke="none" stroke-width="3.2"/>
<rect x="517.74" y="1370.6" width="4.4" height="23.98" fill="#ff0000" stroke="none" stroke-width="3.2"/>
<rect x="542.18" y="1370.6" width="4.4" height="23.98" fill="#ff0000" stroke="none" stroke-width="3.2"/>
<rect x="566.62" y="1370.6" width="4.4" height="23.98" fill="#ff0000" stroke="none" stroke-width="3.2"/>
<rect x="591.07" y="1370.6" width="4.4" height="23.98" fill="#ff0000" stroke="none" stroke-width="3.2"/>
<rect x="615.51" y="1370.6" width="4.4" height="23.98" fill="#ff0000" stroke="none" stroke-width="3.2"/>
<rect x="639.96" y="1370.6" width="4.4" height="23.98" fill="#ff0000" stroke="none" stroke-width="3.2"/>
<rect x="664.4" y="1370.6" width="4.4" height="23.98" fill="#ff0000" stroke="none" stroke-width="3.2"/>
<rect x="688.85" y="1370.6" width="4.4" height="23.98" fill="#ff0000" stroke="none" stroke-width="3.2"/>
<rect x="713.3" y="1370.6" width="4.4" height="23.98" fill="#ff0000" stroke="none" stroke-width="3.2"/>
<rect x="737.74" y="1370.6" width="4.4" height="23.98" fill="#ff0000" stroke="none" stroke-width="3.2"/>
<rect x="762.18" y="1370.6" width="4.4" height="23.98" fill="#ff0000" stroke="none" stroke-width="3.2"/>
<rect x="786.63" y="1370.6" width="4.4" height="23.98" fill="#ff0000" stroke="none" stroke-width="3.2"/>
<rect x="811.08" y="1370.6" width="4.4" height="23.98" fill="#ff0000" stroke="none" stroke-width="3.2"/>
<rect x="835.52" y="1370.6" width="4.4" height="23.98" fill="#ff0000" stroke="none" stroke-width="3.2"/>
<rect x="859.96" y="1370.6" width="4.4" height="23.98" fill="#ff0000" stroke="none" stroke-width="3.2"/>
<rect x="884.41" y="1370.6" width="4.4" height="23.98" fill="#ff0000" stroke="none" stroke-width="3.2"/>
<rect x="908.86" y="1370.6" width="4.4" height="23.98" fill="#ff0000" stroke="none" stroke-width="3.2"/>
<rect x="189.06" y="1370.6" width="4.3" height="23.98" fill="#0000ff" stroke="none" stroke-width="3.2"/>
<rect x="213.5" y="1370.6" width="4.3" height="23.98" fill="#0000ff" stroke="none" stroke-width="3.2"/>
<rect x="237.94" y="1370.6" width="4.3" height="23.98" fill="#0000ff" stroke="none" stroke-width="3.2"/>
<rect x="262.39" y="1370.6" width="4.3" height="23.98" fill="#0000ff" stroke="none" stroke-width="3.2"/>
<rect x="286.84" y="1370.6" width="4.3" height="23.98" fill="#0000ff" stroke="none" stroke-width="3.2"/>
<rect x="311.28" y="1370.6" width="4.3" height="23.98" fill="#0000ff" stroke="none" stroke-width="3.2"/>
<rect x="335.73" y="1370.6" width="4.3" height="23.98" fill="#0000ff" stroke="none" stroke-width="3.2"/>
<rect x="360.17" y="1370.6" width="4.3" height="23.98" fill="#0000ff" stroke="none" stroke-width="3.2"/>
<rect x="384.62" y="1370.6" width="4.3" height="23.98" fill="#0000ff" stroke="none" stroke-width="3.2"/>
<rect x="409.06" y="1370.6" width="4.3" height="23.98" fill="#0000ff" stroke="none" stroke-width="3.2"/>
<rect x="433.5" y="1370.6" width="4.3" height="23.98" fill="#0000ff" stroke="none" stroke-width="3.2"/>
<rect x="457.95" y="1370.6" width="4.3" height="23.98" fill="#0000ff" stroke="none" stroke-width="3.2"/>
<rect x="482.39" y="1370.6" width="4.3" height="23.98" fill="#0000ff" stroke="none" stroke-width="3.2"/>
<rect x="506.84" y="1370.6" width="4.3" height="23.98" fill="#0000ff" stroke="none" stroke-width="3.2"/>
<rect x="531.29" y="1370.6" width="4.3" height="23.98" fill="#0000ff" stroke="none" stroke-width="3.2"/>
<rect x="555.73" y="1370.6" width="4.3" height="23.98" fill="#0000ff" stroke="none" stroke-width="3.2"/>
<rect x="580.17" y="1370.6" width="4.3" height="23.98" fill="#0000ff" stroke="none" stroke-width="3.2"/>
<rect x="604.62" y="1370.6" width="4.3" height="23.98" fill="#0000ff" stroke="none" stroke-width="3.2"/>
<rect x="629.07" y="1370.6" width="4.3" height="23.98" fill="#0000ff" stroke="none" stroke-width="3.2"/>
<rect x="653.51" y="1370.6" width="4.3" height="23.98" fill="#0000ff" stroke="none" stroke-width="3.2"/>
<rect x="677.95" y="1370.6" width="4.3" height="23.98" fill="#0000ff" stroke="none" stroke-width="3.2"/>
<rect x="702.4" y="1370.6" width="4.3" height="23.98" fill="#0000ff" stroke="none" stroke-width="3.2"/>
<rect x="726.85" y="1370.6" width="4.3" height="23.98" fill="#0000ff" stroke="none" stroke-width="3.2"/>
<rect x="751.29" y="1370.6" width="4.3" height="23.98" fill="#0000ff" stroke="none" stroke-width="3.2"/>
<rect x="775.74" y="1370.6" width="4.3" height="23.98" fill="#0000ff" stroke="none" stroke-width="3.2"/>
<rect x="800.18" y="1370.6" width="4.3" height="23.98" fill="#0000ff" stroke="none" stroke-width="3.2"/>
<rect x="824.62" y="1370.6" width="4.3" height="23.98" fill="#0000ff" stroke="none" stroke-width="3.2"/>
<rect x="849.07" y="1370.6" width="4.3" height="23.98" fill="#0000ff" stroke="none" stroke-width="3.2"/>
<rect x="873.51" y="1370.6" width="4.3" height="23.98" fill="#0000ff" stroke="none" stroke-width="3.2"/>
<rect x="897.96" y="1370.6" width="4.3" height="23.98" fill="#0000ff" stroke="none" stroke-width="3.2"/>
<rect x="922.4" y="1370.6" width="4.3" height="23.98" fill="#0000ff" stroke="none" stroke-width="3.2"/>
<rect x="171.06" y="1346.82" width="4.4" height="23.98" fill="#ff0000" stroke="none" stroke-width="3.2"/>
<rect x="195.5" y="1346.82" width="4.4" height="23.98" fill="#ff0000" stroke="none" stroke-width="3.2"/>
<rect x="219.94" y="1346.82" width="4.4" height="23.98" fill="#ff0000" stroke="none" stroke-width="3.2"/>
<rect x="244.39" y="1346.82" width="4.4" height="23.98" fill="#ff0000" stroke="none" stroke-width="3.2"/>
<rect x="268.84" y="1346.82" width="4.4" height="23.98" fill="#ff0000" stroke="none" stroke-width="3.2"/>
<rect x="293.28" y="1346.82" width="4.4" height="23.98" fill="#ff0000" stroke="none" stroke-width="3.2"/>
<rect x="317.73" y="1346.82" width="4.4" height="23.98" fill="#ff0000" stroke="none" stroke-width="3.2"/>
<rect x="342.17" y="1346.82" width="4.4" height="23.98" fill="#ff0000" stroke="none" stroke-width="3.2"/>
<rect x="366.62" y="1346.82" width="4.4" height="23.98" fill="#ff0000" stroke="none" stroke-width="3.2"/>
<rect x="391.06" y="1346.82" width="4.4" height="23.98" fill="#ff0000" stroke="none" stroke-width="3.2"/>
<rect x="415.5" y="1346.82" width="4.4" height="23.98" fill="#ff0000" stroke="none" stroke-width="3.2"/>
<rect x="439.95" y="1346.82" width="4.4" height="23.98" fill="#ff0000" stroke="none" stroke-width="3.2"/>
<rect x="464.39" y="1346.82" width="4.4" height="23.98" fill="#ff0000" stroke="none" stroke-width="3.2"/>
<rect x="488.84" y="1346.82" width="4.4" height="23.98" fill="#ff0000" stroke="none" stroke-width="3.2"/>
<rect x="513.29" y="1346.82" width="4.4" height="23.98" fill="#ff0000" stroke="none" stroke-width="3.2"/>
<rect x="537.73" y="1346.82" width="4.4" height="23.98" fill="#ff0000" stroke="none" stroke-width="3.2"/>
<rect x="562.17" y="1346.82" width="4.4" height="23.98" fill="#ff0000" stroke="none" stroke-width="3.2"/>
<rect x="586.62" y="1346.82" width="4.4" height="23.98" fill="#ff0000" stroke="none" stroke-width="3.2"/>
<rect x="611.07" y="1346.82" width="4.4" height="23.98" fill="#ff0000" stroke="none" stroke-width="3.2"/>
<rect x="635.51" y="1346.82" width="4.4" height="23.98" fill="#ff0000" stroke="none" stroke-width="3.2"/>
<rect x="659.95" y="1346.82" width="4.4" height="23.98" fill="#ff0000" stroke="none" stroke-width="3.2"/>
<rect x="684.4" y="1346.82" width="4.4" height="23.98" fill="#ff0000" stroke="none" stroke-width="3.2"/>
<rect x="708.85" y="1346.82" width="4.4" height="23.98" fill="#ff0000" stroke="none" stroke-width="3.2"/>
<rect x="733.29" y="1346.82" width="4.4" height="23.98" fill="#ff0000" stroke="none" stroke-width="3.2"/>
<rect x="757.74" y="1346.82" width="4.4" height="23.98" fill="#ff0000" stroke="none" stroke-width="3.2"/>
<rect x="782.18" y="1346.82" width="4.4" height="23.98" fill="#ff0000" stroke="none" stroke-width="3.2"/>
<rect x="806.62" y="1346.82" width="4.4" height="23.98" fill="#ff0000" stroke="none" stroke-width="3.2"/>
<rect x="831.07" y="1346.82" width="4.4" height="23.98" fill="#ff0000" stroke="none" stroke-width="3.2"/>
<rect x="855.51" y="1346.82" width="4.4" height="23.98" fill="#ff0000" stroke="none" stroke-width="3.2"/>
<rect x="879.96" y="1346.82" width="4.4" height="23.98" fill="#ff0000" stroke="none" stroke-width="3.2"/>
<rect x="904.4" y="1346.82" width="4.4" height="23.98" fill="#ff0000" stroke="none" stroke-width="3.2"/>
<rect x="184.6" y="1346.82" width="4.3" height="23.98" fill="#0000ff" stroke="none" stroke-width="3.2"/>
<rect x="209.05" y="1346.82" width="4.3" height="23.98" fill="#0000ff" stroke="none" stroke-width="3.2"/>
<rect x="233.49" y="1346.82" width="4.3" height="23.98" fill="#0000ff" stroke="none" stroke-width="3.2"/>
<rect x="257.94" y="1346.82" width="4.3" height="23.98" fill="#0000ff" stroke="none" stroke-width="3.2"/>
<rect x="282.38" y="1346.82" width="4.3" height="23.98" fill="#0000ff" stroke="none" stroke-width="3.2"/>
<rect x="306.83" y="1346.82" width="4.3" height="23.98" fill="#0000ff" stroke="none" stroke-width="3.2"/>
<rect x="331.27" y="1346.82" width="4.3" height="23.98" fill="#0000ff" stroke="none" stroke-width="3.2"/>
<rect x="355.72" y="1346.82" width="4.3" height="23.98" fill="#0000ff" stroke="none" stroke-width="3.2"/>
<rect x="380.16" y="1346.82" width="4.3" height="23.98" fill="#0000ff" stroke="none" stroke-width="3.2"/>
<rect x="404.61" y="1346.82" width="4.3" height="23.98" fill="#0000ff" stroke="none" stroke-width="3.2"/>
<rect x="429.05" y="1346.82" width="4.3" height="23.98" fill="#0000ff" stroke="none" stroke-width="3.2"/>
<rect x="453.5" y="1346.82" width="4.3" height="23.98" fill="#0000ff" stroke="none" stroke-width="3.2"/>
<rect x="477.94" y="1346.82" width="4.3" height="23.98" fill="#0000ff" stroke="none" stroke-width="3.2"/>
<rect x="502.39" y="1346.82" width="4.3" height="23.98" fill="#0000ff" stroke="none" stroke-width="3.2"/>
<rect x="526.84" y="1346.82" width="4.3" height="23.98" fill="#0000ff" stroke="none" stroke-width="3.2"/>
<rect x="551.28" y="1346.82" width="4.3" height="23.98" fill="#0000ff" stroke="none" stroke-width="3.2"/>
<rect x="575.73" y="1346.82" width="4.3" height="23.98" fill="#0000ff" stroke="none" stroke-width="3.2"/>
<rect x="600.17" y="1346.82" width="4.3" height="23.98" fill="#0000ff" stroke="none" stroke-width="3.2"/>
<rect x="624.62" y="1346.82" width="4.3" height="23.98" fill="#0000ff" stroke="none" stroke-width="3.2"/>
<rect x="649.06" y="1346.82" width="4.3" height="23.98" fill="#0000ff" stroke="none" stroke-width="3.2"/>
<rect x="673.5" y="1346.82" width="4.3" height="23.98" fill="#0000ff" stroke="none" stroke-width="3.2"/>
<rect x="697.95" y="1346.82" width="4.3" height="23.98" fill="#0000ff" stroke="none" stroke-width="3.2"/>
<rect x="722.39" y="1346.82" width="4.3" height="23.98" fill="#0000ff" stroke="none" stroke-width="3.2"/>
<rect x="746.84" y="1346.82" width="4.3" height="23.98" fill="#0000ff" stroke="none" stroke-width="3.2"/>
<rect x="771.28" y="1346.82" width="4.3" height="23.98" fill="#0000ff" stroke="none" stroke-width="3.2"/>
<rect x="795.73" y="1346.82" width="4.3" height="23.98" fill="#0000ff" stroke="none" stroke-width="3.2"/>
<rect x="820.17" y="1346.82" width="4.3" height="23.98" fill="#0000ff" stroke="none" stroke-width="3.2"/>
<rect x="844.62" y="1346.82" width="4.3" height="23.98" fill="#0000ff" stroke="none" stroke-width="3.2"/>
<rect x="869.06" y="1346.82" width="4.3" height="23.98" fill="#0000ff" stroke="none" stroke-width="3.2"/>
<rect x="893.51" y="1346.82" width="4.3" height="23.98" fill="#0000ff" stroke="none" stroke-width="3.2"/>
<rect x="917.95" y="1346.82" width="4.3" height="23.98" fill="#0000ff" stroke="none" stroke-width="3.2"/>
<rect x="191.05" y="1323.04" width="4.4" height="23.98" fill="#ff0000" stroke="none" stroke-width="3.2"/>
<rect x="215.49" y="1323.04" width="4.4" height="23.98" fill="#ff0000" stroke="none" stroke-width="3.2"/>
<rect x="239.94" y="1323.04" width="4.4" height="23.98" fill="#ff0000" stroke="none" stroke-width="3.2"/>
<rect x="264.38" y="1323.04" width="4.4" height="23.98" fill="#ff0000" stroke="none" stroke-width="3.2"/>
<rect x="288.83" y="1323.04" width="4.4" height="23.98" fill="#ff0000" stroke="none" stroke-width="3.2"/>
<rect x="313.27" y="1323.04" width="4.4" height="23.98" fill="#ff0000" stroke="none" stroke-width="3.2"/>
<rect x="337.72" y="1323.04" width="4.4" height="23.98" fill="#ff0000" stroke="none" stroke-width="3.2"/>
<rect x="362.16" y="1323.04" width="4.4" height="23.98" fill="#ff0000" stroke="none" stroke-width="3.2"/>
<rect x="386.61" y="1323.04" width="4.4" height="23.98" fill="#ff0000" stroke="none" stroke-width="3.2"/>
<rect x="411.05" y="1323.04" width="4.4" height="23.98" fill="#ff0000" stroke="none" stroke-width="3.2"/>
<rect x="435.5" y="1323.04" width="4.4" height="23.98" fill="#ff0000" stroke="none" stroke-width="3.2"/>
<rect x="459.94" y="1323.04" width="4.4" height="23.98" fill="#ff0000" stroke="none" stroke-width="3.2"/>
<rect x="484.39" y="1323.04" width="4.4" height="23.98" fill="#ff0000" stroke="none" stroke-width="3.2"/>
<rect x="508.84" y="1323.04" width="4.4" height="23.98" fill="#ff0000" stroke="none" stroke-width="3.2"/>
<rect x="533.28" y="1323.04" width="4.4" height="23.98" fill="#ff0000" stroke="none" stroke-width="3.2"/>
<rect x="557.73" y="1323.04" width="4.4" height="23.98" fill="#ff0000" stroke="none" stroke-width="3.2"/>
<rect x="582.17" y="1323.04" width="4.4" height="23.98" fill="#ff0000" stroke="none" stroke-width="3.2"/>
<rect x="606.62" y="1323.04" width="4.4" height="23.98" fill="#ff0000" stroke="none" stroke-width="3.2"/>
<rect x="631.06" y="1323.04" width="4.4" height="23.98" fill="#ff0000" stroke="none" stroke-width="3.2"/>
<rect x="655.5" y="1323.04" width="4.4" height="23.98" fill="#ff0000" stroke="none" stroke-width="3.2"/>
<rect x="679.95" y="1323.04" width="4.4" height="23.98" fill="#ff0000" stroke="none" stroke-width="3.2"/>
<rect x="704.39" y="1323.04" width="4.4" height="23.98" fill="#ff0000" stroke="none" stroke-width="3.2"/>
<rect x="728.84" y="1323.04" width="4.4" height="23.98" fill="#ff0000" stroke="none" stroke-width="3.2"/>
<rect x="753.28" y="1323.04" width="4.4" height="23.98" fill="#ff0000" stroke="none" stroke-width="3.2"/>
<rect x="777.73" y="1323.04" width="4.4" height="23.98" fill="#ff0000" stroke="none" stroke-width="3.2"/>
<rect x="802.17" y="1323.04" width="4.4" height="23.98" fill="#ff0000" stroke="none" stroke-width="3.2"/>
<rect x="826.62" y="1323.04" width="4.4" height="23.98" fill="#ff0000" stroke="none" stroke-width="3.2"/>
<rect x="851.06" y="1323.04" width="4.4" height="23.98" fill="#ff0000" stroke="none" stroke-width="3.2"/>
<rect x="875.51" y="1323.04" width="4.4" height="23.98" fill="#ff0000" stroke="none" stroke-width="3.2"/>
<rect x="899.95" y="1323.04" width="4.4" height="23.98" fill="#ff0000" stroke="none" stroke-width="3.2"/>
<rect x="924.4" y="1323.04" width="4.4" height="23.98" fill="#ff0000" stroke="none" stroke-width="3.2"/>
<rect x="180.16" y="1323.04" width="4.3" height="23.98" fill="#0000ff" stroke="none" stroke-width="3.2"/>
<rect x="204.6" y="1323.04" width="4.3" height="23.98" fill="#0000ff" stroke="none" stroke-width="3.2"/>
<rect x="229.04" y="1323.04" width="4.3" height="23.98" fill="#0000ff" stroke="none" stroke-width="3.2"/>
<rect x="253.49" y="1323.04" width="4.3" height="23.98" fill="#0000ff" stroke="none" stroke-width="3.2"/>
<rect x="277.94" y="1323.04" width="4.3" height="23.98" fill="#0000ff" stroke="none" stroke-width="3.2"/>
<rect x="302.38" y="1323.04" width="4.3" height="23.98" fill="#0000ff" stroke="none" stroke-width="3.2"/>
<rect x="326.82" y="1323.04" width="4.3" height="23.98" fill="#0000ff" stroke="none" stroke-width="3.2"/>
<rect x="351.27" y="1323.04" width="4.3" height="23.98" fill="#0000ff" stroke="none" stroke-width="3.2"/>
<rect x="375.72" y="1323.04" width="4.3" height="23.98" fill="#0000ff" stroke="none" stroke-width="3.2"/>
<rect x="400.16" y="1323.04" width="4.3" height="23.98" fill="#0000ff" stroke="none" stroke-width="3.2"/>
<rect x="424.61" y="1323.04" width="4.3" height="23.98" fill="#0000ff" stroke="none" stroke-width="3.2"/>
<rect x="449.05" y="1323.04" width="4.3" height="23.98" fill="#0000ff" stroke="none" stroke-width="3.2"/>
<rect x="473.5" y="1323.04" width="4.3" height="23.98" fill="#0000ff" stroke="none" stroke-width="3.2"/>
<rect x="497.94" y="1323.04" width="4.3" height="23.98" fill="#0000ff" stroke="none" stroke-width="3.2"/>
<rect x="522.38" y="1323.04" width="4.3" height="23.98" fill="#0000ff" stroke="none" stroke-width="3.2"/>
<rect x="546.83" y="1323.04" width="4.3" height="23.98" fill="#0000ff" stroke="none" stroke-width="3.2"/>
<rect x="571.27" y="1323.04" width="4.3" height="23.98" fill="#0000ff" stroke="none" stroke-width="3.2"/>
<rect x="595.72" y="1323.04" width="4.3" height="23.98" fill="#0000ff" stroke="none" stroke-width="3.2"/>
<rect x="620.16" y="1323.04" width="4.3" height="23.98" fill="#0000ff" stroke="none" stroke-width="3.2"/>
<rect x="644.61" y="1323.04" width="4.3" height="23.98" fill="#0000ff" stroke="none" stroke-width="3.2"/>
<rect x="669.05" y="1323.04" width="4.3" height="23.98" fill="#0000ff" stroke="none" stroke-width="3.2"/>
<rect x="693.5" y="1323.04" width="4.3" height="23.98" fill="#0000ff" stroke="none" stroke-width="3.2"/>
<rect x="717.95" y="1323.04" width="4.3" height="23.98" fill="#0000ff" stroke="none" stroke-width="3.2"/>
<rect x="742.39" y="1323.04" width="4.3" height="23.98" fill="#0000ff" stroke="none" stroke-width="3.2"/>
<rect x="766.84" y="1323.04" width="4.3" height="23.98" fill="#0000ff" stroke="none" stroke-width="3.2"/>
<rect x="791.28" y="1323.04" width="4.3" height="23.98" fill="#0000ff" stroke="none" stroke-width="3.2"/>
<rect x="815.73" y="1323.04" width="4.3" height="23.98" fill="#0000ff" stroke="none" stroke-width="3.2"/>
<rect x="840.17" y="1323.04" width="4.3" height="23.98" fill="#0000ff" stroke="none" stroke-width="3.2"/>
<rect x="864.62" y="1323.04" width="4.3" height="23.98" fill="#0000ff" stroke="none" stroke-width="3.2"/>
<rect x="889.06" y="1323.04" width="4.3" height="23.98" fill="#0000ff" stroke="none" stroke-width="3.2"/>
<rect x="913.5" y="1323.04" width="4.3" height="23.98" fill="#0000ff" stroke="none" stroke-width="3.2"/>
<rect x="186.6" y="1299.26" width="4.4" height="23.98" fill="#ff0000" stroke="none" stroke-width="3.2"/>
<rect x="211.04" y="1299.26" width="4.4" height="23.98" fill="#ff0000" stroke="none" stroke-width="3.2"/>
<rect x="235.49" y="1299.26" width="4.4" height="23.98" fill="#ff0000" stroke="none" stroke-width="3.2"/>
<rect x="259.94" y="1299.26" width="4.4" height="23.98" fill="#ff0000" stroke="none" stroke-width="3.2"/>
<rect x="284.38" y="1299.26" width="4.4" height="23.98" fill="#ff0000" stroke="none" stroke-width="3.2"/>
<rect x="308.82" y="1299.26" width="4.4" height="23.98" fill="#ff0000" stroke="none" stroke-width="3.2"/>
<rect x="333.27" y="1299.26" width="4.4" height="23.98" fill="#ff0000" stroke="none" stroke-width="3.2"/>
<rect x="357.72" y="1299.26" width="4.4" height="23.98" fill="#ff0000" stroke="none" stroke-width="3.2"/>
<rect x="382.16" y="1299.26" width="4.4" height="23.98" fill="#ff0000" stroke="none" stroke-width="3.2"/>
<rect x="406.61" y="1299.26" width="4.4" height="23.98" fill="#ff0000" stroke="none" stroke-width="3.2"/>
<rect x="431.05" y="1299.26" width="4.4" height="23.98" fill="#ff0000" stroke="none" stroke-width="3.2"/>
<rect x="455.5" y="1299.26" width="4.4" height="23.98" fill="#ff0000" stroke="none" stroke-width="3.2"/>
<rect x="479.94" y="1299.26" width="4.4" height="23.98" fill="#ff0000" stroke="none" stroke-width="3.2"/>
<rect x="504.38" y="1299.26" width="4.4" height="23.98" fill="#ff0000" stroke="none" stroke-width="3.2"/>
<rect x="528.83" y="1299.26" width="4.4" height="23.98" fill="#ff0000" stroke="none" stroke-width="3.2"/>
<rect x="553.27" y="1299.26" width="4.4" height="23.98" fill="#ff0000" stroke="none" stroke-width="3.2"/>
<rect x="577.72" y="1299.26" width="4.4" height="23.98" fill="#ff0000" stroke="none" stroke-width="3.2"/>
<rect x="602.16" y="1299.26" width="4.4" height="23.98" fill="#ff0000" stroke="none" stroke-width="3.2"/>
<rect x="626.61" y="1299.26" width="4.4" height="23.98" fill="#ff0000" stroke="none" stroke-width="3.2"/>
<rect x="651.05" y="1299.26" width="4.4" height="23.98" fill="#ff0000" stroke="none" stroke-width="3.2"/>
<rect x="675.5" y="1299.26" width="4.4" height="23.98" fill="#ff0000" stroke="none" stroke-width="3.2"/>
<rect x="699.95" y="1299.26" width="4.4" height="23.98" fill="#ff0000" stroke="none" stroke-width="3.2"/>
<rect x="724.39" y="1299.26" width="4.4" height="23.98" fill="#ff0000" stroke="none" stroke-width="3.2"/>
<rect x="748.84" y="1299.26" width="4.4" height="23.98" fill="#ff0000" stroke="none" stroke-width="3.2"/>
<rect x="773.28" y="1299.26" width="4.4" height="23.98" fill="#ff0000" stroke="none" stroke-width="3.2"/>
<rect x="797.73" y="1299.26" width="4.4" height="23.98" fill="#ff0000" stroke="none" stroke-width="3.2"/>
<rect x="822.17" y="1299.26" width="4.4" height="23.98" fill="#ff0000" stroke="none" stroke-width="3.2"/>
<rect x="846.62" y="1299.26" width="4.4" height="23.98" fill="#ff0000" stroke="none" stroke-width="3.2"/>
<rect x="871.06" y="1299.26" width="4.4" height="23.98" fill="#ff0000" stroke="none" stroke-width="3.2"/>
<rect x="895.5" y="1299.26" width="4.4" height="23.98" fill="#ff0000" stroke="none" stroke-width="3.2"/>
<rect x="919.95" y="1299.26" width="4.4" height="23.98" fill="#ff0000" stroke="none" stroke-width="3.2"/>
<rect x="175.7" y="1299.26" width="4.3" height="23.98" fill="#0000ff" stroke="none" stroke-width="3.2"/>
<rect x="200.15" y="1299.26" width="4.3" height="23.98" fill="#0000ff" stroke="none" stroke-width="3.2"/>
<rect x="224.59" y="1299.26" width="4.3" height="23.98" fill="#0000ff" stroke="none" stroke-width="3.2"/>
<rect x="249.04" y="1299.26" width="4.3" height="23.98" fill="#0000ff" stroke="none" stroke-width="3.2"/>
<rect x="273.49" y="1299.26" width="4.3" height="23.98" fill="#0000ff" stroke="none" stroke-width="3.2"/>
<rect x="297.93" y="1299.26" width="4.3" height="23.98" fill="#0000ff" stroke="none" stroke-width="3.2"/>
<rect x="322.38" y="1299.26" width="4.3" height="23.98" fill="#0000ff" stroke="none" stroke-width="3.2"/>
<rect x="346.82" y="1299.26" width="4.3" height="23.98" fill="#0000ff" stroke="none" stroke-width="3.2"/>
<rect x="371.26" y="1299.26" width="4.3" height="23.98" fill="#0000ff" stroke="none" stroke-width="3.2"/>
<rect x="395.71" y="1299.26" width="4.3" height="23.98" fill="#0000ff" stroke="none" stroke-width="3.2"/>
<rect x="420.15" y="1299.26" width="4.3" height="23.98" fill="#0000ff" stroke="none" stroke-width="3.2"/>
<rect x="444.6" y="1299.26" width="4.3" height="23.98" fill="#0000ff" stroke="none" stroke-width="3.2"/>
<rect x="469.04" y="1299.26" width="4.3" height="23.98" fill="#0000ff" stroke="none" stroke-width="3.2"/>
<rect x="493.49" y="1299.26" width="4.3" height="23.98" fill="#0000ff" stroke="none" stroke-width="3.2"/>
<rect x="517.93" y="1299.26" width="4.3" height="23.98" fill="#0000ff" stroke="none" stroke-width="3.2"/>
<rect x="542.38" y="1299.26" width="4.3" height="23.98" fill="#0000ff" stroke="none" stroke-width="3.2"/>
<rect x="566.83" y="1299.26" width="4.3" height="23.98" fill="#0000ff" stroke="none" stroke-width="3.2"/>
<rect x="591.27" y="1299.26" width="4.3" height="23.98" fill="#0000ff" stroke="none" stroke-width="3.2"/>
<rect x="615.71" y="1299.26" width="4.3" height="23.98" fill="#0000ff" stroke="none" stroke-width="3.2"/>
<rect x="640.16" y="1299.26" width="4.3" height="23.98" fill="#0000ff" stroke="none" stroke-width="3.2"/>
<rect x="664.61" y="1299.26" width="4.3" height="23.98" fill="#0000ff" stroke="none" stroke-width="3.2"/>
<rect x="689.05" y="1299.26" width="4.3" height="23.98" fill="#0000ff" stroke="none" stroke-width="3.2"/>
<rect x="713.5" y="1299.26" width="4.3" height="23.98" fill="#0000ff" stroke="none" stroke-width="3.2"/>
<rect x="737.94" y="1299.26" width="4.3" height="23.98" fill="#0000ff" stroke="none" stroke-width="3.2"/>
<rect x="762.38" y="1299.26" width="4.3" height="23.98" fill="#0000ff" stroke="none" stroke-width="3.2"/>
<rect x="786.83" y="1299.26" width="4.3" height="23.98" fill="#0000ff" stroke="none" stroke-width="3.2"/>
<rect x="811.27" y="1299.26" width="4.3" height="23.98" fill="#0000ff" stroke="none" stroke-width="3.2"/>
<rect x="835.72" y="1299.26" width="4.3" height="23.98" fill="#0000ff" stroke="none" stroke-width="3.2"/>
<rect x="860.16" y="1299.26" width="4.3" height="23.98" fill="#0000ff" stroke="none" stroke-width="3.2"/>
<rect x="884.61" y="1299.26" width="4.3" height="23.98" fill="#0000ff" stroke="none" stroke-width="3.2"/>
<rect x="909.05" y="1299.26" width="4.3" height="23.98" fill="#0000ff" stroke="none" stroke-width="3.2"/>
<rect x="182.15" y="1275.48" width="4.4" height="23.98" fill="#ff0000" stroke="none" stroke-width="3.2"/>
<rect x="206.59" y="1275.48" width="4.4" height="23.98" fill="#ff0000" stroke="none" stroke-width="3.2"/>
<rect x="231.04" y="1275.48" width="4.4" height="23.98" fill="#ff0000" stroke="none" stroke-width="3.2"/>
<rect x="255.48" y="1275.48" width="4.4" height="23.98" fill="#ff0000" stroke="none" stroke-width="3.2"/>
<rect x="279.93" y="1275.48" width="4.4" height="23.98" fill="#ff0000" stroke="none" stroke-width="3.2"/>
<rect x="304.38" y="1275.48" width="4.4" height="23.98" fill="#ff0000" stroke="none" stroke-width="3.2"/>
<rect x="328.82" y="1275.48" width="4.4" height="23.98" fill="#ff0000" stroke="none" stroke-width="3.2"/>
<rect x="353.26" y="1275.48" width="4.4" height="23.98" fill="#ff0000" stroke="none" stroke-width="3.2"/>
<rect x="377.71" y="1275.48" width="4.4" height="23.98" fill="#ff0000" stroke="none" stroke-width="3.2"/>
<rect x="402.15" y="1275.48" width="4.4" height="23.98" fill="#ff0000" stroke="none" stroke-width="3.2"/>
<rect x="426.6" y="1275.48" width="4.4" height="23.98" fill="#ff0000" stroke="none" stroke-width="3.2"/>
<rect x="451.04" y="1275.48" width="4.4" height="23.98" fill="#ff0000" stroke="none" stroke-width="3.2"/>
<rect x="475.49" y="1275.48" width="4.4" height="23.98" fill="#ff0000" stroke="none" stroke-width="3.2"/>
<rect x="499.94" y="1275.48" width="4.4" height="23.98" fill="#ff0000" stroke="none" stroke-width="3.2"/>
<rect x="524.38" y="1275.48" width="4.4" height="23.98" fill="#ff0000" stroke="none" stroke-width="3.2"/>
<rect x="548.83" y="1275.48" width="4.4" height="23.98" fill="#ff0000" stroke="none" stroke-width="3.2"/>
<rect x="573.27" y="1275.48" width="4.4" height="23.98" fill="#ff0000" stroke="none" stroke-width="3.2"/>
<rect x="597.71" y="1275.48" width="4.4" height="23.98" fill="#ff0000" stroke="none" stroke-width="3.2"/>
<rect x="622.16" y="1275.48" width="4.4" height="23.98" fill="#ff0000" stroke="none" stroke-width="3.2"/>
<rect x="646.61" y="1275.48" width="4.4" height="23.98" fill="#ff0000" stroke="none" stroke-width="3.2"/>
<rect x="671.05" y="1275.48" width="4.4" height="23.98" fill="#ff0000" stroke="none" stroke-width="3.2"/>
<rect x="695.5" y="1275.48" width="4.4" height="23.98" fill="#ff0000" stroke="none" stroke-width="3.2"/>
<rect x="719.94" y="1275.48" width="4.4" height="23.98" fill="#ff0000" stroke="none" stroke-width="3.2"/>
<rect x="744.38" y="1275.48" width="4.4" height="23.98" fill="#ff0000" stroke="none" stroke-width="3.2"/>
<rect x="768.83" y="1275.48" width="4.4" height="23.98" fill="#ff0000" stroke="none" stroke-width="3.2"/>
<rect x="793.27" y="1275.48" width="4.4" height="23.98" fill="#ff0000" stroke="none" stroke-width="3.2"/>
<rect x="817.72" y="1275.48" width="4.4" height="23.98" fill="#ff0000" stroke="none" stroke-width="3.2"/>
<rect x="842.16" y="1275.48" width="4.4" height="23.98" fill="#ff0000" stroke="none" stroke-width="3.2"/>
<rect x="866.61" y="1275.48" width="4.4" height="23.98" fill="#ff0000" stroke="none" stroke-width="3.2"/>
<rect x="891.05" y="1275.48" width="4.4" height="23.98" fill="#ff0000" stroke="none" stroke-width="3.2"/>
<rect x="915.5" y="1275.48" width="4.4" height="23.98" fill="#ff0000" stroke="none" stroke-width="3.2"/>
<rect x="171.25" y="1275.48" width="4.3" height="23.98" fill="#0000ff" stroke="none" stroke-width="3.2"/>
<rect x="195.7" y="1275.48" width="4.3" height="23.98" fill="#0000ff" stroke="none" stroke-width="3.2"/>
<rect x="220.14" y="1275.48" width="4.3" height="23.98" fill="#0000ff" stroke="none" stroke-width="3.2"/>
<rect x="244.59" y="1275.48" width="4.3" height="23.98" fill="#0000ff" stroke="none" stroke-width="3.2"/>
<rect x="269.03" y="1275.48" width="4.3" height="23.98" fill="#0000ff" stroke="none" stroke-width="3.2"/>
<rect x="293.48" y="1275.48" width="4.3" height="23.98" fill="#0000ff" stroke="none" stroke-width="3.2"/>
<rect x="317.92" y="1275.48" width="4.3" height="23.98" fill="#0000ff" stroke="none" stroke-width="3.2"/>
<rect x="342.37" y="1275.48" width="4.3" height="23.98" fill="#0000ff" stroke="none" stroke-width="3.2"/>
<rect x="366.81" y="1275.48" width="4.3" height="23.98" fill="#0000ff" stroke="none" stroke-width="3.2"/>
<rect x="391.26" y="1275.48" width="4.3" height="23.98" fill="#0000ff" stroke="none" stroke-width="3.2"/>
<rect x="415.7" y="1275.48" width="4.3" height="23.98" fill="#0000ff" stroke="none" stroke-width="3.2"/>
<rect x="440.15" y="1275.48" width="4.3" height="23.98" fill="#0000ff" stroke="none" stroke-width="3.2"/>
<rect x="464.59" y="1275.48" width="4.3" height="23.98" fill="#0000ff" stroke="none" stroke-width="3.2"/>
<rect x="489.04" y="1275.48" width="4.3" height="23.98" fill="#0000ff" stroke="none" stroke-width="3.2"/>
<rect x="513.49" y="1275.48" width="4.3" height="23.98" fill="#0000ff" stroke="none" stroke-width="3.2"/>
<rect x="537.93" y="1275.48" width="4.3" height="23.98" fill="#0000ff" stroke="none" stroke-width="3.2"/>
<rect x="562.38" y="1275.48" width="4.3" height="23.98" fill="#0000ff" stroke="none" stroke-width="3.2"/>
<rect x="586.82" y="1275.48" width="4.3" height="23.98" fill="#0000ff" stroke="none" stroke-width="3.2"/>
<rect x="611.26" y="1275.48" width="4.3" height="23.98" fill="#0000ff" stroke="none" stroke-width="3.2"/>
<rect x="635.71" y="1275.48" width="4.3" height="23.98" fill="#0000ff" stroke="none" stroke-width="3.2"/>
<rect x="660.15" y="1275.48" width="4.3" height="23.98" fill="#0000ff" stroke="none" stroke-width="3.2"/>
<rect x="684.6" y="1275.48" width="4.3" height="23.98" fill="#0000ff" stroke="none" stroke-width="3.2"/>
<rect x="709.05" y="1275.48" width="4.3" height="23.98" fill="#0000ff" stroke="none" stroke-width="3.2"/>
<rect x="733.49" y="1275.48" width="4.3" height="23.98" fill="#0000ff" stroke="none" stroke-width="3.2"/>
<rect x="757.93" y="1275.48" width="4.3" height="23.98" fill="#0000ff" stroke="none" stroke-width="3.2"/>
<rect x="782.38" y="1275.48" width="4.3" height="23.98" fill="#0000ff" stroke="none" stroke-width="3.2"/>
<rect x="806.83" y="1275.48" width="4.3" height="23.98" fill="#0000ff" stroke="none" stroke-width="3.2"/>
<rect x="831.27" y="1275.48" width="4.3" height="23.98" fill="#0000ff" stroke="none" stroke-width="3.2"/>
<rect x="855.71" y="1275.48" width="4.3" height="23.98" fill="#0000ff" stroke="none" stroke-width="3.2"/>
<rect x="880.16" y="1275.48" width="4.3" height="23.98" fill="#0000ff" stroke="none" stroke-width="3.2"/>
<rect x="904.61" y="1275.48" width="4.3" height="23.98" fill="#0000ff" stroke="none" stroke-width="3.2"/>
<rect x="177.7" y="1251.7" width="4.4" height="23.98" fill="#ff0000" stroke="none" stroke-width="3.2"/>
<rect x="202.14" y="1251.7" width="4.4" height="23.98" fill="#ff0000" stroke="none" stroke-width="3.2"/>
<rect x="226.59" y="1251.7" width="4.4" height="23.98" fill="#ff0000" stroke="none" stroke-width="3.2"/>
<rect x="251.03" y="1251.7" width="4.4" height="23.98" fill="#ff0000" stroke="none" stroke-width="3.2"/>
<rect x="275.48" y="1251.7" width="4.4" height="23.98" fill="#ff0000" stroke="none" stroke-width="3.2"/>
<rect x="299.92" y="1251.7" width="4.4" height="23.98" fill="#ff0000" stroke="none" stroke-width="3.2"/>
<rect x="324.37" y="1251.7" width="4.4" height="23.98" fill="#ff0000" stroke="none" stroke-width="3.2"/>
<rect x="348.81" y="1251.7" width="4.4" height="23.98" fill="#ff0000" stroke="none" stroke-width="3.2"/>
<rect x="373.26" y="1251.7" width="4.4" height="23.98" fill="#ff0000" stroke="none" stroke-width="3.2"/>
<rect x="397.7" y="1251.7" width="4.4" height="23.98" fill="#ff0000" stroke="none" stroke-width="3.2"/>
<rect x="422.15" y="1251.7" width="4.4" height="23.98" fill="#ff0000" stroke="none" stroke-width="3.2"/>
<rect x="446.59" y="1251.7" width="4.4" height="23.98" fill="#ff0000" stroke="none" stroke-width="3.2"/>
<rect x="471.04" y="1251.7" width="4.4" height="23.98" fill="#ff0000" stroke="none" stroke-width="3.2"/>
<rect x="495.49" y="1251.7" width="4.4" height="23.98" fill="#ff0000" stroke="none" stroke-width="3.2"/>
<rect x="519.93" y="1251.7" width="4.4" height="23.98" fill="#ff0000" stroke="none" stroke-width="3.2"/>
<rect x="544.38" y="1251.7" width="4.4" height="23.98" fill="#ff0000" stroke="none" stroke-width="3.2"/>
<rect x="568.82" y="1251.7" width="4.4" height="23.98" fill="#ff0000" stroke="none" stroke-width="3.2"/>
<rect x="593.26" y="1251.7" width="4.4" height="23.98" fill="#ff0000" stroke="none" stroke-width="3.2"/>
<rect x="617.71" y="1251.7" width="4.4" height="23.98" fill="#ff0000" stroke="none" stroke-width="3.2"/>
<rect x="642.15" y="1251.7" width="4.4" height="23.98" fill="#ff0000" stroke="none" stroke-width="3.2"/>
<rect x="666.6" y="1251.7" width="4.4" height="23.98" fill="#ff0000" stroke="none" stroke-width="3.2"/>
<rect x="691.05" y="1251.7" width="4.4" height="23.98" fill="#ff0000" stroke="none" stroke-width="3.2"/>
<rect x="715.49" y="1251.7" width="4.4" height="23.98" fill="#ff0000" stroke="none" stroke-width="3.2"/>
<rect x="739.93" y="1251.7" width="4.4" height="23.98" fill="#ff0000" stroke="none" stroke-width="3.2"/>
<rect x="764.38" y="1251.7" width="4.4" height="23.98" fill="#ff0000" stroke="none" stroke-width="3.2"/>
<rect x="788.83" y="1251.7" width="4.4" height="23.98" fill="#ff0000" stroke="none" stroke-width="3.2"/>
<rect x="813.27" y="1251.7" width="4.4" height="23.98" fill="#ff0000" stroke="none" stroke-width="3.2"/>
<rect x="837.71" y="1251.7" width="4.4" height="23.98" fill="#ff0000" stroke="none" stroke-width="3.2"/>
<rect x="862.16" y="1251.7" width="4.4" height="23.98" fill="#ff0000" stroke="none" stroke-width="3.2"/>
<rect x="886.61" y="1251.7" width="4.4" height="23.98" fill="#ff0000" stroke="none" stroke-width="3.2"/>
<rect x="911.05" y="1251.7" width="4.4" height="23.98" fill="#ff0000" stroke="none" stroke-width="3.2"/>
<rect x="192.9" y="1251.7" width="2.6" height="23.98" fill="#0000ff" stroke="none" stroke-width="3.2"/>
<rect x="217.34" y="1251.7" width="2.6" height="23.98" fill="#0000ff" stroke="none" stroke-width="3.2"/>
<rect x="241.79" y="1251.7" width="2.6" height="23.98" fill="#0000ff" stroke="none" stroke-width="3.2"/>
<rect x="266.24" y="1251.7" width="2.6" height="23.98" fill="#0000ff" stroke="none" stroke-width="3.2"/>
<rect x="290.68" y="1251.7" width="2.6" height="23.98" fill="#0000ff" stroke="none" stroke-width="3.2"/>
<rect x="315.12" y="1251.7" width="2.6" height="23.98" fill="#0000ff" stroke="none" stroke-width="3.2"/>
<rect x="339.57" y="1251.7" width="2.6" height="23.98" fill="#0000ff" stroke="none" stroke-width="3.2"/>
<rect x="364.01" y="1251.7" width="2.6" height="23.98" fill="#0000ff" stroke="none" stroke-width="3.2"/>
<rect x="388.46" y="1251.7" width="2.6" height="23.98" fill="#0000ff" stroke="none" stroke-width="3.2"/>
<rect x="412.9" y="1251.7" width="2.6" height="23.98" fill="#0000ff" stroke="none" stroke-width="3.2"/>
<rect x="437.35" y="1251.7" width="2.6" height="23.98" fill="#0000ff" stroke="none" stroke-width="3.2"/>
<rect x="461.79" y="1251.7" width="2.6" height="23.98" fill="#0000ff" stroke="none" stroke-width="3.2"/>
<rect x="486.24" y="1251.7" width="2.6" height="23.98" fill="#0000ff" stroke="none" stroke-width="3.2"/>
<rect x="510.69" y="1251.7" width="2.6" height="23.98" fill="#0000ff" stroke="none" stroke-width="3.2"/>
<rect x="535.13" y="1251.7" width="2.6" height="23.98" fill="#0000ff" stroke="none" stroke-width="3.2"/>
<rect x="559.58" y="1251.7" width="2.6" height="23.98" fill="#0000ff" stroke="none" stroke-width="3.2"/>
<rect x="584.02" y="1251.7" width="2.6" height="23.98" fill="#0000ff" stroke="none" stroke-width="3.2"/>
<rect x="608.47" y="1251.7" width="2.6" height="23.98" fill="#0000ff" stroke="none" stroke-width="3.2"/>
<rect x="632.91" y="1251.7" width="2.6" height="23.98" fill="#0000ff" stroke="none" stroke-width="3.2"/>
<rect x="657.36" y="1251.7" width="2.6" height="23.98" fill="#0000ff" stroke="none" stroke-width="3.2"/>
<rect x="681.8" y="1251.7" width="2.6" height="23.98" fill="#0000ff" stroke="none" stroke-width="3.2"/>
<rect x="706.25" y="1251.7" width="2.6" height="23.98" fill="#0000ff" stroke="none" stroke-width="3.2"/>
<rect x="730.69" y="1251.7" width="2.6" height="23.98" fill="#0000ff" stroke="none" stroke-width="3.2"/>
<rect x="755.13" y="1251.7" width="2.6" height="23.98" fill="#0000ff" stroke="none" stroke-width="3.2"/>
<rect x="779.58" y="1251.7" width="2.6" height="23.98" fill="#0000ff" stroke="none" stroke-width="3.2"/>
<rect x="804.02" y="1251.7" width="2.6" height="23.98" fill="#0000ff" stroke="none" stroke-width="3.2"/>
<rect x="828.47" y="1251.7" width="2.6" height="23.98" fill="#0000ff" stroke="none" stroke-width="3.2"/>
<rect x="852.91" y="1251.7" width="2.6" height="23.98" fill="#0000ff" stroke="none" stroke-width="3.2"/>
<rect x="877.36" y="1251.7" width="2.6" height="23.98" fill="#0000ff" stroke="none" stroke-width="3.2"/>
<rect x="901.8" y="1251.7" width="2.6" height="23.98" fill="#0000ff" stroke="none" stroke-width="3.2"/>
</g>
<rect x="176" y="1229" width="748.4" height="354.6" fill="none" stroke="#000" stroke-width="3.2" stroke-linejoin="miter"/>
<line x1="162" y1="1478.41" x2="176" y2="1478.41" stroke="#000" stroke-width="3.2"/>
<text x="149.6" y="1493.21" font-family="'DejaVu Sans', 'Liberation Sans', sans-serif" font-size="37.2" text-anchor="end">5</text>
<line x1="162" y1="1359.51" x2="176" y2="1359.51" stroke="#000" stroke-width="3.2"/>
<text x="149.6" y="1374.31" font-family="'DejaVu Sans', 'Liberation Sans', sans-serif" font-size="37.2" text-anchor="end">10</text>
<line x1="162" y1="1240.6" x2="176" y2="1240.6" stroke="#000" stroke-width="3.2"/>
<text x="149.6" y="1255.4" font-family="'DejaVu Sans', 'Liberation Sans', sans-serif" font-size="37.2" text-anchor="end">15</text>
<line x1="176" y1="1583.6" x2="176" y2="1597.6" stroke="#000" stroke-width="3.2"/>
<line x1="549.8" y1="1583.6" x2="549.8" y2="1597.6" stroke="#000" stroke-width="3.2"/>
<line x1="923.6" y1="1583.6" x2="923.6" y2="1597.6" stroke="#000" stroke-width="3.2"/>
<text x="176" y="1639.5" font-family="'DejaVu Sans', 'Liberation Sans', sans-serif" font-size="37.2" text-anchor="middle">0</text>
<text x="551.5" y="1639.5" font-family="'DejaVu Sans', 'Liberation Sans', sans-serif" font-size="37.2" text-anchor="middle" letter-spacing="-3.2">1000</text>
<text x="888.6" y="1639.5" font-family="'DejaVu Sans', 'Liberation Sans', sans-serif" font-size="37.2" text-anchor="middle" letter-spacing="-3.2">2000</text>
<text transform="translate(78,1365) rotate(-90)" font-family="'DejaVu Sans', 'Liberation Sans', sans-serif" font-size="37.2" text-anchor="middle">Bead ID, <tspan font-style="italic">i</tspan></text>
<text x="581.2" y="1696.2" font-family="'DejaVu Sans', 'Liberation Sans', sans-serif" font-size="37.2" text-anchor="middle">Time-Steps, <tspan font-style="italic">t</tspan><tspan font-size="27" dy="6" font-style="italic">k</tspan><tspan dy="-6">/Δ</tspan><tspan font-family="'DejaVu Serif', 'Liberation Serif', serif" font-style="italic">t</tspan></text>
<text x="34" y="1227.7" font-family="'DejaVu Sans', 'Liberation Sans', sans-serif" font-size="47" font-weight="bold">e</text>
<clipPath id="clipF"><rect x="950.3" y="1233.2" width="747.5" height="350"/></clipPath>
<g clip-path="url(#clipF)">
<clipPath id="cf0"><rect x="950.3" y="1233.2" width="48.8" height="350"/></clipPath>
<g clip-path="url(#cf0)">
<rect x="950.3" y="1233.2" width="48.8" height="350" fill="url(#gr0)" stroke="none" stroke-width="3.2"/>
<path d="M880 1233.2L881.8 1257.7L918.3 1408.2L937.9 1478.2L969 1583.2L1029.5 1583.2L995.4 1478.2L973.9 1408.2L934 1257.7L932 1233.2Z" fill="url(#gb0)"/>
<path d="M997.9 1233.2L999.7 1257.7L1036.2 1408.2L1055.8 1478.2L1086.9 1583.2L1147.4 1583.2L1113.3 1478.2L1091.8 1408.2L1051.9 1257.7L1049.9 1233.2Z" fill="url(#gb0)"/>
<path d="M1113.8 1233.2L1115.6 1257.7L1152.1 1408.2L1171.6 1478.2L1202.8 1583.2L1265.3 1583.2L1231.2 1478.2L1209.7 1408.2L1169.8 1257.7L1167.8 1233.2Z" fill="url(#gb0)"/>
<path d="M1232.5 1233.2L1234.3 1257.7L1270.8 1408.2L1290.3 1478.2L1321.5 1583.2L1382.3 1583.2L1348.2 1478.2L1326.7 1408.2L1286.8 1257.7L1284.8 1233.2Z" fill="url(#gb0)"/>
<path d="M1349.6 1233.2L1351.4 1257.7L1387.9 1408.2L1407.4 1478.2L1438.6 1583.2L1501 1583.2L1466.9 1478.2L1445.4 1408.2L1405.5 1257.7L1403.5 1233.2Z" fill="url(#gb0)"/>
<path d="M1467.5 1233.2L1469.3 1257.7L1505.8 1408.2L1525.3 1478.2L1556.5 1583.2L1618.1 1583.2L1584 1478.2L1562.5 1408.2L1522.5 1257.7L1520.6 1233.2Z" fill="url(#gb0)"/>
<path d="M1584.6 1233.2L1586.4 1257.7L1622.9 1408.2L1642.4 1478.2L1673.6 1583.2L1735.6 1583.2L1701.5 1478.2L1680 1408.2L1640 1257.7L1638.1 1233.2Z" fill="url(#gb0)"/>
</g>
<clipPath id="cf1"><rect x="997.9" y="1233.2" width="53.2" height="350"/></clipPath>
<g clip-path="url(#cf1)">
<rect x="997.9" y="1233.2" width="53.2" height="350" fill="url(#gr1)" stroke="none" stroke-width="3.2"/>
<path d="M880 1233.2L881.8 1257.7L918.3 1408.2L937.9 1478.2L969 1583.2L1029.5 1583.2L995.4 1478.2L973.9 1408.2L934 1257.7L932 1233.2Z" fill="url(#gb1)"/>
<path d="M997.9 1233.2L999.7 1257.7L1036.2 1408.2L1055.8 1478.2L1086.9 1583.2L1147.4 1583.2L1113.3 1478.2L1091.8 1408.2L1051.9 1257.7L1049.9 1233.2Z" fill="url(#gb1)"/>
<path d="M1113.8 1233.2L1115.6 1257.7L1152.1 1408.2L1171.6 1478.2L1202.8 1583.2L1265.3 1583.2L1231.2 1478.2L1209.7 1408.2L1169.8 1257.7L1167.8 1233.2Z" fill="url(#gb1)"/>
<path d="M1232.5 1233.2L1234.3 1257.7L1270.8 1408.2L1290.3 1478.2L1321.5 1583.2L1382.3 1583.2L1348.2 1478.2L1326.7 1408.2L1286.8 1257.7L1284.8 1233.2Z" fill="url(#gb1)"/>
<path d="M1349.6 1233.2L1351.4 1257.7L1387.9 1408.2L1407.4 1478.2L1438.6 1583.2L1501 1583.2L1466.9 1478.2L1445.4 1408.2L1405.5 1257.7L1403.5 1233.2Z" fill="url(#gb1)"/>
<path d="M1467.5 1233.2L1469.3 1257.7L1505.8 1408.2L1525.3 1478.2L1556.5 1583.2L1618.1 1583.2L1584 1478.2L1562.5 1408.2L1522.5 1257.7L1520.6 1233.2Z" fill="url(#gb1)"/>
<path d="M1584.6 1233.2L1586.4 1257.7L1622.9 1408.2L1642.4 1478.2L1673.6 1583.2L1735.6 1583.2L1701.5 1478.2L1680 1408.2L1640 1257.7L1638.1 1233.2Z" fill="url(#gb1)"/>
</g>
<clipPath id="cf2"><rect x="1049.9" y="1233.2" width="65.1" height="350"/></clipPath>
<g clip-path="url(#cf2)">
<rect x="1049.9" y="1233.2" width="65.1" height="350" fill="url(#gr2)" stroke="none" stroke-width="3.2"/>
<path d="M880 1233.2L881.8 1257.7L918.3 1408.2L937.9 1478.2L969 1583.2L1029.5 1583.2L995.4 1478.2L973.9 1408.2L934 1257.7L932 1233.2Z" fill="url(#gb2)"/>
<path d="M997.9 1233.2L999.7 1257.7L1036.2 1408.2L1055.8 1478.2L1086.9 1583.2L1147.4 1583.2L1113.3 1478.2L1091.8 1408.2L1051.9 1257.7L1049.9 1233.2Z" fill="url(#gb2)"/>
<path d="M1113.8 1233.2L1115.6 1257.7L1152.1 1408.2L1171.6 1478.2L1202.8 1583.2L1265.3 1583.2L1231.2 1478.2L1209.7 1408.2L1169.8 1257.7L1167.8 1233.2Z" fill="url(#gb2)"/>
<path d="M1232.5 1233.2L1234.3 1257.7L1270.8 1408.2L1290.3 1478.2L1321.5 1583.2L1382.3 1583.2L1348.2 1478.2L1326.7 1408.2L1286.8 1257.7L1284.8 1233.2Z" fill="url(#gb2)"/>
<path d="M1349.6 1233.2L1351.4 1257.7L1387.9 1408.2L1407.4 1478.2L1438.6 1583.2L1501 1583.2L1466.9 1478.2L1445.4 1408.2L1405.5 1257.7L1403.5 1233.2Z" fill="url(#gb2)"/>
<path d="M1467.5 1233.2L1469.3 1257.7L1505.8 1408.2L1525.3 1478.2L1556.5 1583.2L1618.1 1583.2L1584 1478.2L1562.5 1408.2L1522.5 1257.7L1520.6 1233.2Z" fill="url(#gb2)"/>
<path d="M1584.6 1233.2L1586.4 1257.7L1622.9 1408.2L1642.4 1478.2L1673.6 1583.2L1735.6 1583.2L1701.5 1478.2L1680 1408.2L1640 1257.7L1638.1 1233.2Z" fill="url(#gb2)"/>
</g>
<clipPath id="cf3"><rect x="1113.8" y="1233.2" width="55.2" height="350"/></clipPath>
<g clip-path="url(#cf3)">
<rect x="1113.8" y="1233.2" width="55.2" height="350" fill="url(#gr3)" stroke="none" stroke-width="3.2"/>
<path d="M880 1233.2L881.8 1257.7L918.3 1408.2L937.9 1478.2L969 1583.2L1029.5 1583.2L995.4 1478.2L973.9 1408.2L934 1257.7L932 1233.2Z" fill="url(#gb3)"/>
<path d="M997.9 1233.2L999.7 1257.7L1036.2 1408.2L1055.8 1478.2L1086.9 1583.2L1147.4 1583.2L1113.3 1478.2L1091.8 1408.2L1051.9 1257.7L1049.9 1233.2Z" fill="url(#gb3)"/>
<path d="M1113.8 1233.2L1115.6 1257.7L1152.1 1408.2L1171.6 1478.2L1202.8 1583.2L1265.3 1583.2L1231.2 1478.2L1209.7 1408.2L1169.8 1257.7L1167.8 1233.2Z" fill="url(#gb3)"/>
<path d="M1232.5 1233.2L1234.3 1257.7L1270.8 1408.2L1290.3 1478.2L1321.5 1583.2L1382.3 1583.2L1348.2 1478.2L1326.7 1408.2L1286.8 1257.7L1284.8 1233.2Z" fill="url(#gb3)"/>
<path d="M1349.6 1233.2L1351.4 1257.7L1387.9 1408.2L1407.4 1478.2L1438.6 1583.2L1501 1583.2L1466.9 1478.2L1445.4 1408.2L1405.5 1257.7L1403.5 1233.2Z" fill="url(#gb3)"/>
<path d="M1467.5 1233.2L1469.3 1257.7L1505.8 1408.2L1525.3 1478.2L1556.5 1583.2L1618.1 1583.2L1584 1478.2L1562.5 1408.2L1522.5 1257.7L1520.6 1233.2Z" fill="url(#gb3)"/>
<path d="M1584.6 1233.2L1586.4 1257.7L1622.9 1408.2L1642.4 1478.2L1673.6 1583.2L1735.6 1583.2L1701.5 1478.2L1680 1408.2L1640 1257.7L1638.1 1233.2Z" fill="url(#gb3)"/>
</g>
<clipPath id="cf4"><rect x="1167.8" y="1233.2" width="65.9" height="350"/></clipPath>
<g clip-path="url(#cf4)">
<rect x="1167.8" y="1233.2" width="65.9" height="350" fill="url(#gr4)" stroke="none" stroke-width="3.2"/>
<path d="M880 1233.2L881.8 1257.7L918.3 1408.2L937.9 1478.2L969 1583.2L1029.5 1583.2L995.4 1478.2L973.9 1408.2L934 1257.7L932 1233.2Z" fill="url(#gb4)"/>
<path d="M997.9 1233.2L999.7 1257.7L1036.2 1408.2L1055.8 1478.2L1086.9 1583.2L1147.4 1583.2L1113.3 1478.2L1091.8 1408.2L1051.9 1257.7L1049.9 1233.2Z" fill="url(#gb4)"/>
<path d="M1113.8 1233.2L1115.6 1257.7L1152.1 1408.2L1171.6 1478.2L1202.8 1583.2L1265.3 1583.2L1231.2 1478.2L1209.7 1408.2L1169.8 1257.7L1167.8 1233.2Z" fill="url(#gb4)"/>
<path d="M1232.5 1233.2L1234.3 1257.7L1270.8 1408.2L1290.3 1478.2L1321.5 1583.2L1382.3 1583.2L1348.2 1478.2L1326.7 1408.2L1286.8 1257.7L1284.8 1233.2Z" fill="url(#gb4)"/>
<path d="M1349.6 1233.2L1351.4 1257.7L1387.9 1408.2L1407.4 1478.2L1438.6 1583.2L1501 1583.2L1466.9 1478.2L1445.4 1408.2L1405.5 1257.7L1403.5 1233.2Z" fill="url(#gb4)"/>
<path d="M1467.5 1233.2L1469.3 1257.7L1505.8 1408.2L1525.3 1478.2L1556.5 1583.2L1618.1 1583.2L1584 1478.2L1562.5 1408.2L1522.5 1257.7L1520.6 1233.2Z" fill="url(#gb4)"/>
<path d="M1584.6 1233.2L1586.4 1257.7L1622.9 1408.2L1642.4 1478.2L1673.6 1583.2L1735.6 1583.2L1701.5 1478.2L1680 1408.2L1640 1257.7L1638.1 1233.2Z" fill="url(#gb4)"/>
</g>
<clipPath id="cf5"><rect x="1232.5" y="1233.2" width="53.5" height="350"/></clipPath>
<g clip-path="url(#cf5)">
<rect x="1232.5" y="1233.2" width="53.5" height="350" fill="url(#gr5)" stroke="none" stroke-width="3.2"/>
<path d="M880 1233.2L881.8 1257.7L918.3 1408.2L937.9 1478.2L969 1583.2L1029.5 1583.2L995.4 1478.2L973.9 1408.2L934 1257.7L932 1233.2Z" fill="url(#gb5)"/>
<path d="M997.9 1233.2L999.7 1257.7L1036.2 1408.2L1055.8 1478.2L1086.9 1583.2L1147.4 1583.2L1113.3 1478.2L1091.8 1408.2L1051.9 1257.7L1049.9 1233.2Z" fill="url(#gb5)"/>
<path d="M1113.8 1233.2L1115.6 1257.7L1152.1 1408.2L1171.6 1478.2L1202.8 1583.2L1265.3 1583.2L1231.2 1478.2L1209.7 1408.2L1169.8 1257.7L1167.8 1233.2Z" fill="url(#gb5)"/>
<path d="M1232.5 1233.2L1234.3 1257.7L1270.8 1408.2L1290.3 1478.2L1321.5 1583.2L1382.3 1583.2L1348.2 1478.2L1326.7 1408.2L1286.8 1257.7L1284.8 1233.2Z" fill="url(#gb5)"/>
<path d="M1349.6 1233.2L1351.4 1257.7L1387.9 1408.2L1407.4 1478.2L1438.6 1583.2L1501 1583.2L1466.9 1478.2L1445.4 1408.2L1405.5 1257.7L1403.5 1233.2Z" fill="url(#gb5)"/>
<path d="M1467.5 1233.2L1469.3 1257.7L1505.8 1408.2L1525.3 1478.2L1556.5 1583.2L1618.1 1583.2L1584 1478.2L1562.5 1408.2L1522.5 1257.7L1520.6 1233.2Z" fill="url(#gb5)"/>
<path d="M1584.6 1233.2L1586.4 1257.7L1622.9 1408.2L1642.4 1478.2L1673.6 1583.2L1735.6 1583.2L1701.5 1478.2L1680 1408.2L1640 1257.7L1638.1 1233.2Z" fill="url(#gb5)"/>
</g>
<clipPath id="cf6"><rect x="1284.8" y="1233.2" width="66" height="350"/></clipPath>
<g clip-path="url(#cf6)">
<rect x="1284.8" y="1233.2" width="66" height="350" fill="url(#gr6)" stroke="none" stroke-width="3.2"/>
<path d="M880 1233.2L881.8 1257.7L918.3 1408.2L937.9 1478.2L969 1583.2L1029.5 1583.2L995.4 1478.2L973.9 1408.2L934 1257.7L932 1233.2Z" fill="url(#gb6)"/>
<path d="M997.9 1233.2L999.7 1257.7L1036.2 1408.2L1055.8 1478.2L1086.9 1583.2L1147.4 1583.2L1113.3 1478.2L1091.8 1408.2L1051.9 1257.7L1049.9 1233.2Z" fill="url(#gb6)"/>
<path d="M1113.8 1233.2L1115.6 1257.7L1152.1 1408.2L1171.6 1478.2L1202.8 1583.2L1265.3 1583.2L1231.2 1478.2L1209.7 1408.2L1169.8 1257.7L1167.8 1233.2Z" fill="url(#gb6)"/>
<path d="M1232.5 1233.2L1234.3 1257.7L1270.8 1408.2L1290.3 1478.2L1321.5 1583.2L1382.3 1583.2L1348.2 1478.2L1326.7 1408.2L1286.8 1257.7L1284.8 1233.2Z" fill="url(#gb6)"/>
<path d="M1349.6 1233.2L1351.4 1257.7L1387.9 1408.2L1407.4 1478.2L1438.6 1583.2L1501 1583.2L1466.9 1478.2L1445.4 1408.2L1405.5 1257.7L1403.5 1233.2Z" fill="url(#gb6)"/>
<path d="M1467.5 1233.2L1469.3 1257.7L1505.8 1408.2L1525.3 1478.2L1556.5 1583.2L1618.1 1583.2L1584 1478.2L1562.5 1408.2L1522.5 1257.7L1520.6 1233.2Z" fill="url(#gb6)"/>
<path d="M1584.6 1233.2L1586.4 1257.7L1622.9 1408.2L1642.4 1478.2L1673.6 1583.2L1735.6 1583.2L1701.5 1478.2L1680 1408.2L1640 1257.7L1638.1 1233.2Z" fill="url(#gb6)"/>
</g>
<clipPath id="cf7"><rect x="1349.6" y="1233.2" width="55.1" height="350"/></clipPath>
<g clip-path="url(#cf7)">
<rect x="1349.6" y="1233.2" width="55.1" height="350" fill="url(#gr7)" stroke="none" stroke-width="3.2"/>
<path d="M880 1233.2L881.8 1257.7L918.3 1408.2L937.9 1478.2L969 1583.2L1029.5 1583.2L995.4 1478.2L973.9 1408.2L934 1257.7L932 1233.2Z" fill="url(#gb7)"/>
<path d="M997.9 1233.2L999.7 1257.7L1036.2 1408.2L1055.8 1478.2L1086.9 1583.2L1147.4 1583.2L1113.3 1478.2L1091.8 1408.2L1051.9 1257.7L1049.9 1233.2Z" fill="url(#gb7)"/>
<path d="M1113.8 1233.2L1115.6 1257.7L1152.1 1408.2L1171.6 1478.2L1202.8 1583.2L1265.3 1583.2L1231.2 1478.2L1209.7 1408.2L1169.8 1257.7L1167.8 1233.2Z" fill="url(#gb7)"/>
<path d="M1232.5 1233.2L1234.3 1257.7L1270.8 1408.2L1290.3 1478.2L1321.5 1583.2L1382.3 1583.2L1348.2 1478.2L1326.7 1408.2L1286.8 1257.7L1284.8 1233.2Z" fill="url(#gb7)"/>
<path d="M1349.6 1233.2L1351.4 1257.7L1387.9 1408.2L1407.4 1478.2L1438.6 1583.2L1501 1583.2L1466.9 1478.2L1445.4 1408.2L1405.5 1257.7L1403.5 1233.2Z" fill="url(#gb7)"/>
<path d="M1467.5 1233.2L1469.3 1257.7L1505.8 1408.2L1525.3 1478.2L1556.5 1583.2L1618.1 1583.2L1584 1478.2L1562.5 1408.2L1522.5 1257.7L1520.6 1233.2Z" fill="url(#gb7)"/>
<path d="M1584.6 1233.2L1586.4 1257.7L1622.9 1408.2L1642.4 1478.2L1673.6 1583.2L1735.6 1583.2L1701.5 1478.2L1680 1408.2L1640 1257.7L1638.1 1233.2Z" fill="url(#gb7)"/>
</g>
<clipPath id="cf8"><rect x="1403.5" y="1233.2" width="65.2" height="350"/></clipPath>
<g clip-path="url(#cf8)">
<rect x="1403.5" y="1233.2" width="65.2" height="350" fill="url(#gr8)" stroke="none" stroke-width="3.2"/>
<path d="M880 1233.2L881.8 1257.7L918.3 1408.2L937.9 1478.2L969 1583.2L1029.5 1583.2L995.4 1478.2L973.9 1408.2L934 1257.7L932 1233.2Z" fill="url(#gb8)"/>
<path d="M997.9 1233.2L999.7 1257.7L1036.2 1408.2L1055.8 1478.2L1086.9 1583.2L1147.4 1583.2L1113.3 1478.2L1091.8 1408.2L1051.9 1257.7L1049.9 1233.2Z" fill="url(#gb8)"/>
<path d="M1113.8 1233.2L1115.6 1257.7L1152.1 1408.2L1171.6 1478.2L1202.8 1583.2L1265.3 1583.2L1231.2 1478.2L1209.7 1408.2L1169.8 1257.7L1167.8 1233.2Z" fill="url(#gb8)"/>
<path d="M1232.5 1233.2L1234.3 1257.7L1270.8 1408.2L1290.3 1478.2L1321.5 1583.2L1382.3 1583.2L1348.2 1478.2L1326.7 1408.2L1286.8 1257.7L1284.8 1233.2Z" fill="url(#gb8)"/>
<path d="M1349.6 1233.2L1351.4 1257.7L1387.9 1408.2L1407.4 1478.2L1438.6 1583.2L1501 1583.2L1466.9 1478.2L1445.4 1408.2L1405.5 1257.7L1403.5 1233.2Z" fill="url(#gb8)"/>
<path d="M1467.5 1233.2L1469.3 1257.7L1505.8 1408.2L1525.3 1478.2L1556.5 1583.2L1618.1 1583.2L1584 1478.2L1562.5 1408.2L1522.5 1257.7L1520.6 1233.2Z" fill="url(#gb8)"/>
<path d="M1584.6 1233.2L1586.4 1257.7L1622.9 1408.2L1642.4 1478.2L1673.6 1583.2L1735.6 1583.2L1701.5 1478.2L1680 1408.2L1640 1257.7L1638.1 1233.2Z" fill="url(#gb8)"/>
</g>
<clipPath id="cf9"><rect x="1467.5" y="1233.2" width="54.3" height="350"/></clipPath>
<g clip-path="url(#cf9)">
<rect x="1467.5" y="1233.2" width="54.3" height="350" fill="url(#gr9)" stroke="none" stroke-width="3.2"/>
<path d="M880 1233.2L881.8 1257.7L918.3 1408.2L937.9 1478.2L969 1583.2L1029.5 1583.2L995.4 1478.2L973.9 1408.2L934 1257.7L932 1233.2Z" fill="url(#gb9)"/>
<path d="M997.9 1233.2L999.7 1257.7L1036.2 1408.2L1055.8 1478.2L1086.9 1583.2L1147.4 1583.2L1113.3 1478.2L1091.8 1408.2L1051.9 1257.7L1049.9 1233.2Z" fill="url(#gb9)"/>
<path d="M1113.8 1233.2L1115.6 1257.7L1152.1 1408.2L1171.6 1478.2L1202.8 1583.2L1265.3 1583.2L1231.2 1478.2L1209.7 1408.2L1169.8 1257.7L1167.8 1233.2Z" fill="url(#gb9)"/>
<path d="M1232.5 1233.2L1234.3 1257.7L1270.8 1408.2L1290.3 1478.2L1321.5 1583.2L1382.3 1583.2L1348.2 1478.2L1326.7 1408.2L1286.8 1257.7L1284.8 1233.2Z" fill="url(#gb9)"/>
<path d="M1349.6 1233.2L1351.4 1257.7L1387.9 1408.2L1407.4 1478.2L1438.6 1583.2L1501 1583.2L1466.9 1478.2L1445.4 1408.2L1405.5 1257.7L1403.5 1233.2Z" fill="url(#gb9)"/>
<path d="M1467.5 1233.2L1469.3 1257.7L1505.8 1408.2L1525.3 1478.2L1556.5 1583.2L1618.1 1583.2L1584 1478.2L1562.5 1408.2L1522.5 1257.7L1520.6 1233.2Z" fill="url(#gb9)"/>
<path d="M1584.6 1233.2L1586.4 1257.7L1622.9 1408.2L1642.4 1478.2L1673.6 1583.2L1735.6 1583.2L1701.5 1478.2L1680 1408.2L1640 1257.7L1638.1 1233.2Z" fill="url(#gb9)"/>
</g>
<clipPath id="cf10"><rect x="1520.6" y="1233.2" width="65.2" height="350"/></clipPath>
<g clip-path="url(#cf10)">
<rect x="1520.6" y="1233.2" width="65.2" height="350" fill="url(#gr10)" stroke="none" stroke-width="3.2"/>
<path d="M880 1233.2L881.8 1257.7L918.3 1408.2L937.9 1478.2L969 1583.2L1029.5 1583.2L995.4 1478.2L973.9 1408.2L934 1257.7L932 1233.2Z" fill="url(#gb10)"/>
<path d="M997.9 1233.2L999.7 1257.7L1036.2 1408.2L1055.8 1478.2L1086.9 1583.2L1147.4 1583.2L1113.3 1478.2L1091.8 1408.2L1051.9 1257.7L1049.9 1233.2Z" fill="url(#gb10)"/>
<path d="M1113.8 1233.2L1115.6 1257.7L1152.1 1408.2L1171.6 1478.2L1202.8 1583.2L1265.3 1583.2L1231.2 1478.2L1209.7 1408.2L1169.8 1257.7L1167.8 1233.2Z" fill="url(#gb10)"/>
<path d="M1232.5 1233.2L1234.3 1257.7L1270.8 1408.2L1290.3 1478.2L1321.5 1583.2L1382.3 1583.2L1348.2 1478.2L1326.7 1408.2L1286.8 1257.7L1284.8 1233.2Z" fill="url(#gb10)"/>
<path d="M1349.6 1233.2L1351.4 1257.7L1387.9 1408.2L1407.4 1478.2L1438.6 1583.2L1501 1583.2L1466.9 1478.2L1445.4 1408.2L1405.5 1257.7L1403.5 1233.2Z" fill="url(#gb10)"/>
<path d="M1467.5 1233.2L1469.3 1257.7L1505.8 1408.2L1525.3 1478.2L1556.5 1583.2L1618.1 1583.2L1584 1478.2L1562.5 1408.2L1522.5 1257.7L1520.6 1233.2Z" fill="url(#gb10)"/>
<path d="M1584.6 1233.2L1586.4 1257.7L1622.9 1408.2L1642.4 1478.2L1673.6 1583.2L1735.6 1583.2L1701.5 1478.2L1680 1408.2L1640 1257.7L1638.1 1233.2Z" fill="url(#gb10)"/>
</g>
<clipPath id="cf11"><rect x="1584.6" y="1233.2" width="54.7" height="350"/></clipPath>
<g clip-path="url(#cf11)">
<rect x="1584.6" y="1233.2" width="54.7" height="350" fill="url(#gr11)" stroke="none" stroke-width="3.2"/>
<path d="M880 1233.2L881.8 1257.7L918.3 1408.2L937.9 1478.2L969 1583.2L1029.5 1583.2L995.4 1478.2L973.9 1408.2L934 1257.7L932 1233.2Z" fill="url(#gb11)"/>
<path d="M997.9 1233.2L999.7 1257.7L1036.2 1408.2L1055.8 1478.2L1086.9 1583.2L1147.4 1583.2L1113.3 1478.2L1091.8 1408.2L1051.9 1257.7L1049.9 1233.2Z" fill="url(#gb11)"/>
<path d="M1113.8 1233.2L1115.6 1257.7L1152.1 1408.2L1171.6 1478.2L1202.8 1583.2L1265.3 1583.2L1231.2 1478.2L1209.7 1408.2L1169.8 1257.7L1167.8 1233.2Z" fill="url(#gb11)"/>
<path d="M1232.5 1233.2L1234.3 1257.7L1270.8 1408.2L1290.3 1478.2L1321.5 1583.2L1382.3 1583.2L1348.2 1478.2L1326.7 1408.2L1286.8 1257.7L1284.8 1233.2Z" fill="url(#gb11)"/>
<path d="M1349.6 1233.2L1351.4 1257.7L1387.9 1408.2L1407.4 1478.2L1438.6 1583.2L1501 1583.2L1466.9 1478.2L1445.4 1408.2L1405.5 1257.7L1403.5 1233.2Z" fill="url(#gb11)"/>
<path d="M1467.5 1233.2L1469.3 1257.7L1505.8 1408.2L1525.3 1478.2L1556.5 1583.2L1618.1 1583.2L1584 1478.2L1562.5 1408.2L1522.5 1257.7L1520.6 1233.2Z" fill="url(#gb11)"/>
<path d="M1584.6 1233.2L1586.4 1257.7L1622.9 1408.2L1642.4 1478.2L1673.6 1583.2L1735.6 1583.2L1701.5 1478.2L1680 1408.2L1640 1257.7L1638.1 1233.2Z" fill="url(#gb11)"/>
</g>
<clipPath id="cf12"><rect x="1638.1" y="1233.2" width="60" height="350"/></clipPath>
<g clip-path="url(#cf12)">
<rect x="1638.1" y="1233.2" width="60" height="350" fill="url(#gr12)" stroke="none" stroke-width="3.2"/>
<path d="M880 1233.2L881.8 1257.7L918.3 1408.2L937.9 1478.2L969 1583.2L1029.5 1583.2L995.4 1478.2L973.9 1408.2L934 1257.7L932 1233.2Z" fill="url(#gb12)"/>
<path d="M997.9 1233.2L999.7 1257.7L1036.2 1408.2L1055.8 1478.2L1086.9 1583.2L1147.4 1583.2L1113.3 1478.2L1091.8 1408.2L1051.9 1257.7L1049.9 1233.2Z" fill="url(#gb12)"/>
<path d="M1113.8 1233.2L1115.6 1257.7L1152.1 1408.2L1171.6 1478.2L1202.8 1583.2L1265.3 1583.2L1231.2 1478.2L1209.7 1408.2L1169.8 1257.7L1167.8 1233.2Z" fill="url(#gb12)"/>
<path d="M1232.5 1233.2L1234.3 1257.7L1270.8 1408.2L1290.3 1478.2L1321.5 1583.2L1382.3 1583.2L1348.2 1478.2L1326.7 1408.2L1286.8 1257.7L1284.8 1233.2Z" fill="url(#gb12)"/>
<path d="M1349.6 1233.2L1351.4 1257.7L1387.9 1408.2L1407.4 1478.2L1438.6 1583.2L1501 1583.2L1466.9 1478.2L1445.4 1408.2L1405.5 1257.7L1403.5 1233.2Z" fill="url(#gb12)"/>
<path d="M1467.5 1233.2L1469.3 1257.7L1505.8 1408.2L1525.3 1478.2L1556.5 1583.2L1618.1 1583.2L1584 1478.2L1562.5 1408.2L1522.5 1257.7L1520.6 1233.2Z" fill="url(#gb12)"/>
<path d="M1584.6 1233.2L1586.4 1257.7L1622.9 1408.2L1642.4 1478.2L1673.6 1583.2L1735.6 1583.2L1701.5 1478.2L1680 1408.2L1640 1257.7L1638.1 1233.2Z" fill="url(#gb12)"/>
</g>
</g>
<rect x="950.3" y="1233.2" width="747.5" height="350" fill="none" stroke="#000" stroke-width="3.2" stroke-linejoin="miter"/>
<line x1="950.3" y1="1583.2" x2="950.3" y2="1597.2" stroke="#000" stroke-width="3.2"/>
<text x="950.3" y="1640" font-family="'DejaVu Sans', 'Liberation Sans', sans-serif" font-size="37.2" text-anchor="middle">0</text>
<line x1="1199.47" y1="1583.2" x2="1199.47" y2="1597.2" stroke="#000" stroke-width="3.2"/>
<text x="1196.47" y="1640" font-family="'DejaVu Sans', 'Liberation Sans', sans-serif" font-size="37.2" text-anchor="middle" letter-spacing="-3.9">1000</text>
<line x1="1448.64" y1="1583.2" x2="1448.64" y2="1597.2" stroke="#000" stroke-width="3.2"/>
<text x="1445.64" y="1640" font-family="'DejaVu Sans', 'Liberation Sans', sans-serif" font-size="37.2" text-anchor="middle" letter-spacing="-3.9">2000</text>
<line x1="1697.81" y1="1583.2" x2="1697.81" y2="1597.2" stroke="#000" stroke-width="3.2"/>
<text x="1694.81" y="1640" font-family="'DejaVu Sans', 'Liberation Sans', sans-serif" font-size="37.2" text-anchor="middle" letter-spacing="-3.9">3000</text>
<line x1="1697.8" y1="1498.24" x2="1711.8" y2="1498.24" stroke="#000" stroke-width="3.2"/>
<text x="1725" y="1512.84" font-family="'DejaVu Sans', 'Liberation Sans', sans-serif" font-size="37.2">25</text>
<line x1="1697.8" y1="1410.42" x2="1711.8" y2="1410.42" stroke="#000" stroke-width="3.2"/>
<text x="1725" y="1425.02" font-family="'DejaVu Sans', 'Liberation Sans', sans-serif" font-size="37.2">50</text>
<line x1="1697.8" y1="1322.61" x2="1711.8" y2="1322.61" stroke="#000" stroke-width="3.2"/>
<text x="1725" y="1337.21" font-family="'DejaVu Sans', 'Liberation Sans', sans-serif" font-size="37.2">75</text>
<line x1="1697.8" y1="1234.8" x2="1711.8" y2="1234.8" stroke="#000" stroke-width="3.2"/>
<text x="1725" y="1249.4" font-family="'DejaVu Sans', 'Liberation Sans', sans-serif" font-size="37.2">100</text>
<text transform="translate(1352.3,1696.2) scale(1.027,1)" font-family="'DejaVu Sans', 'Liberation Sans', sans-serif" font-size="37.2" text-anchor="middle">Time-Steps, <tspan font-style="italic">t</tspan><tspan font-size="27" dy="6" font-style="italic">k</tspan><tspan dy="-6">/Δ</tspan><tspan font-family="'DejaVu Serif', 'Liberation Serif', serif" font-style="italic">t</tspan></text>
<text x="932" y="1227.8" font-family="'DejaVu Sans', 'Liberation Sans', sans-serif" font-size="47" font-weight="bold">f</text>
<rect x="1822.4" y="1235.6" width="17" height="347.4" fill="url(#cbar)" stroke="none" stroke-width="3.2"/>
<rect x="1822.4" y="1235.6" width="17" height="347.4" fill="none" stroke="#000" stroke-width="3.2" stroke-linejoin="miter"/>
<line x1="1839.4" y1="1235.6" x2="1853.4" y2="1235.6" stroke="#000" stroke-width="3.2"/>
<text x="1864.6" y="1250.2" font-family="'DejaVu Sans', 'Liberation Sans', sans-serif" font-size="37.2">2</text>
<line x1="1839.4" y1="1322.45" x2="1853.4" y2="1322.45" stroke="#000" stroke-width="3.2"/>
<text x="1864.6" y="1337.05" font-family="'DejaVu Sans', 'Liberation Sans', sans-serif" font-size="37.2">1</text>
<line x1="1839.4" y1="1409.3" x2="1853.4" y2="1409.3" stroke="#000" stroke-width="3.2"/>
<text x="1864.6" y="1423.9" font-family="'DejaVu Sans', 'Liberation Sans', sans-serif" font-size="37.2">0</text>
<line x1="1839.4" y1="1496.15" x2="1853.4" y2="1496.15" stroke="#000" stroke-width="3.2"/>
<text x="1864.6" y="1510.75" font-family="'DejaVu Sans', 'Liberation Sans', sans-serif" font-size="37.2">−1</text>
<line x1="1839.4" y1="1583" x2="1853.4" y2="1583" stroke="#000" stroke-width="3.2"/>
<text x="1864.6" y="1597.6" font-family="'DejaVu Sans', 'Liberation Sans', sans-serif" font-size="37.2">−2</text>
<text transform="translate(1964,1390) rotate(-90)" font-family="'DejaVu Sans', 'Liberation Sans', sans-serif" font-size="37.2" text-anchor="middle"><tspan font-style="italic">F</tspan><tspan font-size="27" dy="-16" font-family="'DejaVu Serif', 'Liberation Serif', serif" font-style="italic">a</tspan><tspan font-size="27" dx="-13" dy="24" font-style="italic">i</tspan><tspan dy="-8">(</tspan><tspan font-style="italic">t</tspan><tspan font-size="27" dy="6" font-style="italic">k</tspan><tspan dy="-6">) / F</tspan><tspan font-size="27" dy="6">0</tspan></text>
</svg>
</body></html>
